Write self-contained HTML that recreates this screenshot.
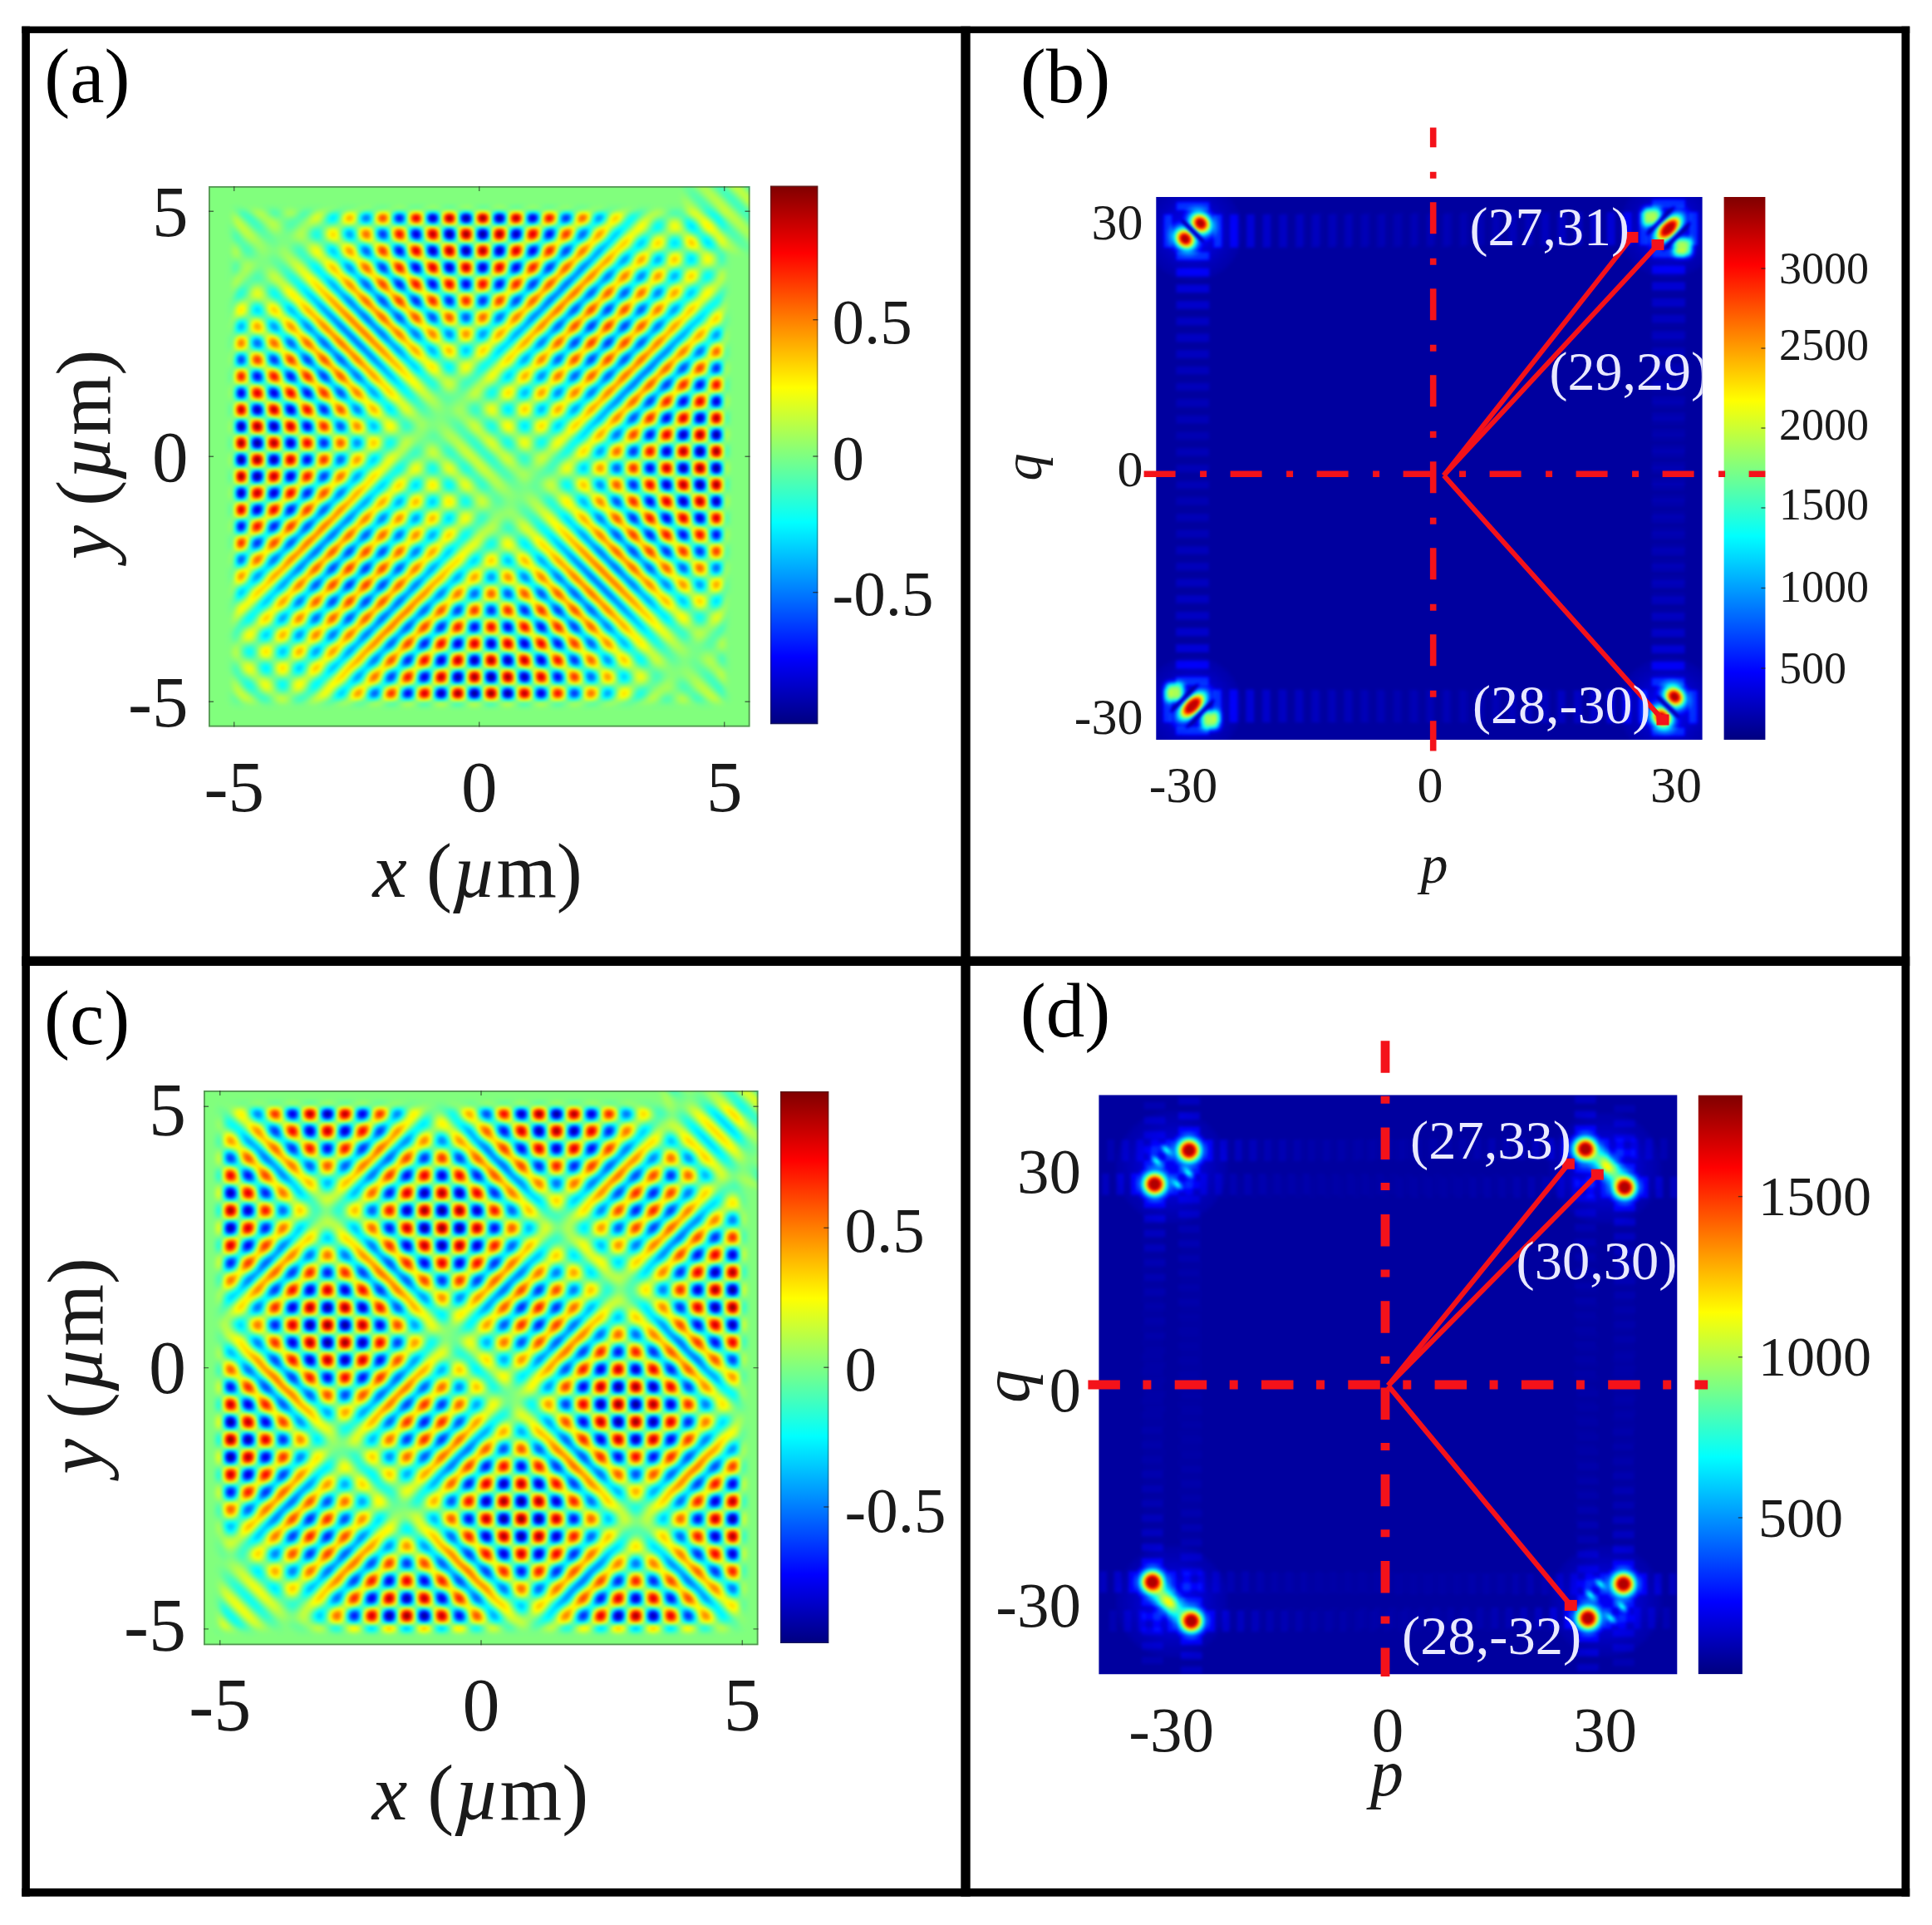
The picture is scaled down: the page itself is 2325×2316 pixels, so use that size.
<!DOCTYPE html>
<html><head><meta charset="utf-8"><title>figure</title>
<style>html,body{margin:0;padding:0;background:#fff}svg{display:block}</style></head>
<body>
<svg width="2325" height="2316" viewBox="0 0 2325 2316">
<defs>
<filter id="jetw" filterUnits="userSpaceOnUse" x="0" y="0" width="2325" height="2316" color-interpolation-filters="sRGB"><feComponentTransfer><feFuncR type="table" tableValues="0 0 0 0 .5 1 1 1 .5"/><feFuncG type="table" tableValues="0 0 .5 1 1 1 .5 0 0"/><feFuncB type="table" tableValues=".5 1 1 1 .5 0 0 0 0"/></feComponentTransfer><feGaussianBlur stdDeviation="1.50"/></filter>
<filter id="jetf" filterUnits="userSpaceOnUse" x="0" y="0" width="2325" height="2316" color-interpolation-filters="sRGB"><feGaussianBlur stdDeviation="1.00"/><feComponentTransfer><feFuncR type="table" tableValues="0 0 0 0 .5 1 1 1 .5"/><feFuncG type="table" tableValues="0 0 .5 1 1 1 .5 0 0"/><feFuncB type="table" tableValues=".5 1 1 1 .5 0 0 0 0"/></feComponentTransfer><feGaussianBlur stdDeviation="1.60"/></filter>
<linearGradient id="jetbar" x1="0" y1="1" x2="0" y2="0"><stop offset="0.0000" stop-color="rgb(0,0,128)"/><stop offset="0.1250" stop-color="rgb(0,0,255)"/><stop offset="0.2500" stop-color="rgb(0,128,255)"/><stop offset="0.3750" stop-color="rgb(0,255,255)"/><stop offset="0.5000" stop-color="rgb(128,255,128)"/><stop offset="0.6250" stop-color="rgb(255,255,0)"/><stop offset="0.7500" stop-color="rgb(255,128,0)"/><stop offset="0.8750" stop-color="rgb(255,0,0)"/><stop offset="1.0000" stop-color="rgb(128,0,0)"/></linearGradient>
<linearGradient id="aw1p" gradientUnits="userSpaceOnUse" x1="460.400" y1="261.700" x2="470.450" y2="271.750" spreadMethod="reflect"><stop offset="0.0000" stop-color="rgb(255,255,255)"/><stop offset="0.1250" stop-color="rgb(245,245,245)"/><stop offset="0.2500" stop-color="rgb(218,218,218)"/><stop offset="0.3750" stop-color="rgb(176,176,176)"/><stop offset="0.5000" stop-color="rgb(128,128,128)"/><stop offset="0.6250" stop-color="rgb(79,79,79)"/><stop offset="0.7500" stop-color="rgb(37,37,37)"/><stop offset="0.8750" stop-color="rgb(10,10,10)"/><stop offset="1.0000" stop-color="rgb(0,0,0)"/></linearGradient>
<linearGradient id="aw1n" gradientUnits="userSpaceOnUse" x1="470.450" y1="271.750" x2="480.500" y2="281.800" spreadMethod="reflect"><stop offset="0.0000" stop-color="rgb(255,255,255)"/><stop offset="0.1250" stop-color="rgb(245,245,245)"/><stop offset="0.2500" stop-color="rgb(218,218,218)"/><stop offset="0.3750" stop-color="rgb(176,176,176)"/><stop offset="0.5000" stop-color="rgb(128,128,128)"/><stop offset="0.6250" stop-color="rgb(79,79,79)"/><stop offset="0.7500" stop-color="rgb(37,37,37)"/><stop offset="0.8750" stop-color="rgb(10,10,10)"/><stop offset="1.0000" stop-color="rgb(0,0,0)"/></linearGradient>
<linearGradient id="aw2p" gradientUnits="userSpaceOnUse" x1="460.400" y1="261.700" x2="470.450" y2="251.650" spreadMethod="reflect"><stop offset="0.0000" stop-color="rgb(255,255,255)"/><stop offset="0.1250" stop-color="rgb(245,245,245)"/><stop offset="0.2500" stop-color="rgb(218,218,218)"/><stop offset="0.3750" stop-color="rgb(176,176,176)"/><stop offset="0.5000" stop-color="rgb(128,128,128)"/><stop offset="0.6250" stop-color="rgb(79,79,79)"/><stop offset="0.7500" stop-color="rgb(37,37,37)"/><stop offset="0.8750" stop-color="rgb(10,10,10)"/><stop offset="1.0000" stop-color="rgb(0,0,0)"/></linearGradient>
<linearGradient id="aw2n" gradientUnits="userSpaceOnUse" x1="470.450" y1="251.650" x2="480.500" y2="241.600" spreadMethod="reflect"><stop offset="0.0000" stop-color="rgb(255,255,255)"/><stop offset="0.1250" stop-color="rgb(245,245,245)"/><stop offset="0.2500" stop-color="rgb(218,218,218)"/><stop offset="0.3750" stop-color="rgb(176,176,176)"/><stop offset="0.5000" stop-color="rgb(128,128,128)"/><stop offset="0.6250" stop-color="rgb(79,79,79)"/><stop offset="0.7500" stop-color="rgb(37,37,37)"/><stop offset="0.8750" stop-color="rgb(10,10,10)"/><stop offset="1.0000" stop-color="rgb(0,0,0)"/></linearGradient>
<linearGradient id="ae1p" gradientUnits="userSpaceOnUse" x1="207.95" y1="918.00" x2="945.45" y2="180.50"><stop offset="0.0000" stop-color="#fff" stop-opacity="0.000"/><stop offset="0.0063" stop-color="#fff" stop-opacity="0.000"/><stop offset="0.0125" stop-color="#fff" stop-opacity="0.000"/><stop offset="0.0187" stop-color="#fff" stop-opacity="0.000"/><stop offset="0.0250" stop-color="#fff" stop-opacity="0.000"/><stop offset="0.0312" stop-color="#fff" stop-opacity="0.000"/><stop offset="0.0375" stop-color="#fff" stop-opacity="0.000"/><stop offset="0.0437" stop-color="#fff" stop-opacity="0.000"/><stop offset="0.0500" stop-color="#fff" stop-opacity="0.000"/><stop offset="0.0563" stop-color="#fff" stop-opacity="0.000"/><stop offset="0.0625" stop-color="#fff" stop-opacity="0.000"/><stop offset="0.0688" stop-color="#fff" stop-opacity="0.000"/><stop offset="0.0750" stop-color="#fff" stop-opacity="0.000"/><stop offset="0.0813" stop-color="#fff" stop-opacity="0.000"/><stop offset="0.0875" stop-color="#fff" stop-opacity="0.000"/><stop offset="0.0938" stop-color="#fff" stop-opacity="0.000"/><stop offset="0.1000" stop-color="#fff" stop-opacity="0.000"/><stop offset="0.1062" stop-color="#fff" stop-opacity="0.000"/><stop offset="0.1125" stop-color="#fff" stop-opacity="0.000"/><stop offset="0.1187" stop-color="#fff" stop-opacity="0.000"/><stop offset="0.1250" stop-color="#fff" stop-opacity="0.000"/><stop offset="0.1313" stop-color="#fff" stop-opacity="0.000"/><stop offset="0.1375" stop-color="#fff" stop-opacity="0.000"/><stop offset="0.1437" stop-color="#fff" stop-opacity="0.000"/><stop offset="0.1500" stop-color="#fff" stop-opacity="0.000"/><stop offset="0.1562" stop-color="#fff" stop-opacity="0.000"/><stop offset="0.1625" stop-color="#fff" stop-opacity="0.000"/><stop offset="0.1688" stop-color="#fff" stop-opacity="0.000"/><stop offset="0.1750" stop-color="#fff" stop-opacity="0.000"/><stop offset="0.1812" stop-color="#fff" stop-opacity="0.000"/><stop offset="0.1875" stop-color="#fff" stop-opacity="0.000"/><stop offset="0.1938" stop-color="#fff" stop-opacity="0.000"/><stop offset="0.2000" stop-color="#fff" stop-opacity="0.000"/><stop offset="0.2062" stop-color="#fff" stop-opacity="0.000"/><stop offset="0.2125" stop-color="#fff" stop-opacity="0.000"/><stop offset="0.2188" stop-color="#fff" stop-opacity="0.000"/><stop offset="0.2250" stop-color="#fff" stop-opacity="0.000"/><stop offset="0.2313" stop-color="#fff" stop-opacity="0.000"/><stop offset="0.2375" stop-color="#fff" stop-opacity="0.000"/><stop offset="0.2437" stop-color="#fff" stop-opacity="0.000"/><stop offset="0.2500" stop-color="#fff" stop-opacity="0.000"/><stop offset="0.2562" stop-color="#fff" stop-opacity="0.000"/><stop offset="0.2625" stop-color="#fff" stop-opacity="0.000"/><stop offset="0.2687" stop-color="#fff" stop-opacity="0.000"/><stop offset="0.2750" stop-color="#fff" stop-opacity="0.000"/><stop offset="0.2812" stop-color="#fff" stop-opacity="0.000"/><stop offset="0.2875" stop-color="#fff" stop-opacity="0.000"/><stop offset="0.2938" stop-color="#fff" stop-opacity="0.000"/><stop offset="0.3000" stop-color="#fff" stop-opacity="0.000"/><stop offset="0.3063" stop-color="#fff" stop-opacity="0.000"/><stop offset="0.3125" stop-color="#fff" stop-opacity="0.000"/><stop offset="0.3187" stop-color="#fff" stop-opacity="0.000"/><stop offset="0.3250" stop-color="#fff" stop-opacity="0.000"/><stop offset="0.3312" stop-color="#fff" stop-opacity="0.000"/><stop offset="0.3375" stop-color="#fff" stop-opacity="0.000"/><stop offset="0.3438" stop-color="#fff" stop-opacity="0.000"/><stop offset="0.3500" stop-color="#fff" stop-opacity="0.000"/><stop offset="0.3563" stop-color="#fff" stop-opacity="0.000"/><stop offset="0.3625" stop-color="#fff" stop-opacity="0.000"/><stop offset="0.3688" stop-color="#fff" stop-opacity="0.000"/><stop offset="0.3750" stop-color="#fff" stop-opacity="0.000"/><stop offset="0.3812" stop-color="#fff" stop-opacity="0.000"/><stop offset="0.3875" stop-color="#fff" stop-opacity="0.000"/><stop offset="0.3937" stop-color="#fff" stop-opacity="0.000"/><stop offset="0.4000" stop-color="#fff" stop-opacity="0.000"/><stop offset="0.4062" stop-color="#fff" stop-opacity="0.000"/><stop offset="0.4125" stop-color="#fff" stop-opacity="0.000"/><stop offset="0.4188" stop-color="#fff" stop-opacity="0.000"/><stop offset="0.4250" stop-color="#fff" stop-opacity="0.000"/><stop offset="0.4313" stop-color="#fff" stop-opacity="0.000"/><stop offset="0.4375" stop-color="#fff" stop-opacity="0.000"/><stop offset="0.4437" stop-color="#fff" stop-opacity="0.000"/><stop offset="0.4500" stop-color="#fff" stop-opacity="0.000"/><stop offset="0.4562" stop-color="#fff" stop-opacity="0.000"/><stop offset="0.4625" stop-color="#fff" stop-opacity="0.000"/><stop offset="0.4688" stop-color="#fff" stop-opacity="0.000"/><stop offset="0.4750" stop-color="#fff" stop-opacity="0.000"/><stop offset="0.4813" stop-color="#fff" stop-opacity="0.000"/><stop offset="0.4875" stop-color="#fff" stop-opacity="0.000"/><stop offset="0.4938" stop-color="#fff" stop-opacity="0.000"/><stop offset="0.5000" stop-color="#fff" stop-opacity="0.000"/><stop offset="0.5062" stop-color="#fff" stop-opacity="0.008"/><stop offset="0.5125" stop-color="#fff" stop-opacity="0.024"/><stop offset="0.5188" stop-color="#fff" stop-opacity="0.046"/><stop offset="0.5250" stop-color="#fff" stop-opacity="0.073"/><stop offset="0.5312" stop-color="#fff" stop-opacity="0.104"/><stop offset="0.5375" stop-color="#fff" stop-opacity="0.138"/><stop offset="0.5437" stop-color="#fff" stop-opacity="0.175"/><stop offset="0.5500" stop-color="#fff" stop-opacity="0.215"/><stop offset="0.5563" stop-color="#fff" stop-opacity="0.257"/><stop offset="0.5625" stop-color="#fff" stop-opacity="0.300"/><stop offset="0.5687" stop-color="#fff" stop-opacity="0.345"/><stop offset="0.5750" stop-color="#fff" stop-opacity="0.390"/><stop offset="0.5813" stop-color="#fff" stop-opacity="0.437"/><stop offset="0.5875" stop-color="#fff" stop-opacity="0.483"/><stop offset="0.5938" stop-color="#fff" stop-opacity="0.529"/><stop offset="0.6000" stop-color="#fff" stop-opacity="0.574"/><stop offset="0.6062" stop-color="#fff" stop-opacity="0.619"/><stop offset="0.6125" stop-color="#fff" stop-opacity="0.662"/><stop offset="0.6188" stop-color="#fff" stop-opacity="0.704"/><stop offset="0.6250" stop-color="#fff" stop-opacity="0.744"/><stop offset="0.6312" stop-color="#fff" stop-opacity="0.782"/><stop offset="0.6375" stop-color="#fff" stop-opacity="0.818"/><stop offset="0.6438" stop-color="#fff" stop-opacity="0.851"/><stop offset="0.6500" stop-color="#fff" stop-opacity="0.881"/><stop offset="0.6562" stop-color="#fff" stop-opacity="0.908"/><stop offset="0.6625" stop-color="#fff" stop-opacity="0.932"/><stop offset="0.6687" stop-color="#fff" stop-opacity="0.952"/><stop offset="0.6750" stop-color="#fff" stop-opacity="0.969"/><stop offset="0.6813" stop-color="#fff" stop-opacity="0.983"/><stop offset="0.6875" stop-color="#fff" stop-opacity="0.992"/><stop offset="0.6937" stop-color="#fff" stop-opacity="0.998"/><stop offset="0.7000" stop-color="#fff" stop-opacity="1.000"/><stop offset="0.7063" stop-color="#fff" stop-opacity="0.998"/><stop offset="0.7125" stop-color="#fff" stop-opacity="0.992"/><stop offset="0.7188" stop-color="#fff" stop-opacity="0.983"/><stop offset="0.7250" stop-color="#fff" stop-opacity="0.969"/><stop offset="0.7312" stop-color="#fff" stop-opacity="0.952"/><stop offset="0.7375" stop-color="#fff" stop-opacity="0.932"/><stop offset="0.7438" stop-color="#fff" stop-opacity="0.908"/><stop offset="0.7500" stop-color="#fff" stop-opacity="0.881"/><stop offset="0.7562" stop-color="#fff" stop-opacity="0.851"/><stop offset="0.7625" stop-color="#fff" stop-opacity="0.818"/><stop offset="0.7688" stop-color="#fff" stop-opacity="0.782"/><stop offset="0.7750" stop-color="#fff" stop-opacity="0.744"/><stop offset="0.7812" stop-color="#fff" stop-opacity="0.704"/><stop offset="0.7875" stop-color="#fff" stop-opacity="0.662"/><stop offset="0.7937" stop-color="#fff" stop-opacity="0.619"/><stop offset="0.8000" stop-color="#fff" stop-opacity="0.574"/><stop offset="0.8063" stop-color="#fff" stop-opacity="0.529"/><stop offset="0.8125" stop-color="#fff" stop-opacity="0.483"/><stop offset="0.8187" stop-color="#fff" stop-opacity="0.437"/><stop offset="0.8250" stop-color="#fff" stop-opacity="0.390"/><stop offset="0.8313" stop-color="#fff" stop-opacity="0.345"/><stop offset="0.8375" stop-color="#fff" stop-opacity="0.300"/><stop offset="0.8438" stop-color="#fff" stop-opacity="0.257"/><stop offset="0.8500" stop-color="#fff" stop-opacity="0.215"/><stop offset="0.8562" stop-color="#fff" stop-opacity="0.175"/><stop offset="0.8625" stop-color="#fff" stop-opacity="0.138"/><stop offset="0.8688" stop-color="#fff" stop-opacity="0.104"/><stop offset="0.8750" stop-color="#fff" stop-opacity="0.073"/><stop offset="0.8812" stop-color="#fff" stop-opacity="0.046"/><stop offset="0.8875" stop-color="#fff" stop-opacity="0.024"/><stop offset="0.8938" stop-color="#fff" stop-opacity="0.008"/><stop offset="0.9000" stop-color="#fff" stop-opacity="0.000"/><stop offset="0.9062" stop-color="#fff" stop-opacity="0.000"/><stop offset="0.9125" stop-color="#fff" stop-opacity="0.000"/><stop offset="0.9187" stop-color="#fff" stop-opacity="0.000"/><stop offset="0.9250" stop-color="#fff" stop-opacity="0.000"/><stop offset="0.9313" stop-color="#fff" stop-opacity="0.000"/><stop offset="0.9375" stop-color="#fff" stop-opacity="0.000"/><stop offset="0.9437" stop-color="#fff" stop-opacity="0.000"/><stop offset="0.9500" stop-color="#fff" stop-opacity="0.000"/><stop offset="0.9563" stop-color="#fff" stop-opacity="0.000"/><stop offset="0.9625" stop-color="#fff" stop-opacity="0.000"/><stop offset="0.9688" stop-color="#fff" stop-opacity="0.000"/><stop offset="0.9750" stop-color="#fff" stop-opacity="0.000"/><stop offset="0.9812" stop-color="#fff" stop-opacity="0.000"/><stop offset="0.9875" stop-color="#fff" stop-opacity="0.000"/><stop offset="0.9938" stop-color="#fff" stop-opacity="0.000"/><stop offset="1.0000" stop-color="#fff" stop-opacity="0.000"/></linearGradient>
<linearGradient id="ae1n" gradientUnits="userSpaceOnUse" x1="207.95" y1="918.00" x2="945.45" y2="180.50"><stop offset="0.0000" stop-color="#fff" stop-opacity="0.000"/><stop offset="0.0063" stop-color="#fff" stop-opacity="0.000"/><stop offset="0.0125" stop-color="#fff" stop-opacity="0.000"/><stop offset="0.0187" stop-color="#fff" stop-opacity="0.000"/><stop offset="0.0250" stop-color="#fff" stop-opacity="0.000"/><stop offset="0.0312" stop-color="#fff" stop-opacity="0.000"/><stop offset="0.0375" stop-color="#fff" stop-opacity="0.000"/><stop offset="0.0437" stop-color="#fff" stop-opacity="0.000"/><stop offset="0.0500" stop-color="#fff" stop-opacity="0.000"/><stop offset="0.0563" stop-color="#fff" stop-opacity="0.000"/><stop offset="0.0625" stop-color="#fff" stop-opacity="0.000"/><stop offset="0.0688" stop-color="#fff" stop-opacity="0.000"/><stop offset="0.0750" stop-color="#fff" stop-opacity="0.000"/><stop offset="0.0813" stop-color="#fff" stop-opacity="0.000"/><stop offset="0.0875" stop-color="#fff" stop-opacity="0.000"/><stop offset="0.0938" stop-color="#fff" stop-opacity="0.000"/><stop offset="0.1000" stop-color="#fff" stop-opacity="0.000"/><stop offset="0.1062" stop-color="#fff" stop-opacity="0.008"/><stop offset="0.1125" stop-color="#fff" stop-opacity="0.024"/><stop offset="0.1187" stop-color="#fff" stop-opacity="0.046"/><stop offset="0.1250" stop-color="#fff" stop-opacity="0.073"/><stop offset="0.1313" stop-color="#fff" stop-opacity="0.104"/><stop offset="0.1375" stop-color="#fff" stop-opacity="0.138"/><stop offset="0.1437" stop-color="#fff" stop-opacity="0.175"/><stop offset="0.1500" stop-color="#fff" stop-opacity="0.215"/><stop offset="0.1562" stop-color="#fff" stop-opacity="0.257"/><stop offset="0.1625" stop-color="#fff" stop-opacity="0.300"/><stop offset="0.1688" stop-color="#fff" stop-opacity="0.345"/><stop offset="0.1750" stop-color="#fff" stop-opacity="0.390"/><stop offset="0.1812" stop-color="#fff" stop-opacity="0.437"/><stop offset="0.1875" stop-color="#fff" stop-opacity="0.483"/><stop offset="0.1938" stop-color="#fff" stop-opacity="0.529"/><stop offset="0.2000" stop-color="#fff" stop-opacity="0.574"/><stop offset="0.2062" stop-color="#fff" stop-opacity="0.619"/><stop offset="0.2125" stop-color="#fff" stop-opacity="0.662"/><stop offset="0.2188" stop-color="#fff" stop-opacity="0.704"/><stop offset="0.2250" stop-color="#fff" stop-opacity="0.744"/><stop offset="0.2313" stop-color="#fff" stop-opacity="0.782"/><stop offset="0.2375" stop-color="#fff" stop-opacity="0.818"/><stop offset="0.2437" stop-color="#fff" stop-opacity="0.851"/><stop offset="0.2500" stop-color="#fff" stop-opacity="0.881"/><stop offset="0.2562" stop-color="#fff" stop-opacity="0.908"/><stop offset="0.2625" stop-color="#fff" stop-opacity="0.932"/><stop offset="0.2687" stop-color="#fff" stop-opacity="0.952"/><stop offset="0.2750" stop-color="#fff" stop-opacity="0.969"/><stop offset="0.2812" stop-color="#fff" stop-opacity="0.983"/><stop offset="0.2875" stop-color="#fff" stop-opacity="0.992"/><stop offset="0.2938" stop-color="#fff" stop-opacity="0.998"/><stop offset="0.3000" stop-color="#fff" stop-opacity="1.000"/><stop offset="0.3063" stop-color="#fff" stop-opacity="0.998"/><stop offset="0.3125" stop-color="#fff" stop-opacity="0.992"/><stop offset="0.3187" stop-color="#fff" stop-opacity="0.983"/><stop offset="0.3250" stop-color="#fff" stop-opacity="0.969"/><stop offset="0.3312" stop-color="#fff" stop-opacity="0.952"/><stop offset="0.3375" stop-color="#fff" stop-opacity="0.932"/><stop offset="0.3438" stop-color="#fff" stop-opacity="0.908"/><stop offset="0.3500" stop-color="#fff" stop-opacity="0.881"/><stop offset="0.3563" stop-color="#fff" stop-opacity="0.851"/><stop offset="0.3625" stop-color="#fff" stop-opacity="0.818"/><stop offset="0.3688" stop-color="#fff" stop-opacity="0.782"/><stop offset="0.3750" stop-color="#fff" stop-opacity="0.744"/><stop offset="0.3812" stop-color="#fff" stop-opacity="0.704"/><stop offset="0.3875" stop-color="#fff" stop-opacity="0.662"/><stop offset="0.3937" stop-color="#fff" stop-opacity="0.619"/><stop offset="0.4000" stop-color="#fff" stop-opacity="0.574"/><stop offset="0.4062" stop-color="#fff" stop-opacity="0.529"/><stop offset="0.4125" stop-color="#fff" stop-opacity="0.483"/><stop offset="0.4188" stop-color="#fff" stop-opacity="0.437"/><stop offset="0.4250" stop-color="#fff" stop-opacity="0.390"/><stop offset="0.4313" stop-color="#fff" stop-opacity="0.345"/><stop offset="0.4375" stop-color="#fff" stop-opacity="0.300"/><stop offset="0.4437" stop-color="#fff" stop-opacity="0.257"/><stop offset="0.4500" stop-color="#fff" stop-opacity="0.215"/><stop offset="0.4562" stop-color="#fff" stop-opacity="0.175"/><stop offset="0.4625" stop-color="#fff" stop-opacity="0.138"/><stop offset="0.4688" stop-color="#fff" stop-opacity="0.104"/><stop offset="0.4750" stop-color="#fff" stop-opacity="0.073"/><stop offset="0.4813" stop-color="#fff" stop-opacity="0.046"/><stop offset="0.4875" stop-color="#fff" stop-opacity="0.024"/><stop offset="0.4938" stop-color="#fff" stop-opacity="0.008"/><stop offset="0.5000" stop-color="#fff" stop-opacity="0.000"/><stop offset="0.5062" stop-color="#fff" stop-opacity="0.000"/><stop offset="0.5125" stop-color="#fff" stop-opacity="0.000"/><stop offset="0.5188" stop-color="#fff" stop-opacity="0.000"/><stop offset="0.5250" stop-color="#fff" stop-opacity="0.000"/><stop offset="0.5312" stop-color="#fff" stop-opacity="0.000"/><stop offset="0.5375" stop-color="#fff" stop-opacity="0.000"/><stop offset="0.5437" stop-color="#fff" stop-opacity="0.000"/><stop offset="0.5500" stop-color="#fff" stop-opacity="0.000"/><stop offset="0.5563" stop-color="#fff" stop-opacity="0.000"/><stop offset="0.5625" stop-color="#fff" stop-opacity="0.000"/><stop offset="0.5687" stop-color="#fff" stop-opacity="0.000"/><stop offset="0.5750" stop-color="#fff" stop-opacity="0.000"/><stop offset="0.5813" stop-color="#fff" stop-opacity="0.000"/><stop offset="0.5875" stop-color="#fff" stop-opacity="0.000"/><stop offset="0.5938" stop-color="#fff" stop-opacity="0.000"/><stop offset="0.6000" stop-color="#fff" stop-opacity="0.000"/><stop offset="0.6062" stop-color="#fff" stop-opacity="0.000"/><stop offset="0.6125" stop-color="#fff" stop-opacity="0.000"/><stop offset="0.6188" stop-color="#fff" stop-opacity="0.000"/><stop offset="0.6250" stop-color="#fff" stop-opacity="0.000"/><stop offset="0.6312" stop-color="#fff" stop-opacity="0.000"/><stop offset="0.6375" stop-color="#fff" stop-opacity="0.000"/><stop offset="0.6438" stop-color="#fff" stop-opacity="0.000"/><stop offset="0.6500" stop-color="#fff" stop-opacity="0.000"/><stop offset="0.6562" stop-color="#fff" stop-opacity="0.000"/><stop offset="0.6625" stop-color="#fff" stop-opacity="0.000"/><stop offset="0.6687" stop-color="#fff" stop-opacity="0.000"/><stop offset="0.6750" stop-color="#fff" stop-opacity="0.000"/><stop offset="0.6813" stop-color="#fff" stop-opacity="0.000"/><stop offset="0.6875" stop-color="#fff" stop-opacity="0.000"/><stop offset="0.6937" stop-color="#fff" stop-opacity="0.000"/><stop offset="0.7000" stop-color="#fff" stop-opacity="0.000"/><stop offset="0.7063" stop-color="#fff" stop-opacity="0.000"/><stop offset="0.7125" stop-color="#fff" stop-opacity="0.000"/><stop offset="0.7188" stop-color="#fff" stop-opacity="0.000"/><stop offset="0.7250" stop-color="#fff" stop-opacity="0.000"/><stop offset="0.7312" stop-color="#fff" stop-opacity="0.000"/><stop offset="0.7375" stop-color="#fff" stop-opacity="0.000"/><stop offset="0.7438" stop-color="#fff" stop-opacity="0.000"/><stop offset="0.7500" stop-color="#fff" stop-opacity="0.000"/><stop offset="0.7562" stop-color="#fff" stop-opacity="0.000"/><stop offset="0.7625" stop-color="#fff" stop-opacity="0.000"/><stop offset="0.7688" stop-color="#fff" stop-opacity="0.000"/><stop offset="0.7750" stop-color="#fff" stop-opacity="0.000"/><stop offset="0.7812" stop-color="#fff" stop-opacity="0.000"/><stop offset="0.7875" stop-color="#fff" stop-opacity="0.000"/><stop offset="0.7937" stop-color="#fff" stop-opacity="0.000"/><stop offset="0.8000" stop-color="#fff" stop-opacity="0.000"/><stop offset="0.8063" stop-color="#fff" stop-opacity="0.000"/><stop offset="0.8125" stop-color="#fff" stop-opacity="0.000"/><stop offset="0.8187" stop-color="#fff" stop-opacity="0.000"/><stop offset="0.8250" stop-color="#fff" stop-opacity="0.000"/><stop offset="0.8313" stop-color="#fff" stop-opacity="0.000"/><stop offset="0.8375" stop-color="#fff" stop-opacity="0.000"/><stop offset="0.8438" stop-color="#fff" stop-opacity="0.000"/><stop offset="0.8500" stop-color="#fff" stop-opacity="0.000"/><stop offset="0.8562" stop-color="#fff" stop-opacity="0.000"/><stop offset="0.8625" stop-color="#fff" stop-opacity="0.000"/><stop offset="0.8688" stop-color="#fff" stop-opacity="0.000"/><stop offset="0.8750" stop-color="#fff" stop-opacity="0.000"/><stop offset="0.8812" stop-color="#fff" stop-opacity="0.000"/><stop offset="0.8875" stop-color="#fff" stop-opacity="0.000"/><stop offset="0.8938" stop-color="#fff" stop-opacity="0.000"/><stop offset="0.9000" stop-color="#fff" stop-opacity="0.000"/><stop offset="0.9062" stop-color="#fff" stop-opacity="0.000"/><stop offset="0.9125" stop-color="#fff" stop-opacity="0.000"/><stop offset="0.9187" stop-color="#fff" stop-opacity="0.000"/><stop offset="0.9250" stop-color="#fff" stop-opacity="0.000"/><stop offset="0.9313" stop-color="#fff" stop-opacity="0.000"/><stop offset="0.9375" stop-color="#fff" stop-opacity="0.000"/><stop offset="0.9437" stop-color="#fff" stop-opacity="0.000"/><stop offset="0.9500" stop-color="#fff" stop-opacity="0.000"/><stop offset="0.9563" stop-color="#fff" stop-opacity="0.000"/><stop offset="0.9625" stop-color="#fff" stop-opacity="0.000"/><stop offset="0.9688" stop-color="#fff" stop-opacity="0.000"/><stop offset="0.9750" stop-color="#fff" stop-opacity="0.000"/><stop offset="0.9812" stop-color="#fff" stop-opacity="0.000"/><stop offset="0.9875" stop-color="#fff" stop-opacity="0.000"/><stop offset="0.9938" stop-color="#fff" stop-opacity="0.000"/><stop offset="1.0000" stop-color="#fff" stop-opacity="0.000"/></linearGradient>
<linearGradient id="ae2p" gradientUnits="userSpaceOnUse" x1="207.95" y1="180.50" x2="945.45" y2="918.00"><stop offset="0.0000" stop-color="#fff" stop-opacity="0.000"/><stop offset="0.0063" stop-color="#fff" stop-opacity="0.000"/><stop offset="0.0125" stop-color="#fff" stop-opacity="0.000"/><stop offset="0.0187" stop-color="#fff" stop-opacity="0.000"/><stop offset="0.0250" stop-color="#fff" stop-opacity="0.000"/><stop offset="0.0312" stop-color="#fff" stop-opacity="0.000"/><stop offset="0.0375" stop-color="#fff" stop-opacity="0.000"/><stop offset="0.0437" stop-color="#fff" stop-opacity="0.000"/><stop offset="0.0500" stop-color="#fff" stop-opacity="0.000"/><stop offset="0.0563" stop-color="#fff" stop-opacity="0.000"/><stop offset="0.0625" stop-color="#fff" stop-opacity="0.000"/><stop offset="0.0688" stop-color="#fff" stop-opacity="0.000"/><stop offset="0.0750" stop-color="#fff" stop-opacity="0.000"/><stop offset="0.0813" stop-color="#fff" stop-opacity="0.000"/><stop offset="0.0875" stop-color="#fff" stop-opacity="0.000"/><stop offset="0.0938" stop-color="#fff" stop-opacity="0.000"/><stop offset="0.1000" stop-color="#fff" stop-opacity="0.000"/><stop offset="0.1062" stop-color="#fff" stop-opacity="0.000"/><stop offset="0.1125" stop-color="#fff" stop-opacity="0.000"/><stop offset="0.1187" stop-color="#fff" stop-opacity="0.000"/><stop offset="0.1250" stop-color="#fff" stop-opacity="0.000"/><stop offset="0.1313" stop-color="#fff" stop-opacity="0.000"/><stop offset="0.1375" stop-color="#fff" stop-opacity="0.000"/><stop offset="0.1437" stop-color="#fff" stop-opacity="0.000"/><stop offset="0.1500" stop-color="#fff" stop-opacity="0.000"/><stop offset="0.1562" stop-color="#fff" stop-opacity="0.000"/><stop offset="0.1625" stop-color="#fff" stop-opacity="0.000"/><stop offset="0.1688" stop-color="#fff" stop-opacity="0.042"/><stop offset="0.1750" stop-color="#fff" stop-opacity="0.100"/><stop offset="0.1812" stop-color="#fff" stop-opacity="0.160"/><stop offset="0.1875" stop-color="#fff" stop-opacity="0.222"/><stop offset="0.1938" stop-color="#fff" stop-opacity="0.285"/><stop offset="0.2000" stop-color="#fff" stop-opacity="0.349"/><stop offset="0.2062" stop-color="#fff" stop-opacity="0.413"/><stop offset="0.2125" stop-color="#fff" stop-opacity="0.476"/><stop offset="0.2188" stop-color="#fff" stop-opacity="0.538"/><stop offset="0.2250" stop-color="#fff" stop-opacity="0.598"/><stop offset="0.2313" stop-color="#fff" stop-opacity="0.656"/><stop offset="0.2375" stop-color="#fff" stop-opacity="0.711"/><stop offset="0.2437" stop-color="#fff" stop-opacity="0.762"/><stop offset="0.2500" stop-color="#fff" stop-opacity="0.809"/><stop offset="0.2562" stop-color="#fff" stop-opacity="0.852"/><stop offset="0.2625" stop-color="#fff" stop-opacity="0.890"/><stop offset="0.2687" stop-color="#fff" stop-opacity="0.923"/><stop offset="0.2750" stop-color="#fff" stop-opacity="0.950"/><stop offset="0.2812" stop-color="#fff" stop-opacity="0.972"/><stop offset="0.2875" stop-color="#fff" stop-opacity="0.987"/><stop offset="0.2938" stop-color="#fff" stop-opacity="0.997"/><stop offset="0.3000" stop-color="#fff" stop-opacity="1.000"/><stop offset="0.3063" stop-color="#fff" stop-opacity="0.997"/><stop offset="0.3125" stop-color="#fff" stop-opacity="0.987"/><stop offset="0.3187" stop-color="#fff" stop-opacity="0.972"/><stop offset="0.3250" stop-color="#fff" stop-opacity="0.950"/><stop offset="0.3312" stop-color="#fff" stop-opacity="0.923"/><stop offset="0.3375" stop-color="#fff" stop-opacity="0.890"/><stop offset="0.3438" stop-color="#fff" stop-opacity="0.852"/><stop offset="0.3500" stop-color="#fff" stop-opacity="0.809"/><stop offset="0.3563" stop-color="#fff" stop-opacity="0.762"/><stop offset="0.3625" stop-color="#fff" stop-opacity="0.711"/><stop offset="0.3688" stop-color="#fff" stop-opacity="0.656"/><stop offset="0.3750" stop-color="#fff" stop-opacity="0.598"/><stop offset="0.3812" stop-color="#fff" stop-opacity="0.538"/><stop offset="0.3875" stop-color="#fff" stop-opacity="0.476"/><stop offset="0.3937" stop-color="#fff" stop-opacity="0.413"/><stop offset="0.4000" stop-color="#fff" stop-opacity="0.349"/><stop offset="0.4062" stop-color="#fff" stop-opacity="0.285"/><stop offset="0.4125" stop-color="#fff" stop-opacity="0.222"/><stop offset="0.4188" stop-color="#fff" stop-opacity="0.160"/><stop offset="0.4250" stop-color="#fff" stop-opacity="0.100"/><stop offset="0.4313" stop-color="#fff" stop-opacity="0.042"/><stop offset="0.4375" stop-color="#fff" stop-opacity="0.000"/><stop offset="0.4437" stop-color="#fff" stop-opacity="0.000"/><stop offset="0.4500" stop-color="#fff" stop-opacity="0.000"/><stop offset="0.4562" stop-color="#fff" stop-opacity="0.000"/><stop offset="0.4625" stop-color="#fff" stop-opacity="0.000"/><stop offset="0.4688" stop-color="#fff" stop-opacity="0.000"/><stop offset="0.4750" stop-color="#fff" stop-opacity="0.000"/><stop offset="0.4813" stop-color="#fff" stop-opacity="0.000"/><stop offset="0.4875" stop-color="#fff" stop-opacity="0.000"/><stop offset="0.4938" stop-color="#fff" stop-opacity="0.000"/><stop offset="0.5000" stop-color="#fff" stop-opacity="0.000"/><stop offset="0.5062" stop-color="#fff" stop-opacity="0.000"/><stop offset="0.5125" stop-color="#fff" stop-opacity="0.000"/><stop offset="0.5188" stop-color="#fff" stop-opacity="0.000"/><stop offset="0.5250" stop-color="#fff" stop-opacity="0.000"/><stop offset="0.5312" stop-color="#fff" stop-opacity="0.000"/><stop offset="0.5375" stop-color="#fff" stop-opacity="0.000"/><stop offset="0.5437" stop-color="#fff" stop-opacity="0.000"/><stop offset="0.5500" stop-color="#fff" stop-opacity="0.000"/><stop offset="0.5563" stop-color="#fff" stop-opacity="0.000"/><stop offset="0.5625" stop-color="#fff" stop-opacity="0.000"/><stop offset="0.5687" stop-color="#fff" stop-opacity="0.042"/><stop offset="0.5750" stop-color="#fff" stop-opacity="0.100"/><stop offset="0.5813" stop-color="#fff" stop-opacity="0.160"/><stop offset="0.5875" stop-color="#fff" stop-opacity="0.222"/><stop offset="0.5938" stop-color="#fff" stop-opacity="0.285"/><stop offset="0.6000" stop-color="#fff" stop-opacity="0.349"/><stop offset="0.6062" stop-color="#fff" stop-opacity="0.413"/><stop offset="0.6125" stop-color="#fff" stop-opacity="0.476"/><stop offset="0.6188" stop-color="#fff" stop-opacity="0.538"/><stop offset="0.6250" stop-color="#fff" stop-opacity="0.598"/><stop offset="0.6312" stop-color="#fff" stop-opacity="0.656"/><stop offset="0.6375" stop-color="#fff" stop-opacity="0.711"/><stop offset="0.6438" stop-color="#fff" stop-opacity="0.762"/><stop offset="0.6500" stop-color="#fff" stop-opacity="0.809"/><stop offset="0.6562" stop-color="#fff" stop-opacity="0.852"/><stop offset="0.6625" stop-color="#fff" stop-opacity="0.890"/><stop offset="0.6687" stop-color="#fff" stop-opacity="0.923"/><stop offset="0.6750" stop-color="#fff" stop-opacity="0.950"/><stop offset="0.6813" stop-color="#fff" stop-opacity="0.972"/><stop offset="0.6875" stop-color="#fff" stop-opacity="0.987"/><stop offset="0.6937" stop-color="#fff" stop-opacity="0.997"/><stop offset="0.7000" stop-color="#fff" stop-opacity="1.000"/><stop offset="0.7063" stop-color="#fff" stop-opacity="0.997"/><stop offset="0.7125" stop-color="#fff" stop-opacity="0.987"/><stop offset="0.7188" stop-color="#fff" stop-opacity="0.972"/><stop offset="0.7250" stop-color="#fff" stop-opacity="0.950"/><stop offset="0.7312" stop-color="#fff" stop-opacity="0.923"/><stop offset="0.7375" stop-color="#fff" stop-opacity="0.890"/><stop offset="0.7438" stop-color="#fff" stop-opacity="0.852"/><stop offset="0.7500" stop-color="#fff" stop-opacity="0.809"/><stop offset="0.7562" stop-color="#fff" stop-opacity="0.762"/><stop offset="0.7625" stop-color="#fff" stop-opacity="0.711"/><stop offset="0.7688" stop-color="#fff" stop-opacity="0.656"/><stop offset="0.7750" stop-color="#fff" stop-opacity="0.598"/><stop offset="0.7812" stop-color="#fff" stop-opacity="0.538"/><stop offset="0.7875" stop-color="#fff" stop-opacity="0.476"/><stop offset="0.7937" stop-color="#fff" stop-opacity="0.413"/><stop offset="0.8000" stop-color="#fff" stop-opacity="0.349"/><stop offset="0.8063" stop-color="#fff" stop-opacity="0.285"/><stop offset="0.8125" stop-color="#fff" stop-opacity="0.222"/><stop offset="0.8187" stop-color="#fff" stop-opacity="0.160"/><stop offset="0.8250" stop-color="#fff" stop-opacity="0.100"/><stop offset="0.8313" stop-color="#fff" stop-opacity="0.042"/><stop offset="0.8375" stop-color="#fff" stop-opacity="0.000"/><stop offset="0.8438" stop-color="#fff" stop-opacity="0.000"/><stop offset="0.8500" stop-color="#fff" stop-opacity="0.000"/><stop offset="0.8562" stop-color="#fff" stop-opacity="0.000"/><stop offset="0.8625" stop-color="#fff" stop-opacity="0.000"/><stop offset="0.8688" stop-color="#fff" stop-opacity="0.000"/><stop offset="0.8750" stop-color="#fff" stop-opacity="0.000"/><stop offset="0.8812" stop-color="#fff" stop-opacity="0.000"/><stop offset="0.8875" stop-color="#fff" stop-opacity="0.000"/><stop offset="0.8938" stop-color="#fff" stop-opacity="0.000"/><stop offset="0.9000" stop-color="#fff" stop-opacity="0.000"/><stop offset="0.9062" stop-color="#fff" stop-opacity="0.000"/><stop offset="0.9125" stop-color="#fff" stop-opacity="0.000"/><stop offset="0.9187" stop-color="#fff" stop-opacity="0.000"/><stop offset="0.9250" stop-color="#fff" stop-opacity="0.000"/><stop offset="0.9313" stop-color="#fff" stop-opacity="0.000"/><stop offset="0.9375" stop-color="#fff" stop-opacity="0.000"/><stop offset="0.9437" stop-color="#fff" stop-opacity="0.000"/><stop offset="0.9500" stop-color="#fff" stop-opacity="0.000"/><stop offset="0.9563" stop-color="#fff" stop-opacity="0.000"/><stop offset="0.9625" stop-color="#fff" stop-opacity="0.000"/><stop offset="0.9688" stop-color="#fff" stop-opacity="0.000"/><stop offset="0.9750" stop-color="#fff" stop-opacity="0.000"/><stop offset="0.9812" stop-color="#fff" stop-opacity="0.000"/><stop offset="0.9875" stop-color="#fff" stop-opacity="0.000"/><stop offset="0.9938" stop-color="#fff" stop-opacity="0.000"/><stop offset="1.0000" stop-color="#fff" stop-opacity="0.000"/></linearGradient>
<linearGradient id="ae2n" gradientUnits="userSpaceOnUse" x1="207.95" y1="180.50" x2="945.45" y2="918.00"><stop offset="0.0000" stop-color="#fff" stop-opacity="0.000"/><stop offset="0.0063" stop-color="#fff" stop-opacity="0.000"/><stop offset="0.0125" stop-color="#fff" stop-opacity="0.000"/><stop offset="0.0187" stop-color="#fff" stop-opacity="0.000"/><stop offset="0.0250" stop-color="#fff" stop-opacity="0.000"/><stop offset="0.0312" stop-color="#fff" stop-opacity="0.000"/><stop offset="0.0375" stop-color="#fff" stop-opacity="0.000"/><stop offset="0.0437" stop-color="#fff" stop-opacity="0.000"/><stop offset="0.0500" stop-color="#fff" stop-opacity="0.000"/><stop offset="0.0563" stop-color="#fff" stop-opacity="0.000"/><stop offset="0.0625" stop-color="#fff" stop-opacity="0.000"/><stop offset="0.0688" stop-color="#fff" stop-opacity="0.000"/><stop offset="0.0750" stop-color="#fff" stop-opacity="0.000"/><stop offset="0.0813" stop-color="#fff" stop-opacity="0.000"/><stop offset="0.0875" stop-color="#fff" stop-opacity="0.000"/><stop offset="0.0938" stop-color="#fff" stop-opacity="0.000"/><stop offset="0.1000" stop-color="#fff" stop-opacity="0.302"/><stop offset="0.1062" stop-color="#fff" stop-opacity="0.299"/><stop offset="0.1125" stop-color="#fff" stop-opacity="0.290"/><stop offset="0.1187" stop-color="#fff" stop-opacity="0.274"/><stop offset="0.1250" stop-color="#fff" stop-opacity="0.253"/><stop offset="0.1313" stop-color="#fff" stop-opacity="0.225"/><stop offset="0.1375" stop-color="#fff" stop-opacity="0.192"/><stop offset="0.1437" stop-color="#fff" stop-opacity="0.154"/><stop offset="0.1500" stop-color="#fff" stop-opacity="0.111"/><stop offset="0.1562" stop-color="#fff" stop-opacity="0.064"/><stop offset="0.1625" stop-color="#fff" stop-opacity="0.013"/><stop offset="0.1688" stop-color="#fff" stop-opacity="0.000"/><stop offset="0.1750" stop-color="#fff" stop-opacity="0.000"/><stop offset="0.1812" stop-color="#fff" stop-opacity="0.000"/><stop offset="0.1875" stop-color="#fff" stop-opacity="0.000"/><stop offset="0.1938" stop-color="#fff" stop-opacity="0.000"/><stop offset="0.2000" stop-color="#fff" stop-opacity="0.000"/><stop offset="0.2062" stop-color="#fff" stop-opacity="0.000"/><stop offset="0.2125" stop-color="#fff" stop-opacity="0.000"/><stop offset="0.2188" stop-color="#fff" stop-opacity="0.000"/><stop offset="0.2250" stop-color="#fff" stop-opacity="0.000"/><stop offset="0.2313" stop-color="#fff" stop-opacity="0.000"/><stop offset="0.2375" stop-color="#fff" stop-opacity="0.000"/><stop offset="0.2437" stop-color="#fff" stop-opacity="0.000"/><stop offset="0.2500" stop-color="#fff" stop-opacity="0.000"/><stop offset="0.2562" stop-color="#fff" stop-opacity="0.000"/><stop offset="0.2625" stop-color="#fff" stop-opacity="0.000"/><stop offset="0.2687" stop-color="#fff" stop-opacity="0.000"/><stop offset="0.2750" stop-color="#fff" stop-opacity="0.000"/><stop offset="0.2812" stop-color="#fff" stop-opacity="0.000"/><stop offset="0.2875" stop-color="#fff" stop-opacity="0.000"/><stop offset="0.2938" stop-color="#fff" stop-opacity="0.000"/><stop offset="0.3000" stop-color="#fff" stop-opacity="0.000"/><stop offset="0.3063" stop-color="#fff" stop-opacity="0.000"/><stop offset="0.3125" stop-color="#fff" stop-opacity="0.000"/><stop offset="0.3187" stop-color="#fff" stop-opacity="0.000"/><stop offset="0.3250" stop-color="#fff" stop-opacity="0.000"/><stop offset="0.3312" stop-color="#fff" stop-opacity="0.000"/><stop offset="0.3375" stop-color="#fff" stop-opacity="0.000"/><stop offset="0.3438" stop-color="#fff" stop-opacity="0.000"/><stop offset="0.3500" stop-color="#fff" stop-opacity="0.000"/><stop offset="0.3563" stop-color="#fff" stop-opacity="0.000"/><stop offset="0.3625" stop-color="#fff" stop-opacity="0.000"/><stop offset="0.3688" stop-color="#fff" stop-opacity="0.000"/><stop offset="0.3750" stop-color="#fff" stop-opacity="0.000"/><stop offset="0.3812" stop-color="#fff" stop-opacity="0.000"/><stop offset="0.3875" stop-color="#fff" stop-opacity="0.000"/><stop offset="0.3937" stop-color="#fff" stop-opacity="0.000"/><stop offset="0.4000" stop-color="#fff" stop-opacity="0.000"/><stop offset="0.4062" stop-color="#fff" stop-opacity="0.000"/><stop offset="0.4125" stop-color="#fff" stop-opacity="0.000"/><stop offset="0.4188" stop-color="#fff" stop-opacity="0.000"/><stop offset="0.4250" stop-color="#fff" stop-opacity="0.000"/><stop offset="0.4313" stop-color="#fff" stop-opacity="0.000"/><stop offset="0.4375" stop-color="#fff" stop-opacity="0.013"/><stop offset="0.4437" stop-color="#fff" stop-opacity="0.064"/><stop offset="0.4500" stop-color="#fff" stop-opacity="0.111"/><stop offset="0.4562" stop-color="#fff" stop-opacity="0.154"/><stop offset="0.4625" stop-color="#fff" stop-opacity="0.192"/><stop offset="0.4688" stop-color="#fff" stop-opacity="0.225"/><stop offset="0.4750" stop-color="#fff" stop-opacity="0.253"/><stop offset="0.4813" stop-color="#fff" stop-opacity="0.274"/><stop offset="0.4875" stop-color="#fff" stop-opacity="0.290"/><stop offset="0.4938" stop-color="#fff" stop-opacity="0.299"/><stop offset="0.5000" stop-color="#fff" stop-opacity="0.302"/><stop offset="0.5062" stop-color="#fff" stop-opacity="0.299"/><stop offset="0.5125" stop-color="#fff" stop-opacity="0.290"/><stop offset="0.5188" stop-color="#fff" stop-opacity="0.274"/><stop offset="0.5250" stop-color="#fff" stop-opacity="0.253"/><stop offset="0.5312" stop-color="#fff" stop-opacity="0.225"/><stop offset="0.5375" stop-color="#fff" stop-opacity="0.192"/><stop offset="0.5437" stop-color="#fff" stop-opacity="0.154"/><stop offset="0.5500" stop-color="#fff" stop-opacity="0.111"/><stop offset="0.5563" stop-color="#fff" stop-opacity="0.064"/><stop offset="0.5625" stop-color="#fff" stop-opacity="0.013"/><stop offset="0.5687" stop-color="#fff" stop-opacity="0.000"/><stop offset="0.5750" stop-color="#fff" stop-opacity="0.000"/><stop offset="0.5813" stop-color="#fff" stop-opacity="0.000"/><stop offset="0.5875" stop-color="#fff" stop-opacity="0.000"/><stop offset="0.5938" stop-color="#fff" stop-opacity="0.000"/><stop offset="0.6000" stop-color="#fff" stop-opacity="0.000"/><stop offset="0.6062" stop-color="#fff" stop-opacity="0.000"/><stop offset="0.6125" stop-color="#fff" stop-opacity="0.000"/><stop offset="0.6188" stop-color="#fff" stop-opacity="0.000"/><stop offset="0.6250" stop-color="#fff" stop-opacity="0.000"/><stop offset="0.6312" stop-color="#fff" stop-opacity="0.000"/><stop offset="0.6375" stop-color="#fff" stop-opacity="0.000"/><stop offset="0.6438" stop-color="#fff" stop-opacity="0.000"/><stop offset="0.6500" stop-color="#fff" stop-opacity="0.000"/><stop offset="0.6562" stop-color="#fff" stop-opacity="0.000"/><stop offset="0.6625" stop-color="#fff" stop-opacity="0.000"/><stop offset="0.6687" stop-color="#fff" stop-opacity="0.000"/><stop offset="0.6750" stop-color="#fff" stop-opacity="0.000"/><stop offset="0.6813" stop-color="#fff" stop-opacity="0.000"/><stop offset="0.6875" stop-color="#fff" stop-opacity="0.000"/><stop offset="0.6937" stop-color="#fff" stop-opacity="0.000"/><stop offset="0.7000" stop-color="#fff" stop-opacity="0.000"/><stop offset="0.7063" stop-color="#fff" stop-opacity="0.000"/><stop offset="0.7125" stop-color="#fff" stop-opacity="0.000"/><stop offset="0.7188" stop-color="#fff" stop-opacity="0.000"/><stop offset="0.7250" stop-color="#fff" stop-opacity="0.000"/><stop offset="0.7312" stop-color="#fff" stop-opacity="0.000"/><stop offset="0.7375" stop-color="#fff" stop-opacity="0.000"/><stop offset="0.7438" stop-color="#fff" stop-opacity="0.000"/><stop offset="0.7500" stop-color="#fff" stop-opacity="0.000"/><stop offset="0.7562" stop-color="#fff" stop-opacity="0.000"/><stop offset="0.7625" stop-color="#fff" stop-opacity="0.000"/><stop offset="0.7688" stop-color="#fff" stop-opacity="0.000"/><stop offset="0.7750" stop-color="#fff" stop-opacity="0.000"/><stop offset="0.7812" stop-color="#fff" stop-opacity="0.000"/><stop offset="0.7875" stop-color="#fff" stop-opacity="0.000"/><stop offset="0.7937" stop-color="#fff" stop-opacity="0.000"/><stop offset="0.8000" stop-color="#fff" stop-opacity="0.000"/><stop offset="0.8063" stop-color="#fff" stop-opacity="0.000"/><stop offset="0.8125" stop-color="#fff" stop-opacity="0.000"/><stop offset="0.8187" stop-color="#fff" stop-opacity="0.000"/><stop offset="0.8250" stop-color="#fff" stop-opacity="0.000"/><stop offset="0.8313" stop-color="#fff" stop-opacity="0.000"/><stop offset="0.8375" stop-color="#fff" stop-opacity="0.013"/><stop offset="0.8438" stop-color="#fff" stop-opacity="0.064"/><stop offset="0.8500" stop-color="#fff" stop-opacity="0.111"/><stop offset="0.8562" stop-color="#fff" stop-opacity="0.154"/><stop offset="0.8625" stop-color="#fff" stop-opacity="0.192"/><stop offset="0.8688" stop-color="#fff" stop-opacity="0.225"/><stop offset="0.8750" stop-color="#fff" stop-opacity="0.253"/><stop offset="0.8812" stop-color="#fff" stop-opacity="0.274"/><stop offset="0.8875" stop-color="#fff" stop-opacity="0.290"/><stop offset="0.8938" stop-color="#fff" stop-opacity="0.299"/><stop offset="0.9000" stop-color="#fff" stop-opacity="0.302"/><stop offset="0.9062" stop-color="#fff" stop-opacity="0.000"/><stop offset="0.9125" stop-color="#fff" stop-opacity="0.000"/><stop offset="0.9187" stop-color="#fff" stop-opacity="0.000"/><stop offset="0.9250" stop-color="#fff" stop-opacity="0.000"/><stop offset="0.9313" stop-color="#fff" stop-opacity="0.000"/><stop offset="0.9375" stop-color="#fff" stop-opacity="0.000"/><stop offset="0.9437" stop-color="#fff" stop-opacity="0.000"/><stop offset="0.9500" stop-color="#fff" stop-opacity="0.000"/><stop offset="0.9563" stop-color="#fff" stop-opacity="0.000"/><stop offset="0.9625" stop-color="#fff" stop-opacity="0.000"/><stop offset="0.9688" stop-color="#fff" stop-opacity="0.000"/><stop offset="0.9750" stop-color="#fff" stop-opacity="0.000"/><stop offset="0.9812" stop-color="#fff" stop-opacity="0.000"/><stop offset="0.9875" stop-color="#fff" stop-opacity="0.000"/><stop offset="0.9938" stop-color="#fff" stop-opacity="0.000"/><stop offset="1.0000" stop-color="#fff" stop-opacity="0.000"/></linearGradient>
<filter id="abl" x="-5%" y="-5%" width="110%" height="110%"><feGaussianBlur stdDeviation="4"/></filter>
<mask id="ame1p" maskUnits="userSpaceOnUse" x="243.00" y="216.00" width="667.50" height="666.50"><g filter="url(#abl)"><rect x="281.70" y="254.25" width="590.00" height="590.00" fill="url(#ae1p)"/></g></mask>
<mask id="ame1n" maskUnits="userSpaceOnUse" x="243.00" y="216.00" width="667.50" height="666.50"><g filter="url(#abl)"><rect x="281.70" y="254.25" width="590.00" height="590.00" fill="url(#ae1n)"/></g></mask>
<mask id="ame2p" maskUnits="userSpaceOnUse" x="243.00" y="216.00" width="667.50" height="666.50"><g filter="url(#abl)"><rect x="281.70" y="254.25" width="590.00" height="590.00" fill="url(#ae2p)"/><rect x="821.70" y="216.00" width="88.80" height="88.25" fill="url(#ae2p)" opacity=".8"/></g></mask>
<mask id="ame2n" maskUnits="userSpaceOnUse" x="243.00" y="216.00" width="667.50" height="666.50"><g filter="url(#abl)"><rect x="281.70" y="254.25" width="590.00" height="590.00" fill="url(#ae2n)"/><rect x="821.70" y="216.00" width="88.80" height="88.25" fill="url(#ae2n)" opacity=".8"/></g></mask>
<clipPath id="aclip"><rect x="251.00" y="224.00" width="651.50" height="650.50"/></clipPath>
<linearGradient id="cw1p" gradientUnits="userSpaceOnUse" x1="584.900" y1="1339.800" x2="595.500" y2="1350.400" spreadMethod="reflect"><stop offset="0.0000" stop-color="rgb(255,255,255)"/><stop offset="0.1250" stop-color="rgb(245,245,245)"/><stop offset="0.2500" stop-color="rgb(218,218,218)"/><stop offset="0.3750" stop-color="rgb(176,176,176)"/><stop offset="0.5000" stop-color="rgb(128,128,128)"/><stop offset="0.6250" stop-color="rgb(79,79,79)"/><stop offset="0.7500" stop-color="rgb(37,37,37)"/><stop offset="0.8750" stop-color="rgb(10,10,10)"/><stop offset="1.0000" stop-color="rgb(0,0,0)"/></linearGradient>
<linearGradient id="cw1n" gradientUnits="userSpaceOnUse" x1="595.500" y1="1350.400" x2="606.100" y2="1361.000" spreadMethod="reflect"><stop offset="0.0000" stop-color="rgb(255,255,255)"/><stop offset="0.1250" stop-color="rgb(245,245,245)"/><stop offset="0.2500" stop-color="rgb(218,218,218)"/><stop offset="0.3750" stop-color="rgb(176,176,176)"/><stop offset="0.5000" stop-color="rgb(128,128,128)"/><stop offset="0.6250" stop-color="rgb(79,79,79)"/><stop offset="0.7500" stop-color="rgb(37,37,37)"/><stop offset="0.8750" stop-color="rgb(10,10,10)"/><stop offset="1.0000" stop-color="rgb(0,0,0)"/></linearGradient>
<linearGradient id="cw2p" gradientUnits="userSpaceOnUse" x1="584.900" y1="1339.800" x2="595.500" y2="1329.200" spreadMethod="reflect"><stop offset="0.0000" stop-color="rgb(255,255,255)"/><stop offset="0.1250" stop-color="rgb(245,245,245)"/><stop offset="0.2500" stop-color="rgb(218,218,218)"/><stop offset="0.3750" stop-color="rgb(176,176,176)"/><stop offset="0.5000" stop-color="rgb(128,128,128)"/><stop offset="0.6250" stop-color="rgb(79,79,79)"/><stop offset="0.7500" stop-color="rgb(37,37,37)"/><stop offset="0.8750" stop-color="rgb(10,10,10)"/><stop offset="1.0000" stop-color="rgb(0,0,0)"/></linearGradient>
<linearGradient id="cw2n" gradientUnits="userSpaceOnUse" x1="595.500" y1="1329.200" x2="606.100" y2="1318.600" spreadMethod="reflect"><stop offset="0.0000" stop-color="rgb(255,255,255)"/><stop offset="0.1250" stop-color="rgb(245,245,245)"/><stop offset="0.2500" stop-color="rgb(218,218,218)"/><stop offset="0.3750" stop-color="rgb(176,176,176)"/><stop offset="0.5000" stop-color="rgb(128,128,128)"/><stop offset="0.6250" stop-color="rgb(79,79,79)"/><stop offset="0.7500" stop-color="rgb(37,37,37)"/><stop offset="0.8750" stop-color="rgb(10,10,10)"/><stop offset="1.0000" stop-color="rgb(0,0,0)"/></linearGradient>
<linearGradient id="ce1p" gradientUnits="userSpaceOnUse" x1="186.12" y1="2038.47" x2="971.88" y2="1252.72"><stop offset="0.0000" stop-color="#fff" stop-opacity="0.000"/><stop offset="0.0063" stop-color="#fff" stop-opacity="0.000"/><stop offset="0.0125" stop-color="#fff" stop-opacity="0.000"/><stop offset="0.0187" stop-color="#fff" stop-opacity="0.000"/><stop offset="0.0250" stop-color="#fff" stop-opacity="0.000"/><stop offset="0.0312" stop-color="#fff" stop-opacity="0.000"/><stop offset="0.0375" stop-color="#fff" stop-opacity="0.000"/><stop offset="0.0437" stop-color="#fff" stop-opacity="0.000"/><stop offset="0.0500" stop-color="#fff" stop-opacity="0.000"/><stop offset="0.0563" stop-color="#fff" stop-opacity="0.000"/><stop offset="0.0625" stop-color="#fff" stop-opacity="0.000"/><stop offset="0.0688" stop-color="#fff" stop-opacity="0.000"/><stop offset="0.0750" stop-color="#fff" stop-opacity="0.000"/><stop offset="0.0813" stop-color="#fff" stop-opacity="0.000"/><stop offset="0.0875" stop-color="#fff" stop-opacity="0.000"/><stop offset="0.0938" stop-color="#fff" stop-opacity="0.000"/><stop offset="0.1000" stop-color="#fff" stop-opacity="0.000"/><stop offset="0.1062" stop-color="#fff" stop-opacity="0.000"/><stop offset="0.1125" stop-color="#fff" stop-opacity="0.000"/><stop offset="0.1187" stop-color="#fff" stop-opacity="0.000"/><stop offset="0.1250" stop-color="#fff" stop-opacity="0.000"/><stop offset="0.1313" stop-color="#fff" stop-opacity="0.000"/><stop offset="0.1375" stop-color="#fff" stop-opacity="0.000"/><stop offset="0.1437" stop-color="#fff" stop-opacity="0.000"/><stop offset="0.1500" stop-color="#fff" stop-opacity="0.000"/><stop offset="0.1562" stop-color="#fff" stop-opacity="0.000"/><stop offset="0.1625" stop-color="#fff" stop-opacity="0.000"/><stop offset="0.1688" stop-color="#fff" stop-opacity="0.089"/><stop offset="0.1750" stop-color="#fff" stop-opacity="0.204"/><stop offset="0.1812" stop-color="#fff" stop-opacity="0.317"/><stop offset="0.1875" stop-color="#fff" stop-opacity="0.425"/><stop offset="0.1938" stop-color="#fff" stop-opacity="0.528"/><stop offset="0.2000" stop-color="#fff" stop-opacity="0.623"/><stop offset="0.2062" stop-color="#fff" stop-opacity="0.710"/><stop offset="0.2125" stop-color="#fff" stop-opacity="0.788"/><stop offset="0.2188" stop-color="#fff" stop-opacity="0.854"/><stop offset="0.2250" stop-color="#fff" stop-opacity="0.909"/><stop offset="0.2313" stop-color="#fff" stop-opacity="0.951"/><stop offset="0.2375" stop-color="#fff" stop-opacity="0.981"/><stop offset="0.2437" stop-color="#fff" stop-opacity="0.997"/><stop offset="0.2500" stop-color="#fff" stop-opacity="0.999"/><stop offset="0.2562" stop-color="#fff" stop-opacity="0.988"/><stop offset="0.2625" stop-color="#fff" stop-opacity="0.963"/><stop offset="0.2687" stop-color="#fff" stop-opacity="0.926"/><stop offset="0.2750" stop-color="#fff" stop-opacity="0.875"/><stop offset="0.2812" stop-color="#fff" stop-opacity="0.813"/><stop offset="0.2875" stop-color="#fff" stop-opacity="0.739"/><stop offset="0.2938" stop-color="#fff" stop-opacity="0.656"/><stop offset="0.3000" stop-color="#fff" stop-opacity="0.563"/><stop offset="0.3063" stop-color="#fff" stop-opacity="0.463"/><stop offset="0.3125" stop-color="#fff" stop-opacity="0.357"/><stop offset="0.3187" stop-color="#fff" stop-opacity="0.245"/><stop offset="0.3250" stop-color="#fff" stop-opacity="0.131"/><stop offset="0.3312" stop-color="#fff" stop-opacity="0.014"/><stop offset="0.3375" stop-color="#fff" stop-opacity="0.000"/><stop offset="0.3438" stop-color="#fff" stop-opacity="0.000"/><stop offset="0.3500" stop-color="#fff" stop-opacity="0.000"/><stop offset="0.3563" stop-color="#fff" stop-opacity="0.000"/><stop offset="0.3625" stop-color="#fff" stop-opacity="0.000"/><stop offset="0.3688" stop-color="#fff" stop-opacity="0.000"/><stop offset="0.3750" stop-color="#fff" stop-opacity="0.000"/><stop offset="0.3812" stop-color="#fff" stop-opacity="0.000"/><stop offset="0.3875" stop-color="#fff" stop-opacity="0.000"/><stop offset="0.3937" stop-color="#fff" stop-opacity="0.000"/><stop offset="0.4000" stop-color="#fff" stop-opacity="0.000"/><stop offset="0.4062" stop-color="#fff" stop-opacity="0.000"/><stop offset="0.4125" stop-color="#fff" stop-opacity="0.000"/><stop offset="0.4188" stop-color="#fff" stop-opacity="0.000"/><stop offset="0.4250" stop-color="#fff" stop-opacity="0.000"/><stop offset="0.4313" stop-color="#fff" stop-opacity="0.000"/><stop offset="0.4375" stop-color="#fff" stop-opacity="0.000"/><stop offset="0.4437" stop-color="#fff" stop-opacity="0.000"/><stop offset="0.4500" stop-color="#fff" stop-opacity="0.000"/><stop offset="0.4562" stop-color="#fff" stop-opacity="0.000"/><stop offset="0.4625" stop-color="#fff" stop-opacity="0.000"/><stop offset="0.4688" stop-color="#fff" stop-opacity="0.000"/><stop offset="0.4750" stop-color="#fff" stop-opacity="0.000"/><stop offset="0.4813" stop-color="#fff" stop-opacity="0.000"/><stop offset="0.4875" stop-color="#fff" stop-opacity="0.000"/><stop offset="0.4938" stop-color="#fff" stop-opacity="0.000"/><stop offset="0.5000" stop-color="#fff" stop-opacity="0.000"/><stop offset="0.5062" stop-color="#fff" stop-opacity="0.117"/><stop offset="0.5125" stop-color="#fff" stop-opacity="0.232"/><stop offset="0.5188" stop-color="#fff" stop-opacity="0.343"/><stop offset="0.5250" stop-color="#fff" stop-opacity="0.451"/><stop offset="0.5312" stop-color="#fff" stop-opacity="0.552"/><stop offset="0.5375" stop-color="#fff" stop-opacity="0.645"/><stop offset="0.5437" stop-color="#fff" stop-opacity="0.730"/><stop offset="0.5500" stop-color="#fff" stop-opacity="0.805"/><stop offset="0.5563" stop-color="#fff" stop-opacity="0.868"/><stop offset="0.5625" stop-color="#fff" stop-opacity="0.920"/><stop offset="0.5687" stop-color="#fff" stop-opacity="0.960"/><stop offset="0.5750" stop-color="#fff" stop-opacity="0.986"/><stop offset="0.5813" stop-color="#fff" stop-opacity="0.999"/><stop offset="0.5875" stop-color="#fff" stop-opacity="0.998"/><stop offset="0.5938" stop-color="#fff" stop-opacity="0.983"/><stop offset="0.6000" stop-color="#fff" stop-opacity="0.956"/><stop offset="0.6062" stop-color="#fff" stop-opacity="0.915"/><stop offset="0.6125" stop-color="#fff" stop-opacity="0.861"/><stop offset="0.6188" stop-color="#fff" stop-opacity="0.796"/><stop offset="0.6250" stop-color="#fff" stop-opacity="0.720"/><stop offset="0.6312" stop-color="#fff" stop-opacity="0.634"/><stop offset="0.6375" stop-color="#fff" stop-opacity="0.540"/><stop offset="0.6438" stop-color="#fff" stop-opacity="0.438"/><stop offset="0.6500" stop-color="#fff" stop-opacity="0.330"/><stop offset="0.6562" stop-color="#fff" stop-opacity="0.218"/><stop offset="0.6625" stop-color="#fff" stop-opacity="0.103"/><stop offset="0.6687" stop-color="#fff" stop-opacity="0.000"/><stop offset="0.6750" stop-color="#fff" stop-opacity="0.000"/><stop offset="0.6813" stop-color="#fff" stop-opacity="0.000"/><stop offset="0.6875" stop-color="#fff" stop-opacity="0.000"/><stop offset="0.6937" stop-color="#fff" stop-opacity="0.000"/><stop offset="0.7000" stop-color="#fff" stop-opacity="0.000"/><stop offset="0.7063" stop-color="#fff" stop-opacity="0.000"/><stop offset="0.7125" stop-color="#fff" stop-opacity="0.000"/><stop offset="0.7188" stop-color="#fff" stop-opacity="0.000"/><stop offset="0.7250" stop-color="#fff" stop-opacity="0.000"/><stop offset="0.7312" stop-color="#fff" stop-opacity="0.000"/><stop offset="0.7375" stop-color="#fff" stop-opacity="0.000"/><stop offset="0.7438" stop-color="#fff" stop-opacity="0.000"/><stop offset="0.7500" stop-color="#fff" stop-opacity="0.000"/><stop offset="0.7562" stop-color="#fff" stop-opacity="0.000"/><stop offset="0.7625" stop-color="#fff" stop-opacity="0.000"/><stop offset="0.7688" stop-color="#fff" stop-opacity="0.000"/><stop offset="0.7750" stop-color="#fff" stop-opacity="0.000"/><stop offset="0.7812" stop-color="#fff" stop-opacity="0.000"/><stop offset="0.7875" stop-color="#fff" stop-opacity="0.000"/><stop offset="0.7937" stop-color="#fff" stop-opacity="0.000"/><stop offset="0.8000" stop-color="#fff" stop-opacity="0.000"/><stop offset="0.8063" stop-color="#fff" stop-opacity="0.000"/><stop offset="0.8125" stop-color="#fff" stop-opacity="0.000"/><stop offset="0.8187" stop-color="#fff" stop-opacity="0.000"/><stop offset="0.8250" stop-color="#fff" stop-opacity="0.000"/><stop offset="0.8313" stop-color="#fff" stop-opacity="0.000"/><stop offset="0.8375" stop-color="#fff" stop-opacity="0.000"/><stop offset="0.8438" stop-color="#fff" stop-opacity="0.000"/><stop offset="0.8500" stop-color="#fff" stop-opacity="0.000"/><stop offset="0.8562" stop-color="#fff" stop-opacity="0.000"/><stop offset="0.8625" stop-color="#fff" stop-opacity="0.000"/><stop offset="0.8688" stop-color="#fff" stop-opacity="0.000"/><stop offset="0.8750" stop-color="#fff" stop-opacity="0.000"/><stop offset="0.8812" stop-color="#fff" stop-opacity="0.000"/><stop offset="0.8875" stop-color="#fff" stop-opacity="0.000"/><stop offset="0.8938" stop-color="#fff" stop-opacity="0.000"/><stop offset="0.9000" stop-color="#fff" stop-opacity="0.000"/><stop offset="0.9062" stop-color="#fff" stop-opacity="0.000"/><stop offset="0.9125" stop-color="#fff" stop-opacity="0.000"/><stop offset="0.9187" stop-color="#fff" stop-opacity="0.000"/><stop offset="0.9250" stop-color="#fff" stop-opacity="0.000"/><stop offset="0.9313" stop-color="#fff" stop-opacity="0.000"/><stop offset="0.9375" stop-color="#fff" stop-opacity="0.000"/><stop offset="0.9437" stop-color="#fff" stop-opacity="0.000"/><stop offset="0.9500" stop-color="#fff" stop-opacity="0.000"/><stop offset="0.9563" stop-color="#fff" stop-opacity="0.000"/><stop offset="0.9625" stop-color="#fff" stop-opacity="0.000"/><stop offset="0.9688" stop-color="#fff" stop-opacity="0.000"/><stop offset="0.9750" stop-color="#fff" stop-opacity="0.000"/><stop offset="0.9812" stop-color="#fff" stop-opacity="0.000"/><stop offset="0.9875" stop-color="#fff" stop-opacity="0.000"/><stop offset="0.9938" stop-color="#fff" stop-opacity="0.000"/><stop offset="1.0000" stop-color="#fff" stop-opacity="0.000"/></linearGradient>
<linearGradient id="ce1n" gradientUnits="userSpaceOnUse" x1="186.12" y1="2038.47" x2="971.88" y2="1252.72"><stop offset="0.0000" stop-color="#fff" stop-opacity="0.000"/><stop offset="0.0063" stop-color="#fff" stop-opacity="0.000"/><stop offset="0.0125" stop-color="#fff" stop-opacity="0.000"/><stop offset="0.0187" stop-color="#fff" stop-opacity="0.000"/><stop offset="0.0250" stop-color="#fff" stop-opacity="0.000"/><stop offset="0.0312" stop-color="#fff" stop-opacity="0.000"/><stop offset="0.0375" stop-color="#fff" stop-opacity="0.000"/><stop offset="0.0437" stop-color="#fff" stop-opacity="0.000"/><stop offset="0.0500" stop-color="#fff" stop-opacity="0.000"/><stop offset="0.0563" stop-color="#fff" stop-opacity="0.000"/><stop offset="0.0625" stop-color="#fff" stop-opacity="0.000"/><stop offset="0.0688" stop-color="#fff" stop-opacity="0.000"/><stop offset="0.0750" stop-color="#fff" stop-opacity="0.000"/><stop offset="0.0813" stop-color="#fff" stop-opacity="0.000"/><stop offset="0.0875" stop-color="#fff" stop-opacity="0.000"/><stop offset="0.0938" stop-color="#fff" stop-opacity="0.000"/><stop offset="0.1000" stop-color="#fff" stop-opacity="0.000"/><stop offset="0.1062" stop-color="#fff" stop-opacity="0.000"/><stop offset="0.1125" stop-color="#fff" stop-opacity="0.000"/><stop offset="0.1187" stop-color="#fff" stop-opacity="0.000"/><stop offset="0.1250" stop-color="#fff" stop-opacity="0.000"/><stop offset="0.1313" stop-color="#fff" stop-opacity="0.000"/><stop offset="0.1375" stop-color="#fff" stop-opacity="0.000"/><stop offset="0.1437" stop-color="#fff" stop-opacity="0.000"/><stop offset="0.1500" stop-color="#fff" stop-opacity="0.000"/><stop offset="0.1562" stop-color="#fff" stop-opacity="0.000"/><stop offset="0.1625" stop-color="#fff" stop-opacity="0.000"/><stop offset="0.1688" stop-color="#fff" stop-opacity="0.000"/><stop offset="0.1750" stop-color="#fff" stop-opacity="0.000"/><stop offset="0.1812" stop-color="#fff" stop-opacity="0.000"/><stop offset="0.1875" stop-color="#fff" stop-opacity="0.000"/><stop offset="0.1938" stop-color="#fff" stop-opacity="0.000"/><stop offset="0.2000" stop-color="#fff" stop-opacity="0.000"/><stop offset="0.2062" stop-color="#fff" stop-opacity="0.000"/><stop offset="0.2125" stop-color="#fff" stop-opacity="0.000"/><stop offset="0.2188" stop-color="#fff" stop-opacity="0.000"/><stop offset="0.2250" stop-color="#fff" stop-opacity="0.000"/><stop offset="0.2313" stop-color="#fff" stop-opacity="0.000"/><stop offset="0.2375" stop-color="#fff" stop-opacity="0.000"/><stop offset="0.2437" stop-color="#fff" stop-opacity="0.000"/><stop offset="0.2500" stop-color="#fff" stop-opacity="0.000"/><stop offset="0.2562" stop-color="#fff" stop-opacity="0.000"/><stop offset="0.2625" stop-color="#fff" stop-opacity="0.000"/><stop offset="0.2687" stop-color="#fff" stop-opacity="0.000"/><stop offset="0.2750" stop-color="#fff" stop-opacity="0.000"/><stop offset="0.2812" stop-color="#fff" stop-opacity="0.000"/><stop offset="0.2875" stop-color="#fff" stop-opacity="0.000"/><stop offset="0.2938" stop-color="#fff" stop-opacity="0.000"/><stop offset="0.3000" stop-color="#fff" stop-opacity="0.000"/><stop offset="0.3063" stop-color="#fff" stop-opacity="0.000"/><stop offset="0.3125" stop-color="#fff" stop-opacity="0.000"/><stop offset="0.3187" stop-color="#fff" stop-opacity="0.000"/><stop offset="0.3250" stop-color="#fff" stop-opacity="0.000"/><stop offset="0.3312" stop-color="#fff" stop-opacity="0.000"/><stop offset="0.3375" stop-color="#fff" stop-opacity="0.103"/><stop offset="0.3438" stop-color="#fff" stop-opacity="0.218"/><stop offset="0.3500" stop-color="#fff" stop-opacity="0.330"/><stop offset="0.3563" stop-color="#fff" stop-opacity="0.438"/><stop offset="0.3625" stop-color="#fff" stop-opacity="0.540"/><stop offset="0.3688" stop-color="#fff" stop-opacity="0.634"/><stop offset="0.3750" stop-color="#fff" stop-opacity="0.720"/><stop offset="0.3812" stop-color="#fff" stop-opacity="0.796"/><stop offset="0.3875" stop-color="#fff" stop-opacity="0.861"/><stop offset="0.3937" stop-color="#fff" stop-opacity="0.915"/><stop offset="0.4000" stop-color="#fff" stop-opacity="0.956"/><stop offset="0.4062" stop-color="#fff" stop-opacity="0.983"/><stop offset="0.4125" stop-color="#fff" stop-opacity="0.998"/><stop offset="0.4188" stop-color="#fff" stop-opacity="0.999"/><stop offset="0.4250" stop-color="#fff" stop-opacity="0.986"/><stop offset="0.4313" stop-color="#fff" stop-opacity="0.960"/><stop offset="0.4375" stop-color="#fff" stop-opacity="0.920"/><stop offset="0.4437" stop-color="#fff" stop-opacity="0.868"/><stop offset="0.4500" stop-color="#fff" stop-opacity="0.805"/><stop offset="0.4562" stop-color="#fff" stop-opacity="0.730"/><stop offset="0.4625" stop-color="#fff" stop-opacity="0.645"/><stop offset="0.4688" stop-color="#fff" stop-opacity="0.552"/><stop offset="0.4750" stop-color="#fff" stop-opacity="0.451"/><stop offset="0.4813" stop-color="#fff" stop-opacity="0.343"/><stop offset="0.4875" stop-color="#fff" stop-opacity="0.232"/><stop offset="0.4938" stop-color="#fff" stop-opacity="0.117"/><stop offset="0.5000" stop-color="#fff" stop-opacity="0.000"/><stop offset="0.5062" stop-color="#fff" stop-opacity="0.000"/><stop offset="0.5125" stop-color="#fff" stop-opacity="0.000"/><stop offset="0.5188" stop-color="#fff" stop-opacity="0.000"/><stop offset="0.5250" stop-color="#fff" stop-opacity="0.000"/><stop offset="0.5312" stop-color="#fff" stop-opacity="0.000"/><stop offset="0.5375" stop-color="#fff" stop-opacity="0.000"/><stop offset="0.5437" stop-color="#fff" stop-opacity="0.000"/><stop offset="0.5500" stop-color="#fff" stop-opacity="0.000"/><stop offset="0.5563" stop-color="#fff" stop-opacity="0.000"/><stop offset="0.5625" stop-color="#fff" stop-opacity="0.000"/><stop offset="0.5687" stop-color="#fff" stop-opacity="0.000"/><stop offset="0.5750" stop-color="#fff" stop-opacity="0.000"/><stop offset="0.5813" stop-color="#fff" stop-opacity="0.000"/><stop offset="0.5875" stop-color="#fff" stop-opacity="0.000"/><stop offset="0.5938" stop-color="#fff" stop-opacity="0.000"/><stop offset="0.6000" stop-color="#fff" stop-opacity="0.000"/><stop offset="0.6062" stop-color="#fff" stop-opacity="0.000"/><stop offset="0.6125" stop-color="#fff" stop-opacity="0.000"/><stop offset="0.6188" stop-color="#fff" stop-opacity="0.000"/><stop offset="0.6250" stop-color="#fff" stop-opacity="0.000"/><stop offset="0.6312" stop-color="#fff" stop-opacity="0.000"/><stop offset="0.6375" stop-color="#fff" stop-opacity="0.000"/><stop offset="0.6438" stop-color="#fff" stop-opacity="0.000"/><stop offset="0.6500" stop-color="#fff" stop-opacity="0.000"/><stop offset="0.6562" stop-color="#fff" stop-opacity="0.000"/><stop offset="0.6625" stop-color="#fff" stop-opacity="0.000"/><stop offset="0.6687" stop-color="#fff" stop-opacity="0.014"/><stop offset="0.6750" stop-color="#fff" stop-opacity="0.131"/><stop offset="0.6813" stop-color="#fff" stop-opacity="0.245"/><stop offset="0.6875" stop-color="#fff" stop-opacity="0.357"/><stop offset="0.6937" stop-color="#fff" stop-opacity="0.463"/><stop offset="0.7000" stop-color="#fff" stop-opacity="0.563"/><stop offset="0.7063" stop-color="#fff" stop-opacity="0.656"/><stop offset="0.7125" stop-color="#fff" stop-opacity="0.739"/><stop offset="0.7188" stop-color="#fff" stop-opacity="0.813"/><stop offset="0.7250" stop-color="#fff" stop-opacity="0.875"/><stop offset="0.7312" stop-color="#fff" stop-opacity="0.926"/><stop offset="0.7375" stop-color="#fff" stop-opacity="0.963"/><stop offset="0.7438" stop-color="#fff" stop-opacity="0.988"/><stop offset="0.7500" stop-color="#fff" stop-opacity="0.999"/><stop offset="0.7562" stop-color="#fff" stop-opacity="0.997"/><stop offset="0.7625" stop-color="#fff" stop-opacity="0.981"/><stop offset="0.7688" stop-color="#fff" stop-opacity="0.951"/><stop offset="0.7750" stop-color="#fff" stop-opacity="0.909"/><stop offset="0.7812" stop-color="#fff" stop-opacity="0.854"/><stop offset="0.7875" stop-color="#fff" stop-opacity="0.788"/><stop offset="0.7937" stop-color="#fff" stop-opacity="0.710"/><stop offset="0.8000" stop-color="#fff" stop-opacity="0.623"/><stop offset="0.8063" stop-color="#fff" stop-opacity="0.528"/><stop offset="0.8125" stop-color="#fff" stop-opacity="0.425"/><stop offset="0.8187" stop-color="#fff" stop-opacity="0.317"/><stop offset="0.8250" stop-color="#fff" stop-opacity="0.204"/><stop offset="0.8313" stop-color="#fff" stop-opacity="0.089"/><stop offset="0.8375" stop-color="#fff" stop-opacity="0.000"/><stop offset="0.8438" stop-color="#fff" stop-opacity="0.000"/><stop offset="0.8500" stop-color="#fff" stop-opacity="0.000"/><stop offset="0.8562" stop-color="#fff" stop-opacity="0.000"/><stop offset="0.8625" stop-color="#fff" stop-opacity="0.000"/><stop offset="0.8688" stop-color="#fff" stop-opacity="0.000"/><stop offset="0.8750" stop-color="#fff" stop-opacity="0.000"/><stop offset="0.8812" stop-color="#fff" stop-opacity="0.000"/><stop offset="0.8875" stop-color="#fff" stop-opacity="0.000"/><stop offset="0.8938" stop-color="#fff" stop-opacity="0.000"/><stop offset="0.9000" stop-color="#fff" stop-opacity="0.000"/><stop offset="0.9062" stop-color="#fff" stop-opacity="0.000"/><stop offset="0.9125" stop-color="#fff" stop-opacity="0.000"/><stop offset="0.9187" stop-color="#fff" stop-opacity="0.000"/><stop offset="0.9250" stop-color="#fff" stop-opacity="0.000"/><stop offset="0.9313" stop-color="#fff" stop-opacity="0.000"/><stop offset="0.9375" stop-color="#fff" stop-opacity="0.000"/><stop offset="0.9437" stop-color="#fff" stop-opacity="0.000"/><stop offset="0.9500" stop-color="#fff" stop-opacity="0.000"/><stop offset="0.9563" stop-color="#fff" stop-opacity="0.000"/><stop offset="0.9625" stop-color="#fff" stop-opacity="0.000"/><stop offset="0.9688" stop-color="#fff" stop-opacity="0.000"/><stop offset="0.9750" stop-color="#fff" stop-opacity="0.000"/><stop offset="0.9812" stop-color="#fff" stop-opacity="0.000"/><stop offset="0.9875" stop-color="#fff" stop-opacity="0.000"/><stop offset="0.9938" stop-color="#fff" stop-opacity="0.000"/><stop offset="1.0000" stop-color="#fff" stop-opacity="0.000"/></linearGradient>
<linearGradient id="ce2p" gradientUnits="userSpaceOnUse" x1="186.12" y1="1252.72" x2="971.88" y2="2038.47"><stop offset="0.0000" stop-color="#fff" stop-opacity="0.000"/><stop offset="0.0063" stop-color="#fff" stop-opacity="0.000"/><stop offset="0.0125" stop-color="#fff" stop-opacity="0.000"/><stop offset="0.0187" stop-color="#fff" stop-opacity="0.000"/><stop offset="0.0250" stop-color="#fff" stop-opacity="0.000"/><stop offset="0.0312" stop-color="#fff" stop-opacity="0.000"/><stop offset="0.0375" stop-color="#fff" stop-opacity="0.000"/><stop offset="0.0437" stop-color="#fff" stop-opacity="0.000"/><stop offset="0.0500" stop-color="#fff" stop-opacity="0.000"/><stop offset="0.0563" stop-color="#fff" stop-opacity="0.000"/><stop offset="0.0625" stop-color="#fff" stop-opacity="0.000"/><stop offset="0.0688" stop-color="#fff" stop-opacity="0.000"/><stop offset="0.0750" stop-color="#fff" stop-opacity="0.000"/><stop offset="0.0813" stop-color="#fff" stop-opacity="0.000"/><stop offset="0.0875" stop-color="#fff" stop-opacity="0.000"/><stop offset="0.0938" stop-color="#fff" stop-opacity="0.000"/><stop offset="0.1000" stop-color="#fff" stop-opacity="0.000"/><stop offset="0.1062" stop-color="#fff" stop-opacity="0.115"/><stop offset="0.1125" stop-color="#fff" stop-opacity="0.229"/><stop offset="0.1187" stop-color="#fff" stop-opacity="0.339"/><stop offset="0.1250" stop-color="#fff" stop-opacity="0.445"/><stop offset="0.1313" stop-color="#fff" stop-opacity="0.543"/><stop offset="0.1375" stop-color="#fff" stop-opacity="0.634"/><stop offset="0.1437" stop-color="#fff" stop-opacity="0.715"/><stop offset="0.1500" stop-color="#fff" stop-opacity="0.786"/><stop offset="0.1562" stop-color="#fff" stop-opacity="0.845"/><stop offset="0.1625" stop-color="#fff" stop-opacity="0.892"/><stop offset="0.1688" stop-color="#fff" stop-opacity="0.925"/><stop offset="0.1750" stop-color="#fff" stop-opacity="0.944"/><stop offset="0.1812" stop-color="#fff" stop-opacity="0.950"/><stop offset="0.1875" stop-color="#fff" stop-opacity="0.941"/><stop offset="0.1938" stop-color="#fff" stop-opacity="0.919"/><stop offset="0.2000" stop-color="#fff" stop-opacity="0.883"/><stop offset="0.2062" stop-color="#fff" stop-opacity="0.834"/><stop offset="0.2125" stop-color="#fff" stop-opacity="0.772"/><stop offset="0.2188" stop-color="#fff" stop-opacity="0.699"/><stop offset="0.2250" stop-color="#fff" stop-opacity="0.616"/><stop offset="0.2313" stop-color="#fff" stop-opacity="0.524"/><stop offset="0.2375" stop-color="#fff" stop-opacity="0.423"/><stop offset="0.2437" stop-color="#fff" stop-opacity="0.317"/><stop offset="0.2500" stop-color="#fff" stop-opacity="0.206"/><stop offset="0.2562" stop-color="#fff" stop-opacity="0.092"/><stop offset="0.2625" stop-color="#fff" stop-opacity="0.000"/><stop offset="0.2687" stop-color="#fff" stop-opacity="0.000"/><stop offset="0.2750" stop-color="#fff" stop-opacity="0.000"/><stop offset="0.2812" stop-color="#fff" stop-opacity="0.000"/><stop offset="0.2875" stop-color="#fff" stop-opacity="0.000"/><stop offset="0.2938" stop-color="#fff" stop-opacity="0.000"/><stop offset="0.3000" stop-color="#fff" stop-opacity="0.000"/><stop offset="0.3063" stop-color="#fff" stop-opacity="0.000"/><stop offset="0.3125" stop-color="#fff" stop-opacity="0.000"/><stop offset="0.3187" stop-color="#fff" stop-opacity="0.000"/><stop offset="0.3250" stop-color="#fff" stop-opacity="0.000"/><stop offset="0.3312" stop-color="#fff" stop-opacity="0.000"/><stop offset="0.3375" stop-color="#fff" stop-opacity="0.000"/><stop offset="0.3438" stop-color="#fff" stop-opacity="0.000"/><stop offset="0.3500" stop-color="#fff" stop-opacity="0.000"/><stop offset="0.3563" stop-color="#fff" stop-opacity="0.000"/><stop offset="0.3625" stop-color="#fff" stop-opacity="0.000"/><stop offset="0.3688" stop-color="#fff" stop-opacity="0.000"/><stop offset="0.3750" stop-color="#fff" stop-opacity="0.000"/><stop offset="0.3812" stop-color="#fff" stop-opacity="0.000"/><stop offset="0.3875" stop-color="#fff" stop-opacity="0.000"/><stop offset="0.3937" stop-color="#fff" stop-opacity="0.000"/><stop offset="0.4000" stop-color="#fff" stop-opacity="0.000"/><stop offset="0.4062" stop-color="#fff" stop-opacity="0.000"/><stop offset="0.4125" stop-color="#fff" stop-opacity="0.000"/><stop offset="0.4188" stop-color="#fff" stop-opacity="0.000"/><stop offset="0.4250" stop-color="#fff" stop-opacity="0.000"/><stop offset="0.4313" stop-color="#fff" stop-opacity="0.000"/><stop offset="0.4375" stop-color="#fff" stop-opacity="0.000"/><stop offset="0.4437" stop-color="#fff" stop-opacity="0.000"/><stop offset="0.4500" stop-color="#fff" stop-opacity="0.000"/><stop offset="0.4562" stop-color="#fff" stop-opacity="0.062"/><stop offset="0.4625" stop-color="#fff" stop-opacity="0.152"/><stop offset="0.4688" stop-color="#fff" stop-opacity="0.234"/><stop offset="0.4750" stop-color="#fff" stop-opacity="0.308"/><stop offset="0.4813" stop-color="#fff" stop-opacity="0.368"/><stop offset="0.4875" stop-color="#fff" stop-opacity="0.413"/><stop offset="0.4938" stop-color="#fff" stop-opacity="0.441"/><stop offset="0.5000" stop-color="#fff" stop-opacity="0.450"/><stop offset="0.5062" stop-color="#fff" stop-opacity="0.441"/><stop offset="0.5125" stop-color="#fff" stop-opacity="0.413"/><stop offset="0.5188" stop-color="#fff" stop-opacity="0.368"/><stop offset="0.5250" stop-color="#fff" stop-opacity="0.308"/><stop offset="0.5312" stop-color="#fff" stop-opacity="0.234"/><stop offset="0.5375" stop-color="#fff" stop-opacity="0.152"/><stop offset="0.5437" stop-color="#fff" stop-opacity="0.062"/><stop offset="0.5500" stop-color="#fff" stop-opacity="0.000"/><stop offset="0.5563" stop-color="#fff" stop-opacity="0.000"/><stop offset="0.5625" stop-color="#fff" stop-opacity="0.000"/><stop offset="0.5687" stop-color="#fff" stop-opacity="0.000"/><stop offset="0.5750" stop-color="#fff" stop-opacity="0.000"/><stop offset="0.5813" stop-color="#fff" stop-opacity="0.000"/><stop offset="0.5875" stop-color="#fff" stop-opacity="0.000"/><stop offset="0.5938" stop-color="#fff" stop-opacity="0.000"/><stop offset="0.6000" stop-color="#fff" stop-opacity="0.000"/><stop offset="0.6062" stop-color="#fff" stop-opacity="0.000"/><stop offset="0.6125" stop-color="#fff" stop-opacity="0.000"/><stop offset="0.6188" stop-color="#fff" stop-opacity="0.000"/><stop offset="0.6250" stop-color="#fff" stop-opacity="0.000"/><stop offset="0.6312" stop-color="#fff" stop-opacity="0.000"/><stop offset="0.6375" stop-color="#fff" stop-opacity="0.000"/><stop offset="0.6438" stop-color="#fff" stop-opacity="0.000"/><stop offset="0.6500" stop-color="#fff" stop-opacity="0.000"/><stop offset="0.6562" stop-color="#fff" stop-opacity="0.000"/><stop offset="0.6625" stop-color="#fff" stop-opacity="0.000"/><stop offset="0.6687" stop-color="#fff" stop-opacity="0.000"/><stop offset="0.6750" stop-color="#fff" stop-opacity="0.000"/><stop offset="0.6813" stop-color="#fff" stop-opacity="0.000"/><stop offset="0.6875" stop-color="#fff" stop-opacity="0.000"/><stop offset="0.6937" stop-color="#fff" stop-opacity="0.000"/><stop offset="0.7000" stop-color="#fff" stop-opacity="0.000"/><stop offset="0.7063" stop-color="#fff" stop-opacity="0.000"/><stop offset="0.7125" stop-color="#fff" stop-opacity="0.000"/><stop offset="0.7188" stop-color="#fff" stop-opacity="0.000"/><stop offset="0.7250" stop-color="#fff" stop-opacity="0.000"/><stop offset="0.7312" stop-color="#fff" stop-opacity="0.000"/><stop offset="0.7375" stop-color="#fff" stop-opacity="0.000"/><stop offset="0.7438" stop-color="#fff" stop-opacity="0.092"/><stop offset="0.7500" stop-color="#fff" stop-opacity="0.206"/><stop offset="0.7562" stop-color="#fff" stop-opacity="0.317"/><stop offset="0.7625" stop-color="#fff" stop-opacity="0.423"/><stop offset="0.7688" stop-color="#fff" stop-opacity="0.524"/><stop offset="0.7750" stop-color="#fff" stop-opacity="0.616"/><stop offset="0.7812" stop-color="#fff" stop-opacity="0.699"/><stop offset="0.7875" stop-color="#fff" stop-opacity="0.772"/><stop offset="0.7937" stop-color="#fff" stop-opacity="0.834"/><stop offset="0.8000" stop-color="#fff" stop-opacity="0.883"/><stop offset="0.8063" stop-color="#fff" stop-opacity="0.919"/><stop offset="0.8125" stop-color="#fff" stop-opacity="0.941"/><stop offset="0.8187" stop-color="#fff" stop-opacity="0.950"/><stop offset="0.8250" stop-color="#fff" stop-opacity="0.944"/><stop offset="0.8313" stop-color="#fff" stop-opacity="0.925"/><stop offset="0.8375" stop-color="#fff" stop-opacity="0.892"/><stop offset="0.8438" stop-color="#fff" stop-opacity="0.845"/><stop offset="0.8500" stop-color="#fff" stop-opacity="0.786"/><stop offset="0.8562" stop-color="#fff" stop-opacity="0.715"/><stop offset="0.8625" stop-color="#fff" stop-opacity="0.634"/><stop offset="0.8688" stop-color="#fff" stop-opacity="0.543"/><stop offset="0.8750" stop-color="#fff" stop-opacity="0.445"/><stop offset="0.8812" stop-color="#fff" stop-opacity="0.339"/><stop offset="0.8875" stop-color="#fff" stop-opacity="0.229"/><stop offset="0.8938" stop-color="#fff" stop-opacity="0.115"/><stop offset="0.9000" stop-color="#fff" stop-opacity="0.000"/><stop offset="0.9062" stop-color="#fff" stop-opacity="0.000"/><stop offset="0.9125" stop-color="#fff" stop-opacity="0.000"/><stop offset="0.9187" stop-color="#fff" stop-opacity="0.000"/><stop offset="0.9250" stop-color="#fff" stop-opacity="0.000"/><stop offset="0.9313" stop-color="#fff" stop-opacity="0.000"/><stop offset="0.9375" stop-color="#fff" stop-opacity="0.000"/><stop offset="0.9437" stop-color="#fff" stop-opacity="0.000"/><stop offset="0.9500" stop-color="#fff" stop-opacity="0.000"/><stop offset="0.9563" stop-color="#fff" stop-opacity="0.000"/><stop offset="0.9625" stop-color="#fff" stop-opacity="0.000"/><stop offset="0.9688" stop-color="#fff" stop-opacity="0.000"/><stop offset="0.9750" stop-color="#fff" stop-opacity="0.000"/><stop offset="0.9812" stop-color="#fff" stop-opacity="0.000"/><stop offset="0.9875" stop-color="#fff" stop-opacity="0.000"/><stop offset="0.9938" stop-color="#fff" stop-opacity="0.000"/><stop offset="1.0000" stop-color="#fff" stop-opacity="0.000"/></linearGradient>
<linearGradient id="ce2n" gradientUnits="userSpaceOnUse" x1="186.12" y1="1252.72" x2="971.88" y2="2038.47"><stop offset="0.0000" stop-color="#fff" stop-opacity="0.000"/><stop offset="0.0063" stop-color="#fff" stop-opacity="0.000"/><stop offset="0.0125" stop-color="#fff" stop-opacity="0.000"/><stop offset="0.0187" stop-color="#fff" stop-opacity="0.000"/><stop offset="0.0250" stop-color="#fff" stop-opacity="0.000"/><stop offset="0.0312" stop-color="#fff" stop-opacity="0.000"/><stop offset="0.0375" stop-color="#fff" stop-opacity="0.000"/><stop offset="0.0437" stop-color="#fff" stop-opacity="0.000"/><stop offset="0.0500" stop-color="#fff" stop-opacity="0.000"/><stop offset="0.0563" stop-color="#fff" stop-opacity="0.000"/><stop offset="0.0625" stop-color="#fff" stop-opacity="0.000"/><stop offset="0.0688" stop-color="#fff" stop-opacity="0.000"/><stop offset="0.0750" stop-color="#fff" stop-opacity="0.000"/><stop offset="0.0813" stop-color="#fff" stop-opacity="0.000"/><stop offset="0.0875" stop-color="#fff" stop-opacity="0.000"/><stop offset="0.0938" stop-color="#fff" stop-opacity="0.000"/><stop offset="0.1000" stop-color="#fff" stop-opacity="0.000"/><stop offset="0.1062" stop-color="#fff" stop-opacity="0.000"/><stop offset="0.1125" stop-color="#fff" stop-opacity="0.000"/><stop offset="0.1187" stop-color="#fff" stop-opacity="0.000"/><stop offset="0.1250" stop-color="#fff" stop-opacity="0.000"/><stop offset="0.1313" stop-color="#fff" stop-opacity="0.000"/><stop offset="0.1375" stop-color="#fff" stop-opacity="0.000"/><stop offset="0.1437" stop-color="#fff" stop-opacity="0.000"/><stop offset="0.1500" stop-color="#fff" stop-opacity="0.000"/><stop offset="0.1562" stop-color="#fff" stop-opacity="0.000"/><stop offset="0.1625" stop-color="#fff" stop-opacity="0.000"/><stop offset="0.1688" stop-color="#fff" stop-opacity="0.000"/><stop offset="0.1750" stop-color="#fff" stop-opacity="0.000"/><stop offset="0.1812" stop-color="#fff" stop-opacity="0.000"/><stop offset="0.1875" stop-color="#fff" stop-opacity="0.000"/><stop offset="0.1938" stop-color="#fff" stop-opacity="0.000"/><stop offset="0.2000" stop-color="#fff" stop-opacity="0.000"/><stop offset="0.2062" stop-color="#fff" stop-opacity="0.000"/><stop offset="0.2125" stop-color="#fff" stop-opacity="0.000"/><stop offset="0.2188" stop-color="#fff" stop-opacity="0.000"/><stop offset="0.2250" stop-color="#fff" stop-opacity="0.000"/><stop offset="0.2313" stop-color="#fff" stop-opacity="0.000"/><stop offset="0.2375" stop-color="#fff" stop-opacity="0.000"/><stop offset="0.2437" stop-color="#fff" stop-opacity="0.000"/><stop offset="0.2500" stop-color="#fff" stop-opacity="0.000"/><stop offset="0.2562" stop-color="#fff" stop-opacity="0.000"/><stop offset="0.2625" stop-color="#fff" stop-opacity="0.021"/><stop offset="0.2687" stop-color="#fff" stop-opacity="0.124"/><stop offset="0.2750" stop-color="#fff" stop-opacity="0.225"/><stop offset="0.2812" stop-color="#fff" stop-opacity="0.324"/><stop offset="0.2875" stop-color="#fff" stop-opacity="0.420"/><stop offset="0.2938" stop-color="#fff" stop-opacity="0.511"/><stop offset="0.3000" stop-color="#fff" stop-opacity="0.596"/><stop offset="0.3063" stop-color="#fff" stop-opacity="0.676"/><stop offset="0.3125" stop-color="#fff" stop-opacity="0.748"/><stop offset="0.3187" stop-color="#fff" stop-opacity="0.812"/><stop offset="0.3250" stop-color="#fff" stop-opacity="0.868"/><stop offset="0.3312" stop-color="#fff" stop-opacity="0.914"/><stop offset="0.3375" stop-color="#fff" stop-opacity="0.951"/><stop offset="0.3438" stop-color="#fff" stop-opacity="0.978"/><stop offset="0.3500" stop-color="#fff" stop-opacity="0.994"/><stop offset="0.3563" stop-color="#fff" stop-opacity="1.000"/><stop offset="0.3625" stop-color="#fff" stop-opacity="0.995"/><stop offset="0.3688" stop-color="#fff" stop-opacity="0.980"/><stop offset="0.3750" stop-color="#fff" stop-opacity="0.954"/><stop offset="0.3812" stop-color="#fff" stop-opacity="0.919"/><stop offset="0.3875" stop-color="#fff" stop-opacity="0.873"/><stop offset="0.3937" stop-color="#fff" stop-opacity="0.819"/><stop offset="0.4000" stop-color="#fff" stop-opacity="0.755"/><stop offset="0.4062" stop-color="#fff" stop-opacity="0.684"/><stop offset="0.4125" stop-color="#fff" stop-opacity="0.605"/><stop offset="0.4188" stop-color="#fff" stop-opacity="0.521"/><stop offset="0.4250" stop-color="#fff" stop-opacity="0.430"/><stop offset="0.4313" stop-color="#fff" stop-opacity="0.335"/><stop offset="0.4375" stop-color="#fff" stop-opacity="0.236"/><stop offset="0.4437" stop-color="#fff" stop-opacity="0.135"/><stop offset="0.4500" stop-color="#fff" stop-opacity="0.033"/><stop offset="0.4562" stop-color="#fff" stop-opacity="0.000"/><stop offset="0.4625" stop-color="#fff" stop-opacity="0.000"/><stop offset="0.4688" stop-color="#fff" stop-opacity="0.000"/><stop offset="0.4750" stop-color="#fff" stop-opacity="0.000"/><stop offset="0.4813" stop-color="#fff" stop-opacity="0.000"/><stop offset="0.4875" stop-color="#fff" stop-opacity="0.000"/><stop offset="0.4938" stop-color="#fff" stop-opacity="0.000"/><stop offset="0.5000" stop-color="#fff" stop-opacity="0.000"/><stop offset="0.5062" stop-color="#fff" stop-opacity="0.000"/><stop offset="0.5125" stop-color="#fff" stop-opacity="0.000"/><stop offset="0.5188" stop-color="#fff" stop-opacity="0.000"/><stop offset="0.5250" stop-color="#fff" stop-opacity="0.000"/><stop offset="0.5312" stop-color="#fff" stop-opacity="0.000"/><stop offset="0.5375" stop-color="#fff" stop-opacity="0.000"/><stop offset="0.5437" stop-color="#fff" stop-opacity="0.000"/><stop offset="0.5500" stop-color="#fff" stop-opacity="0.033"/><stop offset="0.5563" stop-color="#fff" stop-opacity="0.135"/><stop offset="0.5625" stop-color="#fff" stop-opacity="0.236"/><stop offset="0.5687" stop-color="#fff" stop-opacity="0.335"/><stop offset="0.5750" stop-color="#fff" stop-opacity="0.430"/><stop offset="0.5813" stop-color="#fff" stop-opacity="0.521"/><stop offset="0.5875" stop-color="#fff" stop-opacity="0.605"/><stop offset="0.5938" stop-color="#fff" stop-opacity="0.684"/><stop offset="0.6000" stop-color="#fff" stop-opacity="0.755"/><stop offset="0.6062" stop-color="#fff" stop-opacity="0.819"/><stop offset="0.6125" stop-color="#fff" stop-opacity="0.873"/><stop offset="0.6188" stop-color="#fff" stop-opacity="0.919"/><stop offset="0.6250" stop-color="#fff" stop-opacity="0.954"/><stop offset="0.6312" stop-color="#fff" stop-opacity="0.980"/><stop offset="0.6375" stop-color="#fff" stop-opacity="0.995"/><stop offset="0.6438" stop-color="#fff" stop-opacity="1.000"/><stop offset="0.6500" stop-color="#fff" stop-opacity="0.994"/><stop offset="0.6562" stop-color="#fff" stop-opacity="0.978"/><stop offset="0.6625" stop-color="#fff" stop-opacity="0.951"/><stop offset="0.6687" stop-color="#fff" stop-opacity="0.914"/><stop offset="0.6750" stop-color="#fff" stop-opacity="0.868"/><stop offset="0.6813" stop-color="#fff" stop-opacity="0.812"/><stop offset="0.6875" stop-color="#fff" stop-opacity="0.748"/><stop offset="0.6937" stop-color="#fff" stop-opacity="0.676"/><stop offset="0.7000" stop-color="#fff" stop-opacity="0.596"/><stop offset="0.7063" stop-color="#fff" stop-opacity="0.511"/><stop offset="0.7125" stop-color="#fff" stop-opacity="0.420"/><stop offset="0.7188" stop-color="#fff" stop-opacity="0.324"/><stop offset="0.7250" stop-color="#fff" stop-opacity="0.225"/><stop offset="0.7312" stop-color="#fff" stop-opacity="0.124"/><stop offset="0.7375" stop-color="#fff" stop-opacity="0.021"/><stop offset="0.7438" stop-color="#fff" stop-opacity="0.000"/><stop offset="0.7500" stop-color="#fff" stop-opacity="0.000"/><stop offset="0.7562" stop-color="#fff" stop-opacity="0.000"/><stop offset="0.7625" stop-color="#fff" stop-opacity="0.000"/><stop offset="0.7688" stop-color="#fff" stop-opacity="0.000"/><stop offset="0.7750" stop-color="#fff" stop-opacity="0.000"/><stop offset="0.7812" stop-color="#fff" stop-opacity="0.000"/><stop offset="0.7875" stop-color="#fff" stop-opacity="0.000"/><stop offset="0.7937" stop-color="#fff" stop-opacity="0.000"/><stop offset="0.8000" stop-color="#fff" stop-opacity="0.000"/><stop offset="0.8063" stop-color="#fff" stop-opacity="0.000"/><stop offset="0.8125" stop-color="#fff" stop-opacity="0.000"/><stop offset="0.8187" stop-color="#fff" stop-opacity="0.000"/><stop offset="0.8250" stop-color="#fff" stop-opacity="0.000"/><stop offset="0.8313" stop-color="#fff" stop-opacity="0.000"/><stop offset="0.8375" stop-color="#fff" stop-opacity="0.000"/><stop offset="0.8438" stop-color="#fff" stop-opacity="0.000"/><stop offset="0.8500" stop-color="#fff" stop-opacity="0.000"/><stop offset="0.8562" stop-color="#fff" stop-opacity="0.000"/><stop offset="0.8625" stop-color="#fff" stop-opacity="0.000"/><stop offset="0.8688" stop-color="#fff" stop-opacity="0.000"/><stop offset="0.8750" stop-color="#fff" stop-opacity="0.000"/><stop offset="0.8812" stop-color="#fff" stop-opacity="0.000"/><stop offset="0.8875" stop-color="#fff" stop-opacity="0.000"/><stop offset="0.8938" stop-color="#fff" stop-opacity="0.000"/><stop offset="0.9000" stop-color="#fff" stop-opacity="0.000"/><stop offset="0.9062" stop-color="#fff" stop-opacity="0.000"/><stop offset="0.9125" stop-color="#fff" stop-opacity="0.000"/><stop offset="0.9187" stop-color="#fff" stop-opacity="0.000"/><stop offset="0.9250" stop-color="#fff" stop-opacity="0.000"/><stop offset="0.9313" stop-color="#fff" stop-opacity="0.000"/><stop offset="0.9375" stop-color="#fff" stop-opacity="0.000"/><stop offset="0.9437" stop-color="#fff" stop-opacity="0.000"/><stop offset="0.9500" stop-color="#fff" stop-opacity="0.000"/><stop offset="0.9563" stop-color="#fff" stop-opacity="0.000"/><stop offset="0.9625" stop-color="#fff" stop-opacity="0.000"/><stop offset="0.9688" stop-color="#fff" stop-opacity="0.000"/><stop offset="0.9750" stop-color="#fff" stop-opacity="0.000"/><stop offset="0.9812" stop-color="#fff" stop-opacity="0.000"/><stop offset="0.9875" stop-color="#fff" stop-opacity="0.000"/><stop offset="0.9938" stop-color="#fff" stop-opacity="0.000"/><stop offset="1.0000" stop-color="#fff" stop-opacity="0.000"/></linearGradient>
<filter id="cbl" x="-5%" y="-5%" width="110%" height="110%"><feGaussianBlur stdDeviation="4"/></filter>
<mask id="cme1p" maskUnits="userSpaceOnUse" x="237.00" y="1304.00" width="683.50" height="683.30"><g filter="url(#cbl)"><rect x="264.70" y="1331.30" width="628.60" height="628.60" fill="url(#ce1p)"/></g></mask>
<mask id="cme1n" maskUnits="userSpaceOnUse" x="237.00" y="1304.00" width="683.50" height="683.30"><g filter="url(#cbl)"><rect x="264.70" y="1331.30" width="628.60" height="628.60" fill="url(#ce1n)"/></g></mask>
<mask id="cme2p" maskUnits="userSpaceOnUse" x="237.00" y="1304.00" width="683.50" height="683.30"><g filter="url(#cbl)"><rect x="264.70" y="1331.30" width="628.60" height="628.60" fill="url(#ce2p)"/><rect x="798.30" y="1304.00" width="122.20" height="122.30" fill="url(#ce2p)" opacity=".8"/></g></mask>
<mask id="cme2n" maskUnits="userSpaceOnUse" x="237.00" y="1304.00" width="683.50" height="683.30"><g filter="url(#cbl)"><rect x="264.70" y="1331.30" width="628.60" height="628.60" fill="url(#ce2n)"/><rect x="798.30" y="1304.00" width="122.20" height="122.30" fill="url(#ce2n)" opacity=".8"/></g></mask>
<clipPath id="cclip"><rect x="245.00" y="1312.00" width="667.50" height="667.30"/></clipPath>
<radialGradient id="pk"><stop offset="0.00" stop-color="#fff" stop-opacity="0.950"/><stop offset="0.08" stop-color="#fff" stop-opacity="0.950"/><stop offset="0.17" stop-color="#fff" stop-opacity="0.950"/><stop offset="0.25" stop-color="#fff" stop-opacity="0.829"/><stop offset="0.33" stop-color="#fff" stop-opacity="0.682"/><stop offset="0.42" stop-color="#fff" stop-opacity="0.531"/><stop offset="0.50" stop-color="#fff" stop-opacity="0.391"/><stop offset="0.58" stop-color="#fff" stop-opacity="0.273"/><stop offset="0.67" stop-color="#fff" stop-opacity="0.180"/><stop offset="0.75" stop-color="#fff" stop-opacity="0.112"/><stop offset="0.83" stop-color="#fff" stop-opacity="0.066"/><stop offset="0.92" stop-color="#fff" stop-opacity="0.037"/><stop offset="1.00" stop-color="#fff" stop-opacity="0.000"/></radialGradient>
<radialGradient id="pkc"><stop offset="0.00" stop-color="#fff" stop-opacity="0.930"/><stop offset="0.08" stop-color="#fff" stop-opacity="0.930"/><stop offset="0.17" stop-color="#fff" stop-opacity="0.930"/><stop offset="0.25" stop-color="#fff" stop-opacity="0.930"/><stop offset="0.33" stop-color="#fff" stop-opacity="0.775"/><stop offset="0.42" stop-color="#fff" stop-opacity="0.604"/><stop offset="0.50" stop-color="#fff" stop-opacity="0.445"/><stop offset="0.58" stop-color="#fff" stop-opacity="0.310"/><stop offset="0.67" stop-color="#fff" stop-opacity="0.204"/><stop offset="0.75" stop-color="#fff" stop-opacity="0.127"/><stop offset="0.83" stop-color="#fff" stop-opacity="0.075"/><stop offset="0.92" stop-color="#fff" stop-opacity="0.042"/><stop offset="1.00" stop-color="#fff" stop-opacity="0.000"/></radialGradient>
<radialGradient id="pk9"><stop offset="0.00" stop-color="#fff" stop-opacity="0.950"/><stop offset="0.08" stop-color="#fff" stop-opacity="0.950"/><stop offset="0.17" stop-color="#fff" stop-opacity="0.950"/><stop offset="0.25" stop-color="#fff" stop-opacity="0.948"/><stop offset="0.33" stop-color="#fff" stop-opacity="0.795"/><stop offset="0.42" stop-color="#fff" stop-opacity="0.635"/><stop offset="0.50" stop-color="#fff" stop-opacity="0.482"/><stop offset="0.58" stop-color="#fff" stop-opacity="0.348"/><stop offset="0.67" stop-color="#fff" stop-opacity="0.239"/><stop offset="0.75" stop-color="#fff" stop-opacity="0.156"/><stop offset="0.83" stop-color="#fff" stop-opacity="0.097"/><stop offset="0.92" stop-color="#fff" stop-opacity="0.057"/><stop offset="1.00" stop-color="#fff" stop-opacity="0.000"/></radialGradient>
<radialGradient id="pk6"><stop offset="0.00" stop-color="#fff" stop-opacity="0.600"/><stop offset="0.08" stop-color="#fff" stop-opacity="0.587"/><stop offset="0.17" stop-color="#fff" stop-opacity="0.548"/><stop offset="0.25" stop-color="#fff" stop-opacity="0.490"/><stop offset="0.33" stop-color="#fff" stop-opacity="0.419"/><stop offset="0.42" stop-color="#fff" stop-opacity="0.342"/><stop offset="0.50" stop-color="#fff" stop-opacity="0.267"/><stop offset="0.58" stop-color="#fff" stop-opacity="0.199"/><stop offset="0.67" stop-color="#fff" stop-opacity="0.142"/><stop offset="0.75" stop-color="#fff" stop-opacity="0.097"/><stop offset="0.83" stop-color="#fff" stop-opacity="0.063"/><stop offset="0.92" stop-color="#fff" stop-opacity="0.039"/><stop offset="1.00" stop-color="#fff" stop-opacity="0.000"/></radialGradient>
<radialGradient id="pk2"><stop offset="0.00" stop-color="#fff" stop-opacity="0.300"/><stop offset="0.08" stop-color="#fff" stop-opacity="0.292"/><stop offset="0.17" stop-color="#fff" stop-opacity="0.268"/><stop offset="0.25" stop-color="#fff" stop-opacity="0.234"/><stop offset="0.33" stop-color="#fff" stop-opacity="0.192"/><stop offset="0.42" stop-color="#fff" stop-opacity="0.150"/><stop offset="0.50" stop-color="#fff" stop-opacity="0.110"/><stop offset="0.58" stop-color="#fff" stop-opacity="0.077"/><stop offset="0.67" stop-color="#fff" stop-opacity="0.051"/><stop offset="0.75" stop-color="#fff" stop-opacity="0.032"/><stop offset="0.83" stop-color="#fff" stop-opacity="0.019"/><stop offset="0.92" stop-color="#fff" stop-opacity="0.010"/><stop offset="1.00" stop-color="#fff" stop-opacity="0.000"/></radialGradient>
<radialGradient id="halo"><stop offset="0.00" stop-color="#fff" stop-opacity="0.085"/><stop offset="0.08" stop-color="#fff" stop-opacity="0.084"/><stop offset="0.17" stop-color="#fff" stop-opacity="0.080"/><stop offset="0.25" stop-color="#fff" stop-opacity="0.074"/><stop offset="0.33" stop-color="#fff" stop-opacity="0.066"/><stop offset="0.42" stop-color="#fff" stop-opacity="0.058"/><stop offset="0.50" stop-color="#fff" stop-opacity="0.048"/><stop offset="0.58" stop-color="#fff" stop-opacity="0.040"/><stop offset="0.67" stop-color="#fff" stop-opacity="0.031"/><stop offset="0.75" stop-color="#fff" stop-opacity="0.024"/><stop offset="0.83" stop-color="#fff" stop-opacity="0.018"/><stop offset="0.92" stop-color="#fff" stop-opacity="0.013"/><stop offset="1.00" stop-color="#fff" stop-opacity="0.000"/></radialGradient>
<filter id="b3" x="-50%" y="-50%" width="200%" height="200%"><feGaussianBlur stdDeviation="3.2"/></filter>
<clipPath id="bclip"><rect x="1391.30" y="237.00" width="657.30" height="653.00"/></clipPath>
<clipPath id="dclip"><rect x="1322.40" y="1317.50" width="695.90" height="696.70"/></clipPath>
<clipPath id="btxt"><rect x="1391" y="237" width="657.6" height="653"/></clipPath>
</defs>
<rect width="2325" height="2316" fill="#fff"/>
<g clip-path="url(#aclip)"><g filter="url(#jetw)">
<rect x="243.00" y="216.00" width="667.50" height="666.50" fill="#808080"/>
<rect x="243.00" y="216.00" width="667.50" height="666.50" fill="url(#aw1p)" mask="url(#ame1p)"/>
<rect x="243.00" y="216.00" width="667.50" height="666.50" fill="url(#aw1n)" mask="url(#ame1n)"/>
<g opacity="0.5">
<rect x="243.00" y="216.00" width="667.50" height="666.50" fill="#808080"/>
<rect x="243.00" y="216.00" width="667.50" height="666.50" fill="url(#aw2p)" mask="url(#ame2p)"/>
<rect x="243.00" y="216.00" width="667.50" height="666.50" fill="url(#aw2n)" mask="url(#ame2n)"/>
</g></g></g>
<rect x="251.90" y="224.90" width="649.70" height="648.70" fill="none" stroke="#3c5c3c" stroke-opacity=".65" stroke-width="1.8"/>
<path d="M281.7 224.0v6 M281.7 874.5v-6" stroke="#2a3a2a" stroke-opacity=".7" stroke-width="1.4"/>
<path d="M576.7 224.0v6 M576.7 874.5v-6" stroke="#2a3a2a" stroke-opacity=".7" stroke-width="1.4"/>
<path d="M871.7 224.0v6 M871.7 874.5v-6" stroke="#2a3a2a" stroke-opacity=".7" stroke-width="1.4"/>
<path d="M251.0 254.2h6 M902.5 254.2h-6" stroke="#2a3a2a" stroke-opacity=".7" stroke-width="1.4"/>
<path d="M251.0 549.2h6 M902.5 549.2h-6" stroke="#2a3a2a" stroke-opacity=".7" stroke-width="1.4"/>
<path d="M251.0 844.2h6 M902.5 844.2h-6" stroke="#2a3a2a" stroke-opacity=".7" stroke-width="1.4"/>
<rect x="927" y="223.6" width="57.3" height="647.6" fill="url(#jetbar)"/>
<rect x="927.7" y="224.3" width="55.9" height="646.2" fill="none" stroke="#333" stroke-opacity=".45" stroke-width="1.4"/>
<g clip-path="url(#cclip)"><g filter="url(#jetw)">
<rect x="237.00" y="1304.00" width="683.50" height="683.30" fill="#808080"/>
<rect x="237.00" y="1304.00" width="683.50" height="683.30" fill="url(#cw1p)" mask="url(#cme1p)"/>
<rect x="237.00" y="1304.00" width="683.50" height="683.30" fill="url(#cw1n)" mask="url(#cme1n)"/>
<g opacity="0.5">
<rect x="237.00" y="1304.00" width="683.50" height="683.30" fill="#808080"/>
<rect x="237.00" y="1304.00" width="683.50" height="683.30" fill="url(#cw2p)" mask="url(#cme2p)"/>
<rect x="237.00" y="1304.00" width="683.50" height="683.30" fill="url(#cw2n)" mask="url(#cme2n)"/>
</g></g></g>
<rect x="245.90" y="1312.90" width="665.70" height="665.50" fill="none" stroke="#3c5c3c" stroke-opacity=".65" stroke-width="1.8"/>
<path d="M264.7 1312.0v6 M264.7 1979.3v-6" stroke="#2a3a2a" stroke-opacity=".7" stroke-width="1.4"/>
<path d="M579.0 1312.0v6 M579.0 1979.3v-6" stroke="#2a3a2a" stroke-opacity=".7" stroke-width="1.4"/>
<path d="M893.3 1312.0v6 M893.3 1979.3v-6" stroke="#2a3a2a" stroke-opacity=".7" stroke-width="1.4"/>
<path d="M245.0 1331.3h6 M912.5 1331.3h-6" stroke="#2a3a2a" stroke-opacity=".7" stroke-width="1.4"/>
<path d="M245.0 1645.6h6 M912.5 1645.6h-6" stroke="#2a3a2a" stroke-opacity=".7" stroke-width="1.4"/>
<path d="M245.0 1959.9h6 M912.5 1959.9h-6" stroke="#2a3a2a" stroke-opacity=".7" stroke-width="1.4"/>
<rect x="939" y="1313" width="58.3" height="664" fill="url(#jetbar)"/>
<rect x="939.7" y="1313.7" width="56.9" height="662.6" fill="none" stroke="#333" stroke-opacity=".45" stroke-width="1.4"/>
<g clip-path="url(#bclip)"><g filter="url(#jetf)">
<rect x="1381.3" y="227.0" width="677.3" height="673.0" fill="#080808"/>
<ellipse cx="0" cy="0" rx="62.0" ry="62.0" fill="url(#halo)" transform="translate(1435.5,278.0) rotate(0)"/>
<rect x="1400.5" y="258.0" width="10.0" height="40.0" fill="#fff" opacity="0.100"/>
<rect x="1415.5" y="243.0" width="40.0" height="10.0" fill="#fff" opacity="0.100"/>
<rect x="1460.5" y="258.0" width="10.0" height="40.0" fill="#fff" opacity="0.100"/>
<rect x="1480.1" y="258.0" width="10.0" height="40.0" fill="#fff" opacity="0.069"/>
<rect x="1499.7" y="258.0" width="10.0" height="40.0" fill="#fff" opacity="0.053"/>
<rect x="1519.3" y="258.0" width="10.0" height="40.0" fill="#fff" opacity="0.043"/>
<rect x="1538.9" y="258.0" width="10.0" height="40.0" fill="#fff" opacity="0.036"/>
<rect x="1558.5" y="258.0" width="10.0" height="40.0" fill="#fff" opacity="0.031"/>
<rect x="1578.1" y="258.0" width="10.0" height="40.0" fill="#fff" opacity="0.027"/>
<rect x="1597.7" y="258.0" width="10.0" height="40.0" fill="#fff" opacity="0.024"/>
<rect x="1617.3" y="258.0" width="10.0" height="40.0" fill="#fff" opacity="0.022"/>
<rect x="1636.9" y="258.0" width="10.0" height="40.0" fill="#fff" opacity="0.020"/>
<rect x="1656.5" y="258.0" width="10.0" height="40.0" fill="#fff" opacity="0.018"/>
<rect x="1676.1" y="258.0" width="10.0" height="40.0" fill="#fff" opacity="0.017"/>
<rect x="1695.7" y="258.0" width="10.0" height="40.0" fill="#fff" opacity="0.016"/>
<rect x="1715.3" y="258.0" width="10.0" height="40.0" fill="#fff" opacity="0.015"/>
<rect x="1734.9" y="258.0" width="10.0" height="40.0" fill="#fff" opacity="0.014"/>
<rect x="1754.5" y="258.0" width="10.0" height="40.0" fill="#fff" opacity="0.013"/>
<rect x="1774.1" y="258.0" width="10.0" height="40.0" fill="#fff" opacity="0.012"/>
<rect x="1793.7" y="258.0" width="10.0" height="40.0" fill="#fff" opacity="0.012"/>
<rect x="1813.3" y="258.0" width="10.0" height="40.0" fill="#fff" opacity="0.011"/>
<rect x="1832.9" y="258.0" width="10.0" height="40.0" fill="#fff" opacity="0.010"/>
<rect x="1852.5" y="258.0" width="10.0" height="40.0" fill="#fff" opacity="0.010"/>
<rect x="1872.1" y="258.0" width="10.0" height="40.0" fill="#fff" opacity="0.010"/>
<rect x="1891.7" y="258.0" width="10.0" height="40.0" fill="#fff" opacity="0.009"/>
<rect x="1911.3" y="258.0" width="10.0" height="40.0" fill="#fff" opacity="0.009"/>
<rect x="1930.9" y="258.0" width="10.0" height="40.0" fill="#fff" opacity="0.008"/>
<rect x="1950.5" y="258.0" width="10.0" height="40.0" fill="#fff" opacity="0.008"/>
<rect x="1970.1" y="258.0" width="10.0" height="40.0" fill="#fff" opacity="0.008"/>
<rect x="1989.7" y="258.0" width="10.0" height="40.0" fill="#fff" opacity="0.008"/>
<rect x="2009.3" y="258.0" width="10.0" height="40.0" fill="#fff" opacity="0.007"/>
<rect x="2028.9" y="258.0" width="10.0" height="40.0" fill="#fff" opacity="0.007"/>
<rect x="1415.5" y="303.0" width="40.0" height="10.0" fill="#fff" opacity="0.100"/>
<rect x="1415.5" y="322.6" width="40.0" height="10.0" fill="#fff" opacity="0.069"/>
<rect x="1415.5" y="342.2" width="40.0" height="10.0" fill="#fff" opacity="0.053"/>
<rect x="1415.5" y="361.8" width="40.0" height="10.0" fill="#fff" opacity="0.043"/>
<rect x="1415.5" y="381.4" width="40.0" height="10.0" fill="#fff" opacity="0.036"/>
<rect x="1415.5" y="401.0" width="40.0" height="10.0" fill="#fff" opacity="0.031"/>
<rect x="1415.5" y="420.6" width="40.0" height="10.0" fill="#fff" opacity="0.027"/>
<rect x="1415.5" y="440.2" width="40.0" height="10.0" fill="#fff" opacity="0.024"/>
<rect x="1415.5" y="459.8" width="40.0" height="10.0" fill="#fff" opacity="0.022"/>
<rect x="1415.5" y="479.4" width="40.0" height="10.0" fill="#fff" opacity="0.020"/>
<rect x="1415.5" y="499.0" width="40.0" height="10.0" fill="#fff" opacity="0.018"/>
<rect x="1415.5" y="518.6" width="40.0" height="10.0" fill="#fff" opacity="0.017"/>
<rect x="1415.5" y="538.2" width="40.0" height="10.0" fill="#fff" opacity="0.016"/>
<rect x="1415.5" y="557.8" width="40.0" height="10.0" fill="#fff" opacity="0.015"/>
<rect x="1415.5" y="577.4" width="40.0" height="10.0" fill="#fff" opacity="0.014"/>
<rect x="1415.5" y="597.0" width="40.0" height="10.0" fill="#fff" opacity="0.013"/>
<rect x="1415.5" y="616.6" width="40.0" height="10.0" fill="#fff" opacity="0.012"/>
<rect x="1415.5" y="636.2" width="40.0" height="10.0" fill="#fff" opacity="0.012"/>
<rect x="1415.5" y="655.8" width="40.0" height="10.0" fill="#fff" opacity="0.011"/>
<rect x="1415.5" y="675.4" width="40.0" height="10.0" fill="#fff" opacity="0.010"/>
<rect x="1415.5" y="695.0" width="40.0" height="10.0" fill="#fff" opacity="0.010"/>
<rect x="1415.5" y="714.6" width="40.0" height="10.0" fill="#fff" opacity="0.010"/>
<rect x="1415.5" y="734.2" width="40.0" height="10.0" fill="#fff" opacity="0.009"/>
<rect x="1415.5" y="753.8" width="40.0" height="10.0" fill="#fff" opacity="0.009"/>
<rect x="1415.5" y="773.4" width="40.0" height="10.0" fill="#fff" opacity="0.008"/>
<rect x="1415.5" y="793.0" width="40.0" height="10.0" fill="#fff" opacity="0.008"/>
<rect x="1415.5" y="812.6" width="40.0" height="10.0" fill="#fff" opacity="0.008"/>
<rect x="1415.5" y="832.2" width="40.0" height="10.0" fill="#fff" opacity="0.008"/>
<rect x="1415.5" y="851.8" width="40.0" height="10.0" fill="#fff" opacity="0.007"/>
<rect x="1415.5" y="871.4" width="40.0" height="10.0" fill="#fff" opacity="0.007"/>
<ellipse cx="0" cy="0" rx="62.0" ry="62.0" fill="url(#halo)" transform="translate(2008.0,275.0) rotate(0)"/>
<rect x="1973.0" y="255.0" width="10.0" height="40.0" fill="#fff" opacity="0.100"/>
<rect x="1953.4" y="255.0" width="10.0" height="40.0" fill="#fff" opacity="0.069"/>
<rect x="1933.8" y="255.0" width="10.0" height="40.0" fill="#fff" opacity="0.053"/>
<rect x="1914.2" y="255.0" width="10.0" height="40.0" fill="#fff" opacity="0.043"/>
<rect x="1894.6" y="255.0" width="10.0" height="40.0" fill="#fff" opacity="0.036"/>
<rect x="1875.0" y="255.0" width="10.0" height="40.0" fill="#fff" opacity="0.031"/>
<rect x="1855.4" y="255.0" width="10.0" height="40.0" fill="#fff" opacity="0.027"/>
<rect x="1835.8" y="255.0" width="10.0" height="40.0" fill="#fff" opacity="0.024"/>
<rect x="1816.2" y="255.0" width="10.0" height="40.0" fill="#fff" opacity="0.022"/>
<rect x="1796.6" y="255.0" width="10.0" height="40.0" fill="#fff" opacity="0.020"/>
<rect x="1777.0" y="255.0" width="10.0" height="40.0" fill="#fff" opacity="0.018"/>
<rect x="1757.4" y="255.0" width="10.0" height="40.0" fill="#fff" opacity="0.017"/>
<rect x="1737.8" y="255.0" width="10.0" height="40.0" fill="#fff" opacity="0.016"/>
<rect x="1718.2" y="255.0" width="10.0" height="40.0" fill="#fff" opacity="0.015"/>
<rect x="1698.6" y="255.0" width="10.0" height="40.0" fill="#fff" opacity="0.014"/>
<rect x="1679.0" y="255.0" width="10.0" height="40.0" fill="#fff" opacity="0.013"/>
<rect x="1659.4" y="255.0" width="10.0" height="40.0" fill="#fff" opacity="0.012"/>
<rect x="1639.8" y="255.0" width="10.0" height="40.0" fill="#fff" opacity="0.012"/>
<rect x="1620.2" y="255.0" width="10.0" height="40.0" fill="#fff" opacity="0.011"/>
<rect x="1600.6" y="255.0" width="10.0" height="40.0" fill="#fff" opacity="0.010"/>
<rect x="1581.0" y="255.0" width="10.0" height="40.0" fill="#fff" opacity="0.010"/>
<rect x="1561.4" y="255.0" width="10.0" height="40.0" fill="#fff" opacity="0.010"/>
<rect x="1541.8" y="255.0" width="10.0" height="40.0" fill="#fff" opacity="0.009"/>
<rect x="1522.2" y="255.0" width="10.0" height="40.0" fill="#fff" opacity="0.009"/>
<rect x="1502.6" y="255.0" width="10.0" height="40.0" fill="#fff" opacity="0.008"/>
<rect x="1483.0" y="255.0" width="10.0" height="40.0" fill="#fff" opacity="0.008"/>
<rect x="1463.4" y="255.0" width="10.0" height="40.0" fill="#fff" opacity="0.008"/>
<rect x="1443.8" y="255.0" width="10.0" height="40.0" fill="#fff" opacity="0.008"/>
<rect x="1424.2" y="255.0" width="10.0" height="40.0" fill="#fff" opacity="0.007"/>
<rect x="1404.6" y="255.0" width="10.0" height="40.0" fill="#fff" opacity="0.007"/>
<rect x="1988.0" y="240.0" width="40.0" height="10.0" fill="#fff" opacity="0.100"/>
<rect x="2033.0" y="255.0" width="10.0" height="40.0" fill="#fff" opacity="0.100"/>
<rect x="1988.0" y="300.0" width="40.0" height="10.0" fill="#fff" opacity="0.100"/>
<rect x="1988.0" y="319.6" width="40.0" height="10.0" fill="#fff" opacity="0.069"/>
<rect x="1988.0" y="339.2" width="40.0" height="10.0" fill="#fff" opacity="0.053"/>
<rect x="1988.0" y="358.8" width="40.0" height="10.0" fill="#fff" opacity="0.043"/>
<rect x="1988.0" y="378.4" width="40.0" height="10.0" fill="#fff" opacity="0.036"/>
<rect x="1988.0" y="398.0" width="40.0" height="10.0" fill="#fff" opacity="0.031"/>
<rect x="1988.0" y="417.6" width="40.0" height="10.0" fill="#fff" opacity="0.027"/>
<rect x="1988.0" y="437.2" width="40.0" height="10.0" fill="#fff" opacity="0.024"/>
<rect x="1988.0" y="456.8" width="40.0" height="10.0" fill="#fff" opacity="0.022"/>
<rect x="1988.0" y="476.4" width="40.0" height="10.0" fill="#fff" opacity="0.020"/>
<rect x="1988.0" y="496.0" width="40.0" height="10.0" fill="#fff" opacity="0.018"/>
<rect x="1988.0" y="515.6" width="40.0" height="10.0" fill="#fff" opacity="0.017"/>
<rect x="1988.0" y="535.2" width="40.0" height="10.0" fill="#fff" opacity="0.016"/>
<rect x="1988.0" y="554.8" width="40.0" height="10.0" fill="#fff" opacity="0.015"/>
<rect x="1988.0" y="574.4" width="40.0" height="10.0" fill="#fff" opacity="0.014"/>
<rect x="1988.0" y="594.0" width="40.0" height="10.0" fill="#fff" opacity="0.013"/>
<rect x="1988.0" y="613.6" width="40.0" height="10.0" fill="#fff" opacity="0.012"/>
<rect x="1988.0" y="633.2" width="40.0" height="10.0" fill="#fff" opacity="0.012"/>
<rect x="1988.0" y="652.8" width="40.0" height="10.0" fill="#fff" opacity="0.011"/>
<rect x="1988.0" y="672.4" width="40.0" height="10.0" fill="#fff" opacity="0.010"/>
<rect x="1988.0" y="692.0" width="40.0" height="10.0" fill="#fff" opacity="0.010"/>
<rect x="1988.0" y="711.6" width="40.0" height="10.0" fill="#fff" opacity="0.010"/>
<rect x="1988.0" y="731.2" width="40.0" height="10.0" fill="#fff" opacity="0.009"/>
<rect x="1988.0" y="750.8" width="40.0" height="10.0" fill="#fff" opacity="0.009"/>
<rect x="1988.0" y="770.4" width="40.0" height="10.0" fill="#fff" opacity="0.008"/>
<rect x="1988.0" y="790.0" width="40.0" height="10.0" fill="#fff" opacity="0.008"/>
<rect x="1988.0" y="809.6" width="40.0" height="10.0" fill="#fff" opacity="0.008"/>
<rect x="1988.0" y="829.2" width="40.0" height="10.0" fill="#fff" opacity="0.008"/>
<rect x="1988.0" y="848.8" width="40.0" height="10.0" fill="#fff" opacity="0.007"/>
<rect x="1988.0" y="868.4" width="40.0" height="10.0" fill="#fff" opacity="0.007"/>
<ellipse cx="0" cy="0" rx="62.0" ry="62.0" fill="url(#halo)" transform="translate(1434.9,849.3) rotate(0)"/>
<rect x="1399.9" y="829.3" width="10.0" height="40.0" fill="#fff" opacity="0.100"/>
<rect x="1414.9" y="814.3" width="40.0" height="10.0" fill="#fff" opacity="0.100"/>
<rect x="1414.9" y="794.7" width="40.0" height="10.0" fill="#fff" opacity="0.069"/>
<rect x="1414.9" y="775.1" width="40.0" height="10.0" fill="#fff" opacity="0.053"/>
<rect x="1414.9" y="755.5" width="40.0" height="10.0" fill="#fff" opacity="0.043"/>
<rect x="1414.9" y="735.9" width="40.0" height="10.0" fill="#fff" opacity="0.036"/>
<rect x="1414.9" y="716.3" width="40.0" height="10.0" fill="#fff" opacity="0.031"/>
<rect x="1414.9" y="696.7" width="40.0" height="10.0" fill="#fff" opacity="0.027"/>
<rect x="1414.9" y="677.1" width="40.0" height="10.0" fill="#fff" opacity="0.024"/>
<rect x="1414.9" y="657.5" width="40.0" height="10.0" fill="#fff" opacity="0.022"/>
<rect x="1414.9" y="637.9" width="40.0" height="10.0" fill="#fff" opacity="0.020"/>
<rect x="1414.9" y="618.3" width="40.0" height="10.0" fill="#fff" opacity="0.018"/>
<rect x="1414.9" y="598.7" width="40.0" height="10.0" fill="#fff" opacity="0.017"/>
<rect x="1414.9" y="579.1" width="40.0" height="10.0" fill="#fff" opacity="0.016"/>
<rect x="1414.9" y="559.5" width="40.0" height="10.0" fill="#fff" opacity="0.015"/>
<rect x="1414.9" y="539.9" width="40.0" height="10.0" fill="#fff" opacity="0.014"/>
<rect x="1414.9" y="520.3" width="40.0" height="10.0" fill="#fff" opacity="0.013"/>
<rect x="1414.9" y="500.7" width="40.0" height="10.0" fill="#fff" opacity="0.012"/>
<rect x="1414.9" y="481.1" width="40.0" height="10.0" fill="#fff" opacity="0.012"/>
<rect x="1414.9" y="461.5" width="40.0" height="10.0" fill="#fff" opacity="0.011"/>
<rect x="1414.9" y="441.9" width="40.0" height="10.0" fill="#fff" opacity="0.010"/>
<rect x="1414.9" y="422.3" width="40.0" height="10.0" fill="#fff" opacity="0.010"/>
<rect x="1414.9" y="402.7" width="40.0" height="10.0" fill="#fff" opacity="0.010"/>
<rect x="1414.9" y="383.1" width="40.0" height="10.0" fill="#fff" opacity="0.009"/>
<rect x="1414.9" y="363.5" width="40.0" height="10.0" fill="#fff" opacity="0.009"/>
<rect x="1414.9" y="343.9" width="40.0" height="10.0" fill="#fff" opacity="0.008"/>
<rect x="1414.9" y="324.3" width="40.0" height="10.0" fill="#fff" opacity="0.008"/>
<rect x="1414.9" y="304.7" width="40.0" height="10.0" fill="#fff" opacity="0.008"/>
<rect x="1414.9" y="285.1" width="40.0" height="10.0" fill="#fff" opacity="0.008"/>
<rect x="1414.9" y="265.5" width="40.0" height="10.0" fill="#fff" opacity="0.007"/>
<rect x="1414.9" y="245.9" width="40.0" height="10.0" fill="#fff" opacity="0.007"/>
<rect x="1459.9" y="829.3" width="10.0" height="40.0" fill="#fff" opacity="0.100"/>
<rect x="1479.5" y="829.3" width="10.0" height="40.0" fill="#fff" opacity="0.069"/>
<rect x="1499.1" y="829.3" width="10.0" height="40.0" fill="#fff" opacity="0.053"/>
<rect x="1518.7" y="829.3" width="10.0" height="40.0" fill="#fff" opacity="0.043"/>
<rect x="1538.3" y="829.3" width="10.0" height="40.0" fill="#fff" opacity="0.036"/>
<rect x="1557.9" y="829.3" width="10.0" height="40.0" fill="#fff" opacity="0.031"/>
<rect x="1577.5" y="829.3" width="10.0" height="40.0" fill="#fff" opacity="0.027"/>
<rect x="1597.1" y="829.3" width="10.0" height="40.0" fill="#fff" opacity="0.024"/>
<rect x="1616.7" y="829.3" width="10.0" height="40.0" fill="#fff" opacity="0.022"/>
<rect x="1636.3" y="829.3" width="10.0" height="40.0" fill="#fff" opacity="0.020"/>
<rect x="1655.9" y="829.3" width="10.0" height="40.0" fill="#fff" opacity="0.018"/>
<rect x="1675.5" y="829.3" width="10.0" height="40.0" fill="#fff" opacity="0.017"/>
<rect x="1695.1" y="829.3" width="10.0" height="40.0" fill="#fff" opacity="0.016"/>
<rect x="1714.7" y="829.3" width="10.0" height="40.0" fill="#fff" opacity="0.015"/>
<rect x="1734.3" y="829.3" width="10.0" height="40.0" fill="#fff" opacity="0.014"/>
<rect x="1753.9" y="829.3" width="10.0" height="40.0" fill="#fff" opacity="0.013"/>
<rect x="1773.5" y="829.3" width="10.0" height="40.0" fill="#fff" opacity="0.012"/>
<rect x="1793.1" y="829.3" width="10.0" height="40.0" fill="#fff" opacity="0.012"/>
<rect x="1812.7" y="829.3" width="10.0" height="40.0" fill="#fff" opacity="0.011"/>
<rect x="1832.3" y="829.3" width="10.0" height="40.0" fill="#fff" opacity="0.010"/>
<rect x="1851.9" y="829.3" width="10.0" height="40.0" fill="#fff" opacity="0.010"/>
<rect x="1871.5" y="829.3" width="10.0" height="40.0" fill="#fff" opacity="0.010"/>
<rect x="1891.1" y="829.3" width="10.0" height="40.0" fill="#fff" opacity="0.009"/>
<rect x="1910.7" y="829.3" width="10.0" height="40.0" fill="#fff" opacity="0.009"/>
<rect x="1930.3" y="829.3" width="10.0" height="40.0" fill="#fff" opacity="0.008"/>
<rect x="1949.9" y="829.3" width="10.0" height="40.0" fill="#fff" opacity="0.008"/>
<rect x="1969.5" y="829.3" width="10.0" height="40.0" fill="#fff" opacity="0.008"/>
<rect x="1989.1" y="829.3" width="10.0" height="40.0" fill="#fff" opacity="0.008"/>
<rect x="2008.7" y="829.3" width="10.0" height="40.0" fill="#fff" opacity="0.007"/>
<rect x="2028.3" y="829.3" width="10.0" height="40.0" fill="#fff" opacity="0.007"/>
<rect x="1414.9" y="874.3" width="40.0" height="10.0" fill="#fff" opacity="0.100"/>
<ellipse cx="0" cy="0" rx="62.0" ry="62.0" fill="url(#halo)" transform="translate(2007.5,850.5) rotate(0)"/>
<rect x="1972.5" y="830.5" width="10.0" height="40.0" fill="#fff" opacity="0.100"/>
<rect x="1952.9" y="830.5" width="10.0" height="40.0" fill="#fff" opacity="0.069"/>
<rect x="1933.3" y="830.5" width="10.0" height="40.0" fill="#fff" opacity="0.053"/>
<rect x="1913.7" y="830.5" width="10.0" height="40.0" fill="#fff" opacity="0.043"/>
<rect x="1894.1" y="830.5" width="10.0" height="40.0" fill="#fff" opacity="0.036"/>
<rect x="1874.5" y="830.5" width="10.0" height="40.0" fill="#fff" opacity="0.031"/>
<rect x="1854.9" y="830.5" width="10.0" height="40.0" fill="#fff" opacity="0.027"/>
<rect x="1835.3" y="830.5" width="10.0" height="40.0" fill="#fff" opacity="0.024"/>
<rect x="1815.7" y="830.5" width="10.0" height="40.0" fill="#fff" opacity="0.022"/>
<rect x="1796.1" y="830.5" width="10.0" height="40.0" fill="#fff" opacity="0.020"/>
<rect x="1776.5" y="830.5" width="10.0" height="40.0" fill="#fff" opacity="0.018"/>
<rect x="1756.9" y="830.5" width="10.0" height="40.0" fill="#fff" opacity="0.017"/>
<rect x="1737.3" y="830.5" width="10.0" height="40.0" fill="#fff" opacity="0.016"/>
<rect x="1717.7" y="830.5" width="10.0" height="40.0" fill="#fff" opacity="0.015"/>
<rect x="1698.1" y="830.5" width="10.0" height="40.0" fill="#fff" opacity="0.014"/>
<rect x="1678.5" y="830.5" width="10.0" height="40.0" fill="#fff" opacity="0.013"/>
<rect x="1658.9" y="830.5" width="10.0" height="40.0" fill="#fff" opacity="0.012"/>
<rect x="1639.3" y="830.5" width="10.0" height="40.0" fill="#fff" opacity="0.012"/>
<rect x="1619.7" y="830.5" width="10.0" height="40.0" fill="#fff" opacity="0.011"/>
<rect x="1600.1" y="830.5" width="10.0" height="40.0" fill="#fff" opacity="0.010"/>
<rect x="1580.5" y="830.5" width="10.0" height="40.0" fill="#fff" opacity="0.010"/>
<rect x="1560.9" y="830.5" width="10.0" height="40.0" fill="#fff" opacity="0.010"/>
<rect x="1541.3" y="830.5" width="10.0" height="40.0" fill="#fff" opacity="0.009"/>
<rect x="1521.7" y="830.5" width="10.0" height="40.0" fill="#fff" opacity="0.009"/>
<rect x="1502.1" y="830.5" width="10.0" height="40.0" fill="#fff" opacity="0.008"/>
<rect x="1482.5" y="830.5" width="10.0" height="40.0" fill="#fff" opacity="0.008"/>
<rect x="1462.9" y="830.5" width="10.0" height="40.0" fill="#fff" opacity="0.008"/>
<rect x="1443.3" y="830.5" width="10.0" height="40.0" fill="#fff" opacity="0.008"/>
<rect x="1423.7" y="830.5" width="10.0" height="40.0" fill="#fff" opacity="0.007"/>
<rect x="1404.1" y="830.5" width="10.0" height="40.0" fill="#fff" opacity="0.007"/>
<rect x="1987.5" y="815.5" width="40.0" height="10.0" fill="#fff" opacity="0.100"/>
<rect x="1987.5" y="795.9" width="40.0" height="10.0" fill="#fff" opacity="0.069"/>
<rect x="1987.5" y="776.3" width="40.0" height="10.0" fill="#fff" opacity="0.053"/>
<rect x="1987.5" y="756.7" width="40.0" height="10.0" fill="#fff" opacity="0.043"/>
<rect x="1987.5" y="737.1" width="40.0" height="10.0" fill="#fff" opacity="0.036"/>
<rect x="1987.5" y="717.5" width="40.0" height="10.0" fill="#fff" opacity="0.031"/>
<rect x="1987.5" y="697.9" width="40.0" height="10.0" fill="#fff" opacity="0.027"/>
<rect x="1987.5" y="678.3" width="40.0" height="10.0" fill="#fff" opacity="0.024"/>
<rect x="1987.5" y="658.7" width="40.0" height="10.0" fill="#fff" opacity="0.022"/>
<rect x="1987.5" y="639.1" width="40.0" height="10.0" fill="#fff" opacity="0.020"/>
<rect x="1987.5" y="619.5" width="40.0" height="10.0" fill="#fff" opacity="0.018"/>
<rect x="1987.5" y="599.9" width="40.0" height="10.0" fill="#fff" opacity="0.017"/>
<rect x="1987.5" y="580.3" width="40.0" height="10.0" fill="#fff" opacity="0.016"/>
<rect x="1987.5" y="560.7" width="40.0" height="10.0" fill="#fff" opacity="0.015"/>
<rect x="1987.5" y="541.1" width="40.0" height="10.0" fill="#fff" opacity="0.014"/>
<rect x="1987.5" y="521.5" width="40.0" height="10.0" fill="#fff" opacity="0.013"/>
<rect x="1987.5" y="501.9" width="40.0" height="10.0" fill="#fff" opacity="0.012"/>
<rect x="1987.5" y="482.3" width="40.0" height="10.0" fill="#fff" opacity="0.012"/>
<rect x="1987.5" y="462.7" width="40.0" height="10.0" fill="#fff" opacity="0.011"/>
<rect x="1987.5" y="443.1" width="40.0" height="10.0" fill="#fff" opacity="0.010"/>
<rect x="1987.5" y="423.5" width="40.0" height="10.0" fill="#fff" opacity="0.010"/>
<rect x="1987.5" y="403.9" width="40.0" height="10.0" fill="#fff" opacity="0.010"/>
<rect x="1987.5" y="384.3" width="40.0" height="10.0" fill="#fff" opacity="0.009"/>
<rect x="1987.5" y="364.7" width="40.0" height="10.0" fill="#fff" opacity="0.009"/>
<rect x="1987.5" y="345.1" width="40.0" height="10.0" fill="#fff" opacity="0.008"/>
<rect x="1987.5" y="325.5" width="40.0" height="10.0" fill="#fff" opacity="0.008"/>
<rect x="1987.5" y="305.9" width="40.0" height="10.0" fill="#fff" opacity="0.008"/>
<rect x="1987.5" y="286.3" width="40.0" height="10.0" fill="#fff" opacity="0.008"/>
<rect x="1987.5" y="266.7" width="40.0" height="10.0" fill="#fff" opacity="0.007"/>
<rect x="1987.5" y="247.1" width="40.0" height="10.0" fill="#fff" opacity="0.007"/>
<rect x="2032.5" y="830.5" width="10.0" height="40.0" fill="#fff" opacity="0.100"/>
<rect x="1987.5" y="875.5" width="40.0" height="10.0" fill="#fff" opacity="0.100"/>
<ellipse cx="0" cy="0" rx="21.0" ry="25.0" fill="url(#pk)" transform="translate(1444.9,268.7) rotate(-45)"/>
<ellipse cx="0" cy="0" rx="21.0" ry="25.0" fill="url(#pk)" transform="translate(1426.1,287.4) rotate(-45)"/>
<ellipse cx="0" cy="0" rx="21.0" ry="25.0" fill="url(#pk)" transform="translate(2015.2,838.2) rotate(-45)"/>
<ellipse cx="0" cy="0" rx="21.0" ry="25.0" fill="url(#pk)" transform="translate(1999.8,863.0) rotate(-45)"/>
<ellipse cx="0" cy="0" rx="19" ry="3.4" fill="#000" opacity=".85" transform="translate(1435.5,278.1) rotate(45)"/>
<ellipse cx="0" cy="0" rx="19" ry="3.4" fill="#000" opacity=".85" transform="translate(2007.5,850.6) rotate(45)"/>
<ellipse cx="0" cy="0" rx="35.0" ry="18.0" fill="url(#pkc)" transform="translate(2008.0,275.0) rotate(-45)"/>
<rect x="1977.5" y="250.7" width="21.0" height="21.0" rx="3" fill="#fff" opacity="0.50" filter="url(#b3)"/>
<rect x="2014.3" y="286.8" width="21.0" height="21.0" rx="3" fill="#fff" opacity="0.50" filter="url(#b3)"/>
<ellipse cx="0" cy="0" rx="35.0" ry="18.0" fill="url(#pkc)" transform="translate(1434.9,849.3) rotate(-45)"/>
<rect x="1403.0" y="822.5" width="21.0" height="21.0" rx="3" fill="#fff" opacity="0.50" filter="url(#b3)"/>
<rect x="1446.0" y="855.5" width="21.0" height="21.0" rx="3" fill="#fff" opacity="0.50" filter="url(#b3)"/>
<ellipse cx="0" cy="0" rx="24" ry="3" fill="#000" opacity=".8" transform="translate(1998.4,265.4) rotate(-45)"/>
<ellipse cx="0" cy="0" rx="24" ry="3" fill="#000" opacity=".8" transform="translate(2017.6,284.6) rotate(-45)"/>
<ellipse cx="0" cy="0" rx="24" ry="3" fill="#000" opacity=".8" transform="translate(1425.3,839.7) rotate(-45)"/>
<ellipse cx="0" cy="0" rx="24" ry="3" fill="#000" opacity=".8" transform="translate(1444.5,858.9) rotate(-45)"/>
</g></g>
<rect x="2074.6" y="237" width="49.8" height="653" fill="url(#jetbar)"/>
<g clip-path="url(#dclip)"><g filter="url(#jetf)">
<rect x="1312.4" y="1307.5" width="715.9" height="716.7" fill="#080808"/>
<ellipse cx="0" cy="0" rx="70.0" ry="70.0" fill="url(#halo)" transform="translate(1931.5,1405.5) rotate(0)"/>
<ellipse cx="0" cy="0" rx="70.0" ry="70.0" fill="url(#halo)" transform="translate(1410.2,1404.3) rotate(0)"/>
<ellipse cx="0" cy="0" rx="70.0" ry="70.0" fill="url(#halo)" transform="translate(1410.2,1926.8) rotate(0)"/>
<ellipse cx="0" cy="0" rx="70.0" ry="70.0" fill="url(#halo)" transform="translate(1932.3,1926.3) rotate(0)"/>
<rect x="1879.3" y="1369.4" width="9.0" height="26.0" fill="#fff" opacity="0.070"/>
<rect x="1861.7" y="1369.4" width="9.0" height="26.0" fill="#fff" opacity="0.048"/>
<rect x="1844.1" y="1369.4" width="9.0" height="26.0" fill="#fff" opacity="0.037"/>
<rect x="1826.5" y="1369.4" width="9.0" height="26.0" fill="#fff" opacity="0.030"/>
<rect x="1808.9" y="1369.4" width="9.0" height="26.0" fill="#fff" opacity="0.025"/>
<rect x="1791.3" y="1369.4" width="9.0" height="26.0" fill="#fff" opacity="0.022"/>
<rect x="1773.7" y="1369.4" width="9.0" height="26.0" fill="#fff" opacity="0.019"/>
<rect x="1756.1" y="1369.4" width="9.0" height="26.0" fill="#fff" opacity="0.017"/>
<rect x="1738.5" y="1369.4" width="9.0" height="26.0" fill="#fff" opacity="0.015"/>
<rect x="1720.9" y="1369.4" width="9.0" height="26.0" fill="#fff" opacity="0.014"/>
<rect x="1703.3" y="1369.4" width="9.0" height="26.0" fill="#fff" opacity="0.013"/>
<rect x="1685.7" y="1369.4" width="9.0" height="26.0" fill="#fff" opacity="0.012"/>
<rect x="1668.1" y="1369.4" width="9.0" height="26.0" fill="#fff" opacity="0.011"/>
<rect x="1650.5" y="1369.4" width="9.0" height="26.0" fill="#fff" opacity="0.010"/>
<rect x="1632.9" y="1369.4" width="9.0" height="26.0" fill="#fff" opacity="0.010"/>
<rect x="1615.3" y="1369.4" width="9.0" height="26.0" fill="#fff" opacity="0.009"/>
<rect x="1597.7" y="1369.4" width="9.0" height="26.0" fill="#fff" opacity="0.009"/>
<rect x="1580.1" y="1369.4" width="9.0" height="26.0" fill="#fff" opacity="0.008"/>
<rect x="1562.5" y="1369.4" width="9.0" height="26.0" fill="#fff" opacity="0.008"/>
<rect x="1544.9" y="1369.4" width="9.0" height="26.0" fill="#fff" opacity="0.007"/>
<rect x="1527.3" y="1369.4" width="9.0" height="26.0" fill="#fff" opacity="0.007"/>
<rect x="1509.7" y="1369.4" width="9.0" height="26.0" fill="#fff" opacity="0.007"/>
<rect x="1492.1" y="1369.4" width="9.0" height="26.0" fill="#fff" opacity="0.006"/>
<rect x="1474.5" y="1369.4" width="9.0" height="26.0" fill="#fff" opacity="0.006"/>
<rect x="1456.9" y="1369.4" width="9.0" height="26.0" fill="#fff" opacity="0.006"/>
<rect x="1439.3" y="1369.4" width="9.0" height="26.0" fill="#fff" opacity="0.006"/>
<rect x="1421.7" y="1369.4" width="9.0" height="26.0" fill="#fff" opacity="0.006"/>
<rect x="1404.1" y="1369.4" width="9.0" height="26.0" fill="#fff" opacity="0.005"/>
<rect x="1386.5" y="1369.4" width="9.0" height="26.0" fill="#fff" opacity="0.005"/>
<rect x="1368.9" y="1369.4" width="9.0" height="26.0" fill="#fff" opacity="0.005"/>
<rect x="1351.3" y="1369.4" width="9.0" height="26.0" fill="#fff" opacity="0.005"/>
<rect x="1333.7" y="1369.4" width="9.0" height="26.0" fill="#fff" opacity="0.005"/>
<rect x="1894.8" y="1353.9" width="26.0" height="9.0" fill="#fff" opacity="0.070"/>
<rect x="1894.8" y="1336.3" width="26.0" height="9.0" fill="#fff" opacity="0.048"/>
<rect x="1894.8" y="1318.7" width="26.0" height="9.0" fill="#fff" opacity="0.037"/>
<rect x="1927.3" y="1369.4" width="9.0" height="26.0" fill="#fff" opacity="0.070"/>
<rect x="1944.9" y="1369.4" width="9.0" height="26.0" fill="#fff" opacity="0.048"/>
<rect x="1962.5" y="1369.4" width="9.0" height="26.0" fill="#fff" opacity="0.037"/>
<rect x="1980.1" y="1369.4" width="9.0" height="26.0" fill="#fff" opacity="0.030"/>
<rect x="1997.7" y="1369.4" width="9.0" height="26.0" fill="#fff" opacity="0.025"/>
<rect x="1894.8" y="1401.9" width="26.0" height="9.0" fill="#fff" opacity="0.070"/>
<rect x="1894.8" y="1419.5" width="26.0" height="9.0" fill="#fff" opacity="0.048"/>
<rect x="1894.8" y="1437.1" width="26.0" height="9.0" fill="#fff" opacity="0.037"/>
<rect x="1894.8" y="1454.7" width="26.0" height="9.0" fill="#fff" opacity="0.030"/>
<rect x="1894.8" y="1472.3" width="26.0" height="9.0" fill="#fff" opacity="0.025"/>
<rect x="1894.8" y="1489.9" width="26.0" height="9.0" fill="#fff" opacity="0.022"/>
<rect x="1894.8" y="1507.5" width="26.0" height="9.0" fill="#fff" opacity="0.019"/>
<rect x="1894.8" y="1525.1" width="26.0" height="9.0" fill="#fff" opacity="0.017"/>
<rect x="1894.8" y="1542.7" width="26.0" height="9.0" fill="#fff" opacity="0.015"/>
<rect x="1894.8" y="1560.3" width="26.0" height="9.0" fill="#fff" opacity="0.014"/>
<rect x="1894.8" y="1577.9" width="26.0" height="9.0" fill="#fff" opacity="0.013"/>
<rect x="1894.8" y="1595.5" width="26.0" height="9.0" fill="#fff" opacity="0.012"/>
<rect x="1894.8" y="1613.1" width="26.0" height="9.0" fill="#fff" opacity="0.011"/>
<rect x="1894.8" y="1630.7" width="26.0" height="9.0" fill="#fff" opacity="0.010"/>
<rect x="1894.8" y="1648.3" width="26.0" height="9.0" fill="#fff" opacity="0.010"/>
<rect x="1894.8" y="1665.9" width="26.0" height="9.0" fill="#fff" opacity="0.009"/>
<rect x="1894.8" y="1683.5" width="26.0" height="9.0" fill="#fff" opacity="0.009"/>
<rect x="1894.8" y="1701.1" width="26.0" height="9.0" fill="#fff" opacity="0.008"/>
<rect x="1894.8" y="1718.7" width="26.0" height="9.0" fill="#fff" opacity="0.008"/>
<rect x="1894.8" y="1736.3" width="26.0" height="9.0" fill="#fff" opacity="0.007"/>
<rect x="1894.8" y="1753.9" width="26.0" height="9.0" fill="#fff" opacity="0.007"/>
<rect x="1894.8" y="1771.5" width="26.0" height="9.0" fill="#fff" opacity="0.007"/>
<rect x="1894.8" y="1789.1" width="26.0" height="9.0" fill="#fff" opacity="0.006"/>
<rect x="1894.8" y="1806.7" width="26.0" height="9.0" fill="#fff" opacity="0.006"/>
<rect x="1894.8" y="1824.3" width="26.0" height="9.0" fill="#fff" opacity="0.006"/>
<rect x="1894.8" y="1841.9" width="26.0" height="9.0" fill="#fff" opacity="0.006"/>
<rect x="1894.8" y="1859.5" width="26.0" height="9.0" fill="#fff" opacity="0.006"/>
<rect x="1894.8" y="1877.1" width="26.0" height="9.0" fill="#fff" opacity="0.005"/>
<rect x="1894.8" y="1894.7" width="26.0" height="9.0" fill="#fff" opacity="0.005"/>
<rect x="1894.8" y="1912.3" width="26.0" height="9.0" fill="#fff" opacity="0.005"/>
<rect x="1894.8" y="1929.9" width="26.0" height="9.0" fill="#fff" opacity="0.005"/>
<rect x="1894.8" y="1947.5" width="26.0" height="9.0" fill="#fff" opacity="0.005"/>
<rect x="1894.8" y="1965.1" width="26.0" height="9.0" fill="#fff" opacity="0.005"/>
<rect x="1894.8" y="1982.7" width="26.0" height="9.0" fill="#fff" opacity="0.004"/>
<rect x="1894.8" y="2000.3" width="26.0" height="9.0" fill="#fff" opacity="0.004"/>
<rect x="1926.7" y="1415.5" width="9.0" height="26.0" fill="#fff" opacity="0.070"/>
<rect x="1909.1" y="1415.5" width="9.0" height="26.0" fill="#fff" opacity="0.048"/>
<rect x="1891.5" y="1415.5" width="9.0" height="26.0" fill="#fff" opacity="0.037"/>
<rect x="1873.9" y="1415.5" width="9.0" height="26.0" fill="#fff" opacity="0.030"/>
<rect x="1856.3" y="1415.5" width="9.0" height="26.0" fill="#fff" opacity="0.025"/>
<rect x="1838.7" y="1415.5" width="9.0" height="26.0" fill="#fff" opacity="0.022"/>
<rect x="1821.1" y="1415.5" width="9.0" height="26.0" fill="#fff" opacity="0.019"/>
<rect x="1803.5" y="1415.5" width="9.0" height="26.0" fill="#fff" opacity="0.017"/>
<rect x="1785.9" y="1415.5" width="9.0" height="26.0" fill="#fff" opacity="0.015"/>
<rect x="1768.3" y="1415.5" width="9.0" height="26.0" fill="#fff" opacity="0.014"/>
<rect x="1750.7" y="1415.5" width="9.0" height="26.0" fill="#fff" opacity="0.013"/>
<rect x="1733.1" y="1415.5" width="9.0" height="26.0" fill="#fff" opacity="0.012"/>
<rect x="1715.5" y="1415.5" width="9.0" height="26.0" fill="#fff" opacity="0.011"/>
<rect x="1697.9" y="1415.5" width="9.0" height="26.0" fill="#fff" opacity="0.010"/>
<rect x="1680.3" y="1415.5" width="9.0" height="26.0" fill="#fff" opacity="0.010"/>
<rect x="1662.7" y="1415.5" width="9.0" height="26.0" fill="#fff" opacity="0.009"/>
<rect x="1645.1" y="1415.5" width="9.0" height="26.0" fill="#fff" opacity="0.009"/>
<rect x="1627.5" y="1415.5" width="9.0" height="26.0" fill="#fff" opacity="0.008"/>
<rect x="1609.9" y="1415.5" width="9.0" height="26.0" fill="#fff" opacity="0.008"/>
<rect x="1592.3" y="1415.5" width="9.0" height="26.0" fill="#fff" opacity="0.007"/>
<rect x="1574.7" y="1415.5" width="9.0" height="26.0" fill="#fff" opacity="0.007"/>
<rect x="1557.1" y="1415.5" width="9.0" height="26.0" fill="#fff" opacity="0.007"/>
<rect x="1539.5" y="1415.5" width="9.0" height="26.0" fill="#fff" opacity="0.006"/>
<rect x="1521.9" y="1415.5" width="9.0" height="26.0" fill="#fff" opacity="0.006"/>
<rect x="1504.3" y="1415.5" width="9.0" height="26.0" fill="#fff" opacity="0.006"/>
<rect x="1486.7" y="1415.5" width="9.0" height="26.0" fill="#fff" opacity="0.006"/>
<rect x="1469.1" y="1415.5" width="9.0" height="26.0" fill="#fff" opacity="0.006"/>
<rect x="1451.5" y="1415.5" width="9.0" height="26.0" fill="#fff" opacity="0.005"/>
<rect x="1433.9" y="1415.5" width="9.0" height="26.0" fill="#fff" opacity="0.005"/>
<rect x="1416.3" y="1415.5" width="9.0" height="26.0" fill="#fff" opacity="0.005"/>
<rect x="1398.7" y="1415.5" width="9.0" height="26.0" fill="#fff" opacity="0.005"/>
<rect x="1381.1" y="1415.5" width="9.0" height="26.0" fill="#fff" opacity="0.005"/>
<rect x="1363.5" y="1415.5" width="9.0" height="26.0" fill="#fff" opacity="0.005"/>
<rect x="1345.9" y="1415.5" width="9.0" height="26.0" fill="#fff" opacity="0.004"/>
<rect x="1328.3" y="1415.5" width="9.0" height="26.0" fill="#fff" opacity="0.004"/>
<rect x="1942.2" y="1400.0" width="26.0" height="9.0" fill="#fff" opacity="0.070"/>
<rect x="1942.2" y="1382.4" width="26.0" height="9.0" fill="#fff" opacity="0.048"/>
<rect x="1942.2" y="1364.8" width="26.0" height="9.0" fill="#fff" opacity="0.037"/>
<rect x="1942.2" y="1347.2" width="26.0" height="9.0" fill="#fff" opacity="0.030"/>
<rect x="1942.2" y="1329.6" width="26.0" height="9.0" fill="#fff" opacity="0.025"/>
<rect x="1974.7" y="1415.5" width="9.0" height="26.0" fill="#fff" opacity="0.070"/>
<rect x="1992.3" y="1415.5" width="9.0" height="26.0" fill="#fff" opacity="0.048"/>
<rect x="2009.9" y="1415.5" width="9.0" height="26.0" fill="#fff" opacity="0.037"/>
<rect x="1942.2" y="1448.0" width="26.0" height="9.0" fill="#fff" opacity="0.070"/>
<rect x="1942.2" y="1465.6" width="26.0" height="9.0" fill="#fff" opacity="0.048"/>
<rect x="1942.2" y="1483.2" width="26.0" height="9.0" fill="#fff" opacity="0.037"/>
<rect x="1942.2" y="1500.8" width="26.0" height="9.0" fill="#fff" opacity="0.030"/>
<rect x="1942.2" y="1518.4" width="26.0" height="9.0" fill="#fff" opacity="0.025"/>
<rect x="1942.2" y="1536.0" width="26.0" height="9.0" fill="#fff" opacity="0.022"/>
<rect x="1942.2" y="1553.6" width="26.0" height="9.0" fill="#fff" opacity="0.019"/>
<rect x="1942.2" y="1571.2" width="26.0" height="9.0" fill="#fff" opacity="0.017"/>
<rect x="1942.2" y="1588.8" width="26.0" height="9.0" fill="#fff" opacity="0.015"/>
<rect x="1942.2" y="1606.4" width="26.0" height="9.0" fill="#fff" opacity="0.014"/>
<rect x="1942.2" y="1624.0" width="26.0" height="9.0" fill="#fff" opacity="0.013"/>
<rect x="1942.2" y="1641.6" width="26.0" height="9.0" fill="#fff" opacity="0.012"/>
<rect x="1942.2" y="1659.2" width="26.0" height="9.0" fill="#fff" opacity="0.011"/>
<rect x="1942.2" y="1676.8" width="26.0" height="9.0" fill="#fff" opacity="0.010"/>
<rect x="1942.2" y="1694.4" width="26.0" height="9.0" fill="#fff" opacity="0.010"/>
<rect x="1942.2" y="1712.0" width="26.0" height="9.0" fill="#fff" opacity="0.009"/>
<rect x="1942.2" y="1729.6" width="26.0" height="9.0" fill="#fff" opacity="0.009"/>
<rect x="1942.2" y="1747.2" width="26.0" height="9.0" fill="#fff" opacity="0.008"/>
<rect x="1942.2" y="1764.8" width="26.0" height="9.0" fill="#fff" opacity="0.008"/>
<rect x="1942.2" y="1782.4" width="26.0" height="9.0" fill="#fff" opacity="0.007"/>
<rect x="1942.2" y="1800.0" width="26.0" height="9.0" fill="#fff" opacity="0.007"/>
<rect x="1942.2" y="1817.6" width="26.0" height="9.0" fill="#fff" opacity="0.007"/>
<rect x="1942.2" y="1835.2" width="26.0" height="9.0" fill="#fff" opacity="0.006"/>
<rect x="1942.2" y="1852.8" width="26.0" height="9.0" fill="#fff" opacity="0.006"/>
<rect x="1942.2" y="1870.4" width="26.0" height="9.0" fill="#fff" opacity="0.006"/>
<rect x="1942.2" y="1888.0" width="26.0" height="9.0" fill="#fff" opacity="0.006"/>
<rect x="1942.2" y="1905.6" width="26.0" height="9.0" fill="#fff" opacity="0.006"/>
<rect x="1942.2" y="1923.2" width="26.0" height="9.0" fill="#fff" opacity="0.005"/>
<rect x="1942.2" y="1940.8" width="26.0" height="9.0" fill="#fff" opacity="0.005"/>
<rect x="1942.2" y="1958.4" width="26.0" height="9.0" fill="#fff" opacity="0.005"/>
<rect x="1942.2" y="1976.0" width="26.0" height="9.0" fill="#fff" opacity="0.005"/>
<rect x="1942.2" y="1993.6" width="26.0" height="9.0" fill="#fff" opacity="0.005"/>
<rect x="1402.5" y="1371.0" width="9.0" height="26.0" fill="#fff" opacity="0.070"/>
<rect x="1384.9" y="1371.0" width="9.0" height="26.0" fill="#fff" opacity="0.048"/>
<rect x="1367.3" y="1371.0" width="9.0" height="26.0" fill="#fff" opacity="0.037"/>
<rect x="1349.7" y="1371.0" width="9.0" height="26.0" fill="#fff" opacity="0.030"/>
<rect x="1332.1" y="1371.0" width="9.0" height="26.0" fill="#fff" opacity="0.025"/>
<rect x="1418.0" y="1355.5" width="26.0" height="9.0" fill="#fff" opacity="0.070"/>
<rect x="1418.0" y="1337.9" width="26.0" height="9.0" fill="#fff" opacity="0.048"/>
<rect x="1418.0" y="1320.3" width="26.0" height="9.0" fill="#fff" opacity="0.037"/>
<rect x="1450.5" y="1371.0" width="9.0" height="26.0" fill="#fff" opacity="0.070"/>
<rect x="1468.1" y="1371.0" width="9.0" height="26.0" fill="#fff" opacity="0.048"/>
<rect x="1485.7" y="1371.0" width="9.0" height="26.0" fill="#fff" opacity="0.037"/>
<rect x="1503.3" y="1371.0" width="9.0" height="26.0" fill="#fff" opacity="0.030"/>
<rect x="1520.9" y="1371.0" width="9.0" height="26.0" fill="#fff" opacity="0.025"/>
<rect x="1538.5" y="1371.0" width="9.0" height="26.0" fill="#fff" opacity="0.022"/>
<rect x="1556.1" y="1371.0" width="9.0" height="26.0" fill="#fff" opacity="0.019"/>
<rect x="1573.7" y="1371.0" width="9.0" height="26.0" fill="#fff" opacity="0.017"/>
<rect x="1591.3" y="1371.0" width="9.0" height="26.0" fill="#fff" opacity="0.015"/>
<rect x="1608.9" y="1371.0" width="9.0" height="26.0" fill="#fff" opacity="0.014"/>
<rect x="1626.5" y="1371.0" width="9.0" height="26.0" fill="#fff" opacity="0.013"/>
<rect x="1644.1" y="1371.0" width="9.0" height="26.0" fill="#fff" opacity="0.012"/>
<rect x="1661.7" y="1371.0" width="9.0" height="26.0" fill="#fff" opacity="0.011"/>
<rect x="1679.3" y="1371.0" width="9.0" height="26.0" fill="#fff" opacity="0.010"/>
<rect x="1696.9" y="1371.0" width="9.0" height="26.0" fill="#fff" opacity="0.010"/>
<rect x="1714.5" y="1371.0" width="9.0" height="26.0" fill="#fff" opacity="0.009"/>
<rect x="1732.1" y="1371.0" width="9.0" height="26.0" fill="#fff" opacity="0.009"/>
<rect x="1749.7" y="1371.0" width="9.0" height="26.0" fill="#fff" opacity="0.008"/>
<rect x="1767.3" y="1371.0" width="9.0" height="26.0" fill="#fff" opacity="0.008"/>
<rect x="1784.9" y="1371.0" width="9.0" height="26.0" fill="#fff" opacity="0.007"/>
<rect x="1802.5" y="1371.0" width="9.0" height="26.0" fill="#fff" opacity="0.007"/>
<rect x="1820.1" y="1371.0" width="9.0" height="26.0" fill="#fff" opacity="0.007"/>
<rect x="1837.7" y="1371.0" width="9.0" height="26.0" fill="#fff" opacity="0.006"/>
<rect x="1855.3" y="1371.0" width="9.0" height="26.0" fill="#fff" opacity="0.006"/>
<rect x="1872.9" y="1371.0" width="9.0" height="26.0" fill="#fff" opacity="0.006"/>
<rect x="1890.5" y="1371.0" width="9.0" height="26.0" fill="#fff" opacity="0.006"/>
<rect x="1908.1" y="1371.0" width="9.0" height="26.0" fill="#fff" opacity="0.006"/>
<rect x="1925.7" y="1371.0" width="9.0" height="26.0" fill="#fff" opacity="0.005"/>
<rect x="1943.3" y="1371.0" width="9.0" height="26.0" fill="#fff" opacity="0.005"/>
<rect x="1960.9" y="1371.0" width="9.0" height="26.0" fill="#fff" opacity="0.005"/>
<rect x="1978.5" y="1371.0" width="9.0" height="26.0" fill="#fff" opacity="0.005"/>
<rect x="1996.1" y="1371.0" width="9.0" height="26.0" fill="#fff" opacity="0.005"/>
<rect x="1418.0" y="1403.5" width="26.0" height="9.0" fill="#fff" opacity="0.070"/>
<rect x="1418.0" y="1421.1" width="26.0" height="9.0" fill="#fff" opacity="0.048"/>
<rect x="1418.0" y="1438.7" width="26.0" height="9.0" fill="#fff" opacity="0.037"/>
<rect x="1418.0" y="1456.3" width="26.0" height="9.0" fill="#fff" opacity="0.030"/>
<rect x="1418.0" y="1473.9" width="26.0" height="9.0" fill="#fff" opacity="0.025"/>
<rect x="1418.0" y="1491.5" width="26.0" height="9.0" fill="#fff" opacity="0.022"/>
<rect x="1418.0" y="1509.1" width="26.0" height="9.0" fill="#fff" opacity="0.019"/>
<rect x="1418.0" y="1526.7" width="26.0" height="9.0" fill="#fff" opacity="0.017"/>
<rect x="1418.0" y="1544.3" width="26.0" height="9.0" fill="#fff" opacity="0.015"/>
<rect x="1418.0" y="1561.9" width="26.0" height="9.0" fill="#fff" opacity="0.014"/>
<rect x="1418.0" y="1579.5" width="26.0" height="9.0" fill="#fff" opacity="0.013"/>
<rect x="1418.0" y="1597.1" width="26.0" height="9.0" fill="#fff" opacity="0.012"/>
<rect x="1418.0" y="1614.7" width="26.0" height="9.0" fill="#fff" opacity="0.011"/>
<rect x="1418.0" y="1632.3" width="26.0" height="9.0" fill="#fff" opacity="0.010"/>
<rect x="1418.0" y="1649.9" width="26.0" height="9.0" fill="#fff" opacity="0.010"/>
<rect x="1418.0" y="1667.5" width="26.0" height="9.0" fill="#fff" opacity="0.009"/>
<rect x="1418.0" y="1685.1" width="26.0" height="9.0" fill="#fff" opacity="0.009"/>
<rect x="1418.0" y="1702.7" width="26.0" height="9.0" fill="#fff" opacity="0.008"/>
<rect x="1418.0" y="1720.3" width="26.0" height="9.0" fill="#fff" opacity="0.008"/>
<rect x="1418.0" y="1737.9" width="26.0" height="9.0" fill="#fff" opacity="0.007"/>
<rect x="1418.0" y="1755.5" width="26.0" height="9.0" fill="#fff" opacity="0.007"/>
<rect x="1418.0" y="1773.1" width="26.0" height="9.0" fill="#fff" opacity="0.007"/>
<rect x="1418.0" y="1790.7" width="26.0" height="9.0" fill="#fff" opacity="0.006"/>
<rect x="1418.0" y="1808.3" width="26.0" height="9.0" fill="#fff" opacity="0.006"/>
<rect x="1418.0" y="1825.9" width="26.0" height="9.0" fill="#fff" opacity="0.006"/>
<rect x="1418.0" y="1843.5" width="26.0" height="9.0" fill="#fff" opacity="0.006"/>
<rect x="1418.0" y="1861.1" width="26.0" height="9.0" fill="#fff" opacity="0.006"/>
<rect x="1418.0" y="1878.7" width="26.0" height="9.0" fill="#fff" opacity="0.005"/>
<rect x="1418.0" y="1896.3" width="26.0" height="9.0" fill="#fff" opacity="0.005"/>
<rect x="1418.0" y="1913.9" width="26.0" height="9.0" fill="#fff" opacity="0.005"/>
<rect x="1418.0" y="1931.5" width="26.0" height="9.0" fill="#fff" opacity="0.005"/>
<rect x="1418.0" y="1949.1" width="26.0" height="9.0" fill="#fff" opacity="0.005"/>
<rect x="1418.0" y="1966.7" width="26.0" height="9.0" fill="#fff" opacity="0.005"/>
<rect x="1418.0" y="1984.3" width="26.0" height="9.0" fill="#fff" opacity="0.004"/>
<rect x="1418.0" y="2001.9" width="26.0" height="9.0" fill="#fff" opacity="0.004"/>
<rect x="1361.0" y="1411.7" width="9.0" height="26.0" fill="#fff" opacity="0.070"/>
<rect x="1343.4" y="1411.7" width="9.0" height="26.0" fill="#fff" opacity="0.048"/>
<rect x="1325.8" y="1411.7" width="9.0" height="26.0" fill="#fff" opacity="0.037"/>
<rect x="1376.5" y="1396.2" width="26.0" height="9.0" fill="#fff" opacity="0.070"/>
<rect x="1376.5" y="1378.6" width="26.0" height="9.0" fill="#fff" opacity="0.048"/>
<rect x="1376.5" y="1361.0" width="26.0" height="9.0" fill="#fff" opacity="0.037"/>
<rect x="1376.5" y="1343.4" width="26.0" height="9.0" fill="#fff" opacity="0.030"/>
<rect x="1376.5" y="1325.8" width="26.0" height="9.0" fill="#fff" opacity="0.025"/>
<rect x="1409.0" y="1411.7" width="9.0" height="26.0" fill="#fff" opacity="0.070"/>
<rect x="1426.6" y="1411.7" width="9.0" height="26.0" fill="#fff" opacity="0.048"/>
<rect x="1444.2" y="1411.7" width="9.0" height="26.0" fill="#fff" opacity="0.037"/>
<rect x="1461.8" y="1411.7" width="9.0" height="26.0" fill="#fff" opacity="0.030"/>
<rect x="1479.4" y="1411.7" width="9.0" height="26.0" fill="#fff" opacity="0.025"/>
<rect x="1497.0" y="1411.7" width="9.0" height="26.0" fill="#fff" opacity="0.022"/>
<rect x="1514.6" y="1411.7" width="9.0" height="26.0" fill="#fff" opacity="0.019"/>
<rect x="1532.2" y="1411.7" width="9.0" height="26.0" fill="#fff" opacity="0.017"/>
<rect x="1549.8" y="1411.7" width="9.0" height="26.0" fill="#fff" opacity="0.015"/>
<rect x="1567.4" y="1411.7" width="9.0" height="26.0" fill="#fff" opacity="0.014"/>
<rect x="1585.0" y="1411.7" width="9.0" height="26.0" fill="#fff" opacity="0.013"/>
<rect x="1602.6" y="1411.7" width="9.0" height="26.0" fill="#fff" opacity="0.012"/>
<rect x="1620.2" y="1411.7" width="9.0" height="26.0" fill="#fff" opacity="0.011"/>
<rect x="1637.8" y="1411.7" width="9.0" height="26.0" fill="#fff" opacity="0.010"/>
<rect x="1655.4" y="1411.7" width="9.0" height="26.0" fill="#fff" opacity="0.010"/>
<rect x="1673.0" y="1411.7" width="9.0" height="26.0" fill="#fff" opacity="0.009"/>
<rect x="1690.6" y="1411.7" width="9.0" height="26.0" fill="#fff" opacity="0.009"/>
<rect x="1708.2" y="1411.7" width="9.0" height="26.0" fill="#fff" opacity="0.008"/>
<rect x="1725.8" y="1411.7" width="9.0" height="26.0" fill="#fff" opacity="0.008"/>
<rect x="1743.4" y="1411.7" width="9.0" height="26.0" fill="#fff" opacity="0.007"/>
<rect x="1761.0" y="1411.7" width="9.0" height="26.0" fill="#fff" opacity="0.007"/>
<rect x="1778.6" y="1411.7" width="9.0" height="26.0" fill="#fff" opacity="0.007"/>
<rect x="1796.2" y="1411.7" width="9.0" height="26.0" fill="#fff" opacity="0.006"/>
<rect x="1813.8" y="1411.7" width="9.0" height="26.0" fill="#fff" opacity="0.006"/>
<rect x="1831.4" y="1411.7" width="9.0" height="26.0" fill="#fff" opacity="0.006"/>
<rect x="1849.0" y="1411.7" width="9.0" height="26.0" fill="#fff" opacity="0.006"/>
<rect x="1866.6" y="1411.7" width="9.0" height="26.0" fill="#fff" opacity="0.006"/>
<rect x="1884.2" y="1411.7" width="9.0" height="26.0" fill="#fff" opacity="0.005"/>
<rect x="1901.8" y="1411.7" width="9.0" height="26.0" fill="#fff" opacity="0.005"/>
<rect x="1919.4" y="1411.7" width="9.0" height="26.0" fill="#fff" opacity="0.005"/>
<rect x="1937.0" y="1411.7" width="9.0" height="26.0" fill="#fff" opacity="0.005"/>
<rect x="1954.6" y="1411.7" width="9.0" height="26.0" fill="#fff" opacity="0.005"/>
<rect x="1972.2" y="1411.7" width="9.0" height="26.0" fill="#fff" opacity="0.005"/>
<rect x="1989.8" y="1411.7" width="9.0" height="26.0" fill="#fff" opacity="0.004"/>
<rect x="2007.4" y="1411.7" width="9.0" height="26.0" fill="#fff" opacity="0.004"/>
<rect x="1376.5" y="1444.2" width="26.0" height="9.0" fill="#fff" opacity="0.070"/>
<rect x="1376.5" y="1461.8" width="26.0" height="9.0" fill="#fff" opacity="0.048"/>
<rect x="1376.5" y="1479.4" width="26.0" height="9.0" fill="#fff" opacity="0.037"/>
<rect x="1376.5" y="1497.0" width="26.0" height="9.0" fill="#fff" opacity="0.030"/>
<rect x="1376.5" y="1514.6" width="26.0" height="9.0" fill="#fff" opacity="0.025"/>
<rect x="1376.5" y="1532.2" width="26.0" height="9.0" fill="#fff" opacity="0.022"/>
<rect x="1376.5" y="1549.8" width="26.0" height="9.0" fill="#fff" opacity="0.019"/>
<rect x="1376.5" y="1567.4" width="26.0" height="9.0" fill="#fff" opacity="0.017"/>
<rect x="1376.5" y="1585.0" width="26.0" height="9.0" fill="#fff" opacity="0.015"/>
<rect x="1376.5" y="1602.6" width="26.0" height="9.0" fill="#fff" opacity="0.014"/>
<rect x="1376.5" y="1620.2" width="26.0" height="9.0" fill="#fff" opacity="0.013"/>
<rect x="1376.5" y="1637.8" width="26.0" height="9.0" fill="#fff" opacity="0.012"/>
<rect x="1376.5" y="1655.4" width="26.0" height="9.0" fill="#fff" opacity="0.011"/>
<rect x="1376.5" y="1673.0" width="26.0" height="9.0" fill="#fff" opacity="0.010"/>
<rect x="1376.5" y="1690.6" width="26.0" height="9.0" fill="#fff" opacity="0.010"/>
<rect x="1376.5" y="1708.2" width="26.0" height="9.0" fill="#fff" opacity="0.009"/>
<rect x="1376.5" y="1725.8" width="26.0" height="9.0" fill="#fff" opacity="0.009"/>
<rect x="1376.5" y="1743.4" width="26.0" height="9.0" fill="#fff" opacity="0.008"/>
<rect x="1376.5" y="1761.0" width="26.0" height="9.0" fill="#fff" opacity="0.008"/>
<rect x="1376.5" y="1778.6" width="26.0" height="9.0" fill="#fff" opacity="0.007"/>
<rect x="1376.5" y="1796.2" width="26.0" height="9.0" fill="#fff" opacity="0.007"/>
<rect x="1376.5" y="1813.8" width="26.0" height="9.0" fill="#fff" opacity="0.007"/>
<rect x="1376.5" y="1831.4" width="26.0" height="9.0" fill="#fff" opacity="0.006"/>
<rect x="1376.5" y="1849.0" width="26.0" height="9.0" fill="#fff" opacity="0.006"/>
<rect x="1376.5" y="1866.6" width="26.0" height="9.0" fill="#fff" opacity="0.006"/>
<rect x="1376.5" y="1884.2" width="26.0" height="9.0" fill="#fff" opacity="0.006"/>
<rect x="1376.5" y="1901.8" width="26.0" height="9.0" fill="#fff" opacity="0.006"/>
<rect x="1376.5" y="1919.4" width="26.0" height="9.0" fill="#fff" opacity="0.005"/>
<rect x="1376.5" y="1937.0" width="26.0" height="9.0" fill="#fff" opacity="0.005"/>
<rect x="1376.5" y="1954.6" width="26.0" height="9.0" fill="#fff" opacity="0.005"/>
<rect x="1376.5" y="1972.2" width="26.0" height="9.0" fill="#fff" opacity="0.005"/>
<rect x="1376.5" y="1989.8" width="26.0" height="9.0" fill="#fff" opacity="0.005"/>
<rect x="1376.5" y="2007.4" width="26.0" height="9.0" fill="#fff" opacity="0.005"/>
<rect x="1358.2" y="1890.3" width="9.0" height="26.0" fill="#fff" opacity="0.070"/>
<rect x="1340.6" y="1890.3" width="9.0" height="26.0" fill="#fff" opacity="0.048"/>
<rect x="1323.0" y="1890.3" width="9.0" height="26.0" fill="#fff" opacity="0.037"/>
<rect x="1373.7" y="1874.8" width="26.0" height="9.0" fill="#fff" opacity="0.070"/>
<rect x="1373.7" y="1857.2" width="26.0" height="9.0" fill="#fff" opacity="0.048"/>
<rect x="1373.7" y="1839.6" width="26.0" height="9.0" fill="#fff" opacity="0.037"/>
<rect x="1373.7" y="1822.0" width="26.0" height="9.0" fill="#fff" opacity="0.030"/>
<rect x="1373.7" y="1804.4" width="26.0" height="9.0" fill="#fff" opacity="0.025"/>
<rect x="1373.7" y="1786.8" width="26.0" height="9.0" fill="#fff" opacity="0.022"/>
<rect x="1373.7" y="1769.2" width="26.0" height="9.0" fill="#fff" opacity="0.019"/>
<rect x="1373.7" y="1751.6" width="26.0" height="9.0" fill="#fff" opacity="0.017"/>
<rect x="1373.7" y="1734.0" width="26.0" height="9.0" fill="#fff" opacity="0.015"/>
<rect x="1373.7" y="1716.4" width="26.0" height="9.0" fill="#fff" opacity="0.014"/>
<rect x="1373.7" y="1698.8" width="26.0" height="9.0" fill="#fff" opacity="0.013"/>
<rect x="1373.7" y="1681.2" width="26.0" height="9.0" fill="#fff" opacity="0.012"/>
<rect x="1373.7" y="1663.6" width="26.0" height="9.0" fill="#fff" opacity="0.011"/>
<rect x="1373.7" y="1646.0" width="26.0" height="9.0" fill="#fff" opacity="0.010"/>
<rect x="1373.7" y="1628.4" width="26.0" height="9.0" fill="#fff" opacity="0.010"/>
<rect x="1373.7" y="1610.8" width="26.0" height="9.0" fill="#fff" opacity="0.009"/>
<rect x="1373.7" y="1593.2" width="26.0" height="9.0" fill="#fff" opacity="0.009"/>
<rect x="1373.7" y="1575.6" width="26.0" height="9.0" fill="#fff" opacity="0.008"/>
<rect x="1373.7" y="1558.0" width="26.0" height="9.0" fill="#fff" opacity="0.008"/>
<rect x="1373.7" y="1540.4" width="26.0" height="9.0" fill="#fff" opacity="0.007"/>
<rect x="1373.7" y="1522.8" width="26.0" height="9.0" fill="#fff" opacity="0.007"/>
<rect x="1373.7" y="1505.2" width="26.0" height="9.0" fill="#fff" opacity="0.007"/>
<rect x="1373.7" y="1487.6" width="26.0" height="9.0" fill="#fff" opacity="0.006"/>
<rect x="1373.7" y="1470.0" width="26.0" height="9.0" fill="#fff" opacity="0.006"/>
<rect x="1373.7" y="1452.4" width="26.0" height="9.0" fill="#fff" opacity="0.006"/>
<rect x="1373.7" y="1434.8" width="26.0" height="9.0" fill="#fff" opacity="0.006"/>
<rect x="1373.7" y="1417.2" width="26.0" height="9.0" fill="#fff" opacity="0.006"/>
<rect x="1373.7" y="1399.6" width="26.0" height="9.0" fill="#fff" opacity="0.005"/>
<rect x="1373.7" y="1382.0" width="26.0" height="9.0" fill="#fff" opacity="0.005"/>
<rect x="1373.7" y="1364.4" width="26.0" height="9.0" fill="#fff" opacity="0.005"/>
<rect x="1373.7" y="1346.8" width="26.0" height="9.0" fill="#fff" opacity="0.005"/>
<rect x="1373.7" y="1329.2" width="26.0" height="9.0" fill="#fff" opacity="0.005"/>
<rect x="1406.2" y="1890.3" width="9.0" height="26.0" fill="#fff" opacity="0.070"/>
<rect x="1423.8" y="1890.3" width="9.0" height="26.0" fill="#fff" opacity="0.048"/>
<rect x="1441.4" y="1890.3" width="9.0" height="26.0" fill="#fff" opacity="0.037"/>
<rect x="1459.0" y="1890.3" width="9.0" height="26.0" fill="#fff" opacity="0.030"/>
<rect x="1476.6" y="1890.3" width="9.0" height="26.0" fill="#fff" opacity="0.025"/>
<rect x="1494.2" y="1890.3" width="9.0" height="26.0" fill="#fff" opacity="0.022"/>
<rect x="1511.8" y="1890.3" width="9.0" height="26.0" fill="#fff" opacity="0.019"/>
<rect x="1529.4" y="1890.3" width="9.0" height="26.0" fill="#fff" opacity="0.017"/>
<rect x="1547.0" y="1890.3" width="9.0" height="26.0" fill="#fff" opacity="0.015"/>
<rect x="1564.6" y="1890.3" width="9.0" height="26.0" fill="#fff" opacity="0.014"/>
<rect x="1582.2" y="1890.3" width="9.0" height="26.0" fill="#fff" opacity="0.013"/>
<rect x="1599.8" y="1890.3" width="9.0" height="26.0" fill="#fff" opacity="0.012"/>
<rect x="1617.4" y="1890.3" width="9.0" height="26.0" fill="#fff" opacity="0.011"/>
<rect x="1635.0" y="1890.3" width="9.0" height="26.0" fill="#fff" opacity="0.010"/>
<rect x="1652.6" y="1890.3" width="9.0" height="26.0" fill="#fff" opacity="0.010"/>
<rect x="1670.2" y="1890.3" width="9.0" height="26.0" fill="#fff" opacity="0.009"/>
<rect x="1687.8" y="1890.3" width="9.0" height="26.0" fill="#fff" opacity="0.009"/>
<rect x="1705.4" y="1890.3" width="9.0" height="26.0" fill="#fff" opacity="0.008"/>
<rect x="1723.0" y="1890.3" width="9.0" height="26.0" fill="#fff" opacity="0.008"/>
<rect x="1740.6" y="1890.3" width="9.0" height="26.0" fill="#fff" opacity="0.007"/>
<rect x="1758.2" y="1890.3" width="9.0" height="26.0" fill="#fff" opacity="0.007"/>
<rect x="1775.8" y="1890.3" width="9.0" height="26.0" fill="#fff" opacity="0.007"/>
<rect x="1793.4" y="1890.3" width="9.0" height="26.0" fill="#fff" opacity="0.006"/>
<rect x="1811.0" y="1890.3" width="9.0" height="26.0" fill="#fff" opacity="0.006"/>
<rect x="1828.6" y="1890.3" width="9.0" height="26.0" fill="#fff" opacity="0.006"/>
<rect x="1846.2" y="1890.3" width="9.0" height="26.0" fill="#fff" opacity="0.006"/>
<rect x="1863.8" y="1890.3" width="9.0" height="26.0" fill="#fff" opacity="0.006"/>
<rect x="1881.4" y="1890.3" width="9.0" height="26.0" fill="#fff" opacity="0.005"/>
<rect x="1899.0" y="1890.3" width="9.0" height="26.0" fill="#fff" opacity="0.005"/>
<rect x="1916.6" y="1890.3" width="9.0" height="26.0" fill="#fff" opacity="0.005"/>
<rect x="1934.2" y="1890.3" width="9.0" height="26.0" fill="#fff" opacity="0.005"/>
<rect x="1951.8" y="1890.3" width="9.0" height="26.0" fill="#fff" opacity="0.005"/>
<rect x="1969.4" y="1890.3" width="9.0" height="26.0" fill="#fff" opacity="0.005"/>
<rect x="1987.0" y="1890.3" width="9.0" height="26.0" fill="#fff" opacity="0.004"/>
<rect x="2004.6" y="1890.3" width="9.0" height="26.0" fill="#fff" opacity="0.004"/>
<rect x="1373.7" y="1922.8" width="26.0" height="9.0" fill="#fff" opacity="0.070"/>
<rect x="1373.7" y="1940.4" width="26.0" height="9.0" fill="#fff" opacity="0.048"/>
<rect x="1373.7" y="1958.0" width="26.0" height="9.0" fill="#fff" opacity="0.037"/>
<rect x="1373.7" y="1975.6" width="26.0" height="9.0" fill="#fff" opacity="0.030"/>
<rect x="1373.7" y="1993.2" width="26.0" height="9.0" fill="#fff" opacity="0.025"/>
<rect x="1405.2" y="1937.3" width="9.0" height="26.0" fill="#fff" opacity="0.070"/>
<rect x="1387.6" y="1937.3" width="9.0" height="26.0" fill="#fff" opacity="0.048"/>
<rect x="1370.0" y="1937.3" width="9.0" height="26.0" fill="#fff" opacity="0.037"/>
<rect x="1352.4" y="1937.3" width="9.0" height="26.0" fill="#fff" opacity="0.030"/>
<rect x="1334.8" y="1937.3" width="9.0" height="26.0" fill="#fff" opacity="0.025"/>
<rect x="1420.7" y="1921.8" width="26.0" height="9.0" fill="#fff" opacity="0.070"/>
<rect x="1420.7" y="1904.2" width="26.0" height="9.0" fill="#fff" opacity="0.048"/>
<rect x="1420.7" y="1886.6" width="26.0" height="9.0" fill="#fff" opacity="0.037"/>
<rect x="1420.7" y="1869.0" width="26.0" height="9.0" fill="#fff" opacity="0.030"/>
<rect x="1420.7" y="1851.4" width="26.0" height="9.0" fill="#fff" opacity="0.025"/>
<rect x="1420.7" y="1833.8" width="26.0" height="9.0" fill="#fff" opacity="0.022"/>
<rect x="1420.7" y="1816.2" width="26.0" height="9.0" fill="#fff" opacity="0.019"/>
<rect x="1420.7" y="1798.6" width="26.0" height="9.0" fill="#fff" opacity="0.017"/>
<rect x="1420.7" y="1781.0" width="26.0" height="9.0" fill="#fff" opacity="0.015"/>
<rect x="1420.7" y="1763.4" width="26.0" height="9.0" fill="#fff" opacity="0.014"/>
<rect x="1420.7" y="1745.8" width="26.0" height="9.0" fill="#fff" opacity="0.013"/>
<rect x="1420.7" y="1728.2" width="26.0" height="9.0" fill="#fff" opacity="0.012"/>
<rect x="1420.7" y="1710.6" width="26.0" height="9.0" fill="#fff" opacity="0.011"/>
<rect x="1420.7" y="1693.0" width="26.0" height="9.0" fill="#fff" opacity="0.010"/>
<rect x="1420.7" y="1675.4" width="26.0" height="9.0" fill="#fff" opacity="0.010"/>
<rect x="1420.7" y="1657.8" width="26.0" height="9.0" fill="#fff" opacity="0.009"/>
<rect x="1420.7" y="1640.2" width="26.0" height="9.0" fill="#fff" opacity="0.009"/>
<rect x="1420.7" y="1622.6" width="26.0" height="9.0" fill="#fff" opacity="0.008"/>
<rect x="1420.7" y="1605.0" width="26.0" height="9.0" fill="#fff" opacity="0.008"/>
<rect x="1420.7" y="1587.4" width="26.0" height="9.0" fill="#fff" opacity="0.007"/>
<rect x="1420.7" y="1569.8" width="26.0" height="9.0" fill="#fff" opacity="0.007"/>
<rect x="1420.7" y="1552.2" width="26.0" height="9.0" fill="#fff" opacity="0.007"/>
<rect x="1420.7" y="1534.6" width="26.0" height="9.0" fill="#fff" opacity="0.006"/>
<rect x="1420.7" y="1517.0" width="26.0" height="9.0" fill="#fff" opacity="0.006"/>
<rect x="1420.7" y="1499.4" width="26.0" height="9.0" fill="#fff" opacity="0.006"/>
<rect x="1420.7" y="1481.8" width="26.0" height="9.0" fill="#fff" opacity="0.006"/>
<rect x="1420.7" y="1464.2" width="26.0" height="9.0" fill="#fff" opacity="0.006"/>
<rect x="1420.7" y="1446.6" width="26.0" height="9.0" fill="#fff" opacity="0.005"/>
<rect x="1420.7" y="1429.0" width="26.0" height="9.0" fill="#fff" opacity="0.005"/>
<rect x="1420.7" y="1411.4" width="26.0" height="9.0" fill="#fff" opacity="0.005"/>
<rect x="1420.7" y="1393.8" width="26.0" height="9.0" fill="#fff" opacity="0.005"/>
<rect x="1420.7" y="1376.2" width="26.0" height="9.0" fill="#fff" opacity="0.005"/>
<rect x="1420.7" y="1358.6" width="26.0" height="9.0" fill="#fff" opacity="0.005"/>
<rect x="1420.7" y="1341.0" width="26.0" height="9.0" fill="#fff" opacity="0.004"/>
<rect x="1420.7" y="1323.4" width="26.0" height="9.0" fill="#fff" opacity="0.004"/>
<rect x="1453.2" y="1937.3" width="9.0" height="26.0" fill="#fff" opacity="0.070"/>
<rect x="1470.8" y="1937.3" width="9.0" height="26.0" fill="#fff" opacity="0.048"/>
<rect x="1488.4" y="1937.3" width="9.0" height="26.0" fill="#fff" opacity="0.037"/>
<rect x="1506.0" y="1937.3" width="9.0" height="26.0" fill="#fff" opacity="0.030"/>
<rect x="1523.6" y="1937.3" width="9.0" height="26.0" fill="#fff" opacity="0.025"/>
<rect x="1541.2" y="1937.3" width="9.0" height="26.0" fill="#fff" opacity="0.022"/>
<rect x="1558.8" y="1937.3" width="9.0" height="26.0" fill="#fff" opacity="0.019"/>
<rect x="1576.4" y="1937.3" width="9.0" height="26.0" fill="#fff" opacity="0.017"/>
<rect x="1594.0" y="1937.3" width="9.0" height="26.0" fill="#fff" opacity="0.015"/>
<rect x="1611.6" y="1937.3" width="9.0" height="26.0" fill="#fff" opacity="0.014"/>
<rect x="1629.2" y="1937.3" width="9.0" height="26.0" fill="#fff" opacity="0.013"/>
<rect x="1646.8" y="1937.3" width="9.0" height="26.0" fill="#fff" opacity="0.012"/>
<rect x="1664.4" y="1937.3" width="9.0" height="26.0" fill="#fff" opacity="0.011"/>
<rect x="1682.0" y="1937.3" width="9.0" height="26.0" fill="#fff" opacity="0.010"/>
<rect x="1699.6" y="1937.3" width="9.0" height="26.0" fill="#fff" opacity="0.010"/>
<rect x="1717.2" y="1937.3" width="9.0" height="26.0" fill="#fff" opacity="0.009"/>
<rect x="1734.8" y="1937.3" width="9.0" height="26.0" fill="#fff" opacity="0.009"/>
<rect x="1752.4" y="1937.3" width="9.0" height="26.0" fill="#fff" opacity="0.008"/>
<rect x="1770.0" y="1937.3" width="9.0" height="26.0" fill="#fff" opacity="0.008"/>
<rect x="1787.6" y="1937.3" width="9.0" height="26.0" fill="#fff" opacity="0.007"/>
<rect x="1805.2" y="1937.3" width="9.0" height="26.0" fill="#fff" opacity="0.007"/>
<rect x="1822.8" y="1937.3" width="9.0" height="26.0" fill="#fff" opacity="0.007"/>
<rect x="1840.4" y="1937.3" width="9.0" height="26.0" fill="#fff" opacity="0.006"/>
<rect x="1858.0" y="1937.3" width="9.0" height="26.0" fill="#fff" opacity="0.006"/>
<rect x="1875.6" y="1937.3" width="9.0" height="26.0" fill="#fff" opacity="0.006"/>
<rect x="1893.2" y="1937.3" width="9.0" height="26.0" fill="#fff" opacity="0.006"/>
<rect x="1910.8" y="1937.3" width="9.0" height="26.0" fill="#fff" opacity="0.006"/>
<rect x="1928.4" y="1937.3" width="9.0" height="26.0" fill="#fff" opacity="0.005"/>
<rect x="1946.0" y="1937.3" width="9.0" height="26.0" fill="#fff" opacity="0.005"/>
<rect x="1963.6" y="1937.3" width="9.0" height="26.0" fill="#fff" opacity="0.005"/>
<rect x="1981.2" y="1937.3" width="9.0" height="26.0" fill="#fff" opacity="0.005"/>
<rect x="1998.8" y="1937.3" width="9.0" height="26.0" fill="#fff" opacity="0.005"/>
<rect x="1420.7" y="1969.8" width="26.0" height="9.0" fill="#fff" opacity="0.070"/>
<rect x="1420.7" y="1987.4" width="26.0" height="9.0" fill="#fff" opacity="0.048"/>
<rect x="1420.7" y="2005.0" width="26.0" height="9.0" fill="#fff" opacity="0.037"/>
<rect x="1925.2" y="1892.7" width="9.0" height="26.0" fill="#fff" opacity="0.070"/>
<rect x="1907.6" y="1892.7" width="9.0" height="26.0" fill="#fff" opacity="0.048"/>
<rect x="1890.0" y="1892.7" width="9.0" height="26.0" fill="#fff" opacity="0.037"/>
<rect x="1872.4" y="1892.7" width="9.0" height="26.0" fill="#fff" opacity="0.030"/>
<rect x="1854.8" y="1892.7" width="9.0" height="26.0" fill="#fff" opacity="0.025"/>
<rect x="1837.2" y="1892.7" width="9.0" height="26.0" fill="#fff" opacity="0.022"/>
<rect x="1819.6" y="1892.7" width="9.0" height="26.0" fill="#fff" opacity="0.019"/>
<rect x="1802.0" y="1892.7" width="9.0" height="26.0" fill="#fff" opacity="0.017"/>
<rect x="1784.4" y="1892.7" width="9.0" height="26.0" fill="#fff" opacity="0.015"/>
<rect x="1766.8" y="1892.7" width="9.0" height="26.0" fill="#fff" opacity="0.014"/>
<rect x="1749.2" y="1892.7" width="9.0" height="26.0" fill="#fff" opacity="0.013"/>
<rect x="1731.6" y="1892.7" width="9.0" height="26.0" fill="#fff" opacity="0.012"/>
<rect x="1714.0" y="1892.7" width="9.0" height="26.0" fill="#fff" opacity="0.011"/>
<rect x="1696.4" y="1892.7" width="9.0" height="26.0" fill="#fff" opacity="0.010"/>
<rect x="1678.8" y="1892.7" width="9.0" height="26.0" fill="#fff" opacity="0.010"/>
<rect x="1661.2" y="1892.7" width="9.0" height="26.0" fill="#fff" opacity="0.009"/>
<rect x="1643.6" y="1892.7" width="9.0" height="26.0" fill="#fff" opacity="0.009"/>
<rect x="1626.0" y="1892.7" width="9.0" height="26.0" fill="#fff" opacity="0.008"/>
<rect x="1608.4" y="1892.7" width="9.0" height="26.0" fill="#fff" opacity="0.008"/>
<rect x="1590.8" y="1892.7" width="9.0" height="26.0" fill="#fff" opacity="0.007"/>
<rect x="1573.2" y="1892.7" width="9.0" height="26.0" fill="#fff" opacity="0.007"/>
<rect x="1555.6" y="1892.7" width="9.0" height="26.0" fill="#fff" opacity="0.007"/>
<rect x="1538.0" y="1892.7" width="9.0" height="26.0" fill="#fff" opacity="0.006"/>
<rect x="1520.4" y="1892.7" width="9.0" height="26.0" fill="#fff" opacity="0.006"/>
<rect x="1502.8" y="1892.7" width="9.0" height="26.0" fill="#fff" opacity="0.006"/>
<rect x="1485.2" y="1892.7" width="9.0" height="26.0" fill="#fff" opacity="0.006"/>
<rect x="1467.6" y="1892.7" width="9.0" height="26.0" fill="#fff" opacity="0.006"/>
<rect x="1450.0" y="1892.7" width="9.0" height="26.0" fill="#fff" opacity="0.005"/>
<rect x="1432.4" y="1892.7" width="9.0" height="26.0" fill="#fff" opacity="0.005"/>
<rect x="1414.8" y="1892.7" width="9.0" height="26.0" fill="#fff" opacity="0.005"/>
<rect x="1397.2" y="1892.7" width="9.0" height="26.0" fill="#fff" opacity="0.005"/>
<rect x="1379.6" y="1892.7" width="9.0" height="26.0" fill="#fff" opacity="0.005"/>
<rect x="1362.0" y="1892.7" width="9.0" height="26.0" fill="#fff" opacity="0.005"/>
<rect x="1344.4" y="1892.7" width="9.0" height="26.0" fill="#fff" opacity="0.004"/>
<rect x="1326.8" y="1892.7" width="9.0" height="26.0" fill="#fff" opacity="0.004"/>
<rect x="1940.7" y="1877.2" width="26.0" height="9.0" fill="#fff" opacity="0.070"/>
<rect x="1940.7" y="1859.6" width="26.0" height="9.0" fill="#fff" opacity="0.048"/>
<rect x="1940.7" y="1842.0" width="26.0" height="9.0" fill="#fff" opacity="0.037"/>
<rect x="1940.7" y="1824.4" width="26.0" height="9.0" fill="#fff" opacity="0.030"/>
<rect x="1940.7" y="1806.8" width="26.0" height="9.0" fill="#fff" opacity="0.025"/>
<rect x="1940.7" y="1789.2" width="26.0" height="9.0" fill="#fff" opacity="0.022"/>
<rect x="1940.7" y="1771.6" width="26.0" height="9.0" fill="#fff" opacity="0.019"/>
<rect x="1940.7" y="1754.0" width="26.0" height="9.0" fill="#fff" opacity="0.017"/>
<rect x="1940.7" y="1736.4" width="26.0" height="9.0" fill="#fff" opacity="0.015"/>
<rect x="1940.7" y="1718.8" width="26.0" height="9.0" fill="#fff" opacity="0.014"/>
<rect x="1940.7" y="1701.2" width="26.0" height="9.0" fill="#fff" opacity="0.013"/>
<rect x="1940.7" y="1683.6" width="26.0" height="9.0" fill="#fff" opacity="0.012"/>
<rect x="1940.7" y="1666.0" width="26.0" height="9.0" fill="#fff" opacity="0.011"/>
<rect x="1940.7" y="1648.4" width="26.0" height="9.0" fill="#fff" opacity="0.010"/>
<rect x="1940.7" y="1630.8" width="26.0" height="9.0" fill="#fff" opacity="0.010"/>
<rect x="1940.7" y="1613.2" width="26.0" height="9.0" fill="#fff" opacity="0.009"/>
<rect x="1940.7" y="1595.6" width="26.0" height="9.0" fill="#fff" opacity="0.009"/>
<rect x="1940.7" y="1578.0" width="26.0" height="9.0" fill="#fff" opacity="0.008"/>
<rect x="1940.7" y="1560.4" width="26.0" height="9.0" fill="#fff" opacity="0.008"/>
<rect x="1940.7" y="1542.8" width="26.0" height="9.0" fill="#fff" opacity="0.007"/>
<rect x="1940.7" y="1525.2" width="26.0" height="9.0" fill="#fff" opacity="0.007"/>
<rect x="1940.7" y="1507.6" width="26.0" height="9.0" fill="#fff" opacity="0.007"/>
<rect x="1940.7" y="1490.0" width="26.0" height="9.0" fill="#fff" opacity="0.006"/>
<rect x="1940.7" y="1472.4" width="26.0" height="9.0" fill="#fff" opacity="0.006"/>
<rect x="1940.7" y="1454.8" width="26.0" height="9.0" fill="#fff" opacity="0.006"/>
<rect x="1940.7" y="1437.2" width="26.0" height="9.0" fill="#fff" opacity="0.006"/>
<rect x="1940.7" y="1419.6" width="26.0" height="9.0" fill="#fff" opacity="0.006"/>
<rect x="1940.7" y="1402.0" width="26.0" height="9.0" fill="#fff" opacity="0.005"/>
<rect x="1940.7" y="1384.4" width="26.0" height="9.0" fill="#fff" opacity="0.005"/>
<rect x="1940.7" y="1366.8" width="26.0" height="9.0" fill="#fff" opacity="0.005"/>
<rect x="1940.7" y="1349.2" width="26.0" height="9.0" fill="#fff" opacity="0.005"/>
<rect x="1940.7" y="1331.6" width="26.0" height="9.0" fill="#fff" opacity="0.005"/>
<rect x="1973.2" y="1892.7" width="9.0" height="26.0" fill="#fff" opacity="0.070"/>
<rect x="1990.8" y="1892.7" width="9.0" height="26.0" fill="#fff" opacity="0.048"/>
<rect x="2008.4" y="1892.7" width="9.0" height="26.0" fill="#fff" opacity="0.037"/>
<rect x="1940.7" y="1925.2" width="26.0" height="9.0" fill="#fff" opacity="0.070"/>
<rect x="1940.7" y="1942.8" width="26.0" height="9.0" fill="#fff" opacity="0.048"/>
<rect x="1940.7" y="1960.4" width="26.0" height="9.0" fill="#fff" opacity="0.037"/>
<rect x="1940.7" y="1978.0" width="26.0" height="9.0" fill="#fff" opacity="0.030"/>
<rect x="1940.7" y="1995.6" width="26.0" height="9.0" fill="#fff" opacity="0.025"/>
<rect x="1882.4" y="1933.9" width="9.0" height="26.0" fill="#fff" opacity="0.070"/>
<rect x="1864.8" y="1933.9" width="9.0" height="26.0" fill="#fff" opacity="0.048"/>
<rect x="1847.2" y="1933.9" width="9.0" height="26.0" fill="#fff" opacity="0.037"/>
<rect x="1829.6" y="1933.9" width="9.0" height="26.0" fill="#fff" opacity="0.030"/>
<rect x="1812.0" y="1933.9" width="9.0" height="26.0" fill="#fff" opacity="0.025"/>
<rect x="1794.4" y="1933.9" width="9.0" height="26.0" fill="#fff" opacity="0.022"/>
<rect x="1776.8" y="1933.9" width="9.0" height="26.0" fill="#fff" opacity="0.019"/>
<rect x="1759.2" y="1933.9" width="9.0" height="26.0" fill="#fff" opacity="0.017"/>
<rect x="1741.6" y="1933.9" width="9.0" height="26.0" fill="#fff" opacity="0.015"/>
<rect x="1724.0" y="1933.9" width="9.0" height="26.0" fill="#fff" opacity="0.014"/>
<rect x="1706.4" y="1933.9" width="9.0" height="26.0" fill="#fff" opacity="0.013"/>
<rect x="1688.8" y="1933.9" width="9.0" height="26.0" fill="#fff" opacity="0.012"/>
<rect x="1671.2" y="1933.9" width="9.0" height="26.0" fill="#fff" opacity="0.011"/>
<rect x="1653.6" y="1933.9" width="9.0" height="26.0" fill="#fff" opacity="0.010"/>
<rect x="1636.0" y="1933.9" width="9.0" height="26.0" fill="#fff" opacity="0.010"/>
<rect x="1618.4" y="1933.9" width="9.0" height="26.0" fill="#fff" opacity="0.009"/>
<rect x="1600.8" y="1933.9" width="9.0" height="26.0" fill="#fff" opacity="0.009"/>
<rect x="1583.2" y="1933.9" width="9.0" height="26.0" fill="#fff" opacity="0.008"/>
<rect x="1565.6" y="1933.9" width="9.0" height="26.0" fill="#fff" opacity="0.008"/>
<rect x="1548.0" y="1933.9" width="9.0" height="26.0" fill="#fff" opacity="0.007"/>
<rect x="1530.4" y="1933.9" width="9.0" height="26.0" fill="#fff" opacity="0.007"/>
<rect x="1512.8" y="1933.9" width="9.0" height="26.0" fill="#fff" opacity="0.007"/>
<rect x="1495.2" y="1933.9" width="9.0" height="26.0" fill="#fff" opacity="0.006"/>
<rect x="1477.6" y="1933.9" width="9.0" height="26.0" fill="#fff" opacity="0.006"/>
<rect x="1460.0" y="1933.9" width="9.0" height="26.0" fill="#fff" opacity="0.006"/>
<rect x="1442.4" y="1933.9" width="9.0" height="26.0" fill="#fff" opacity="0.006"/>
<rect x="1424.8" y="1933.9" width="9.0" height="26.0" fill="#fff" opacity="0.006"/>
<rect x="1407.2" y="1933.9" width="9.0" height="26.0" fill="#fff" opacity="0.005"/>
<rect x="1389.6" y="1933.9" width="9.0" height="26.0" fill="#fff" opacity="0.005"/>
<rect x="1372.0" y="1933.9" width="9.0" height="26.0" fill="#fff" opacity="0.005"/>
<rect x="1354.4" y="1933.9" width="9.0" height="26.0" fill="#fff" opacity="0.005"/>
<rect x="1336.8" y="1933.9" width="9.0" height="26.0" fill="#fff" opacity="0.005"/>
<rect x="1897.9" y="1918.4" width="26.0" height="9.0" fill="#fff" opacity="0.070"/>
<rect x="1897.9" y="1900.8" width="26.0" height="9.0" fill="#fff" opacity="0.048"/>
<rect x="1897.9" y="1883.2" width="26.0" height="9.0" fill="#fff" opacity="0.037"/>
<rect x="1897.9" y="1865.6" width="26.0" height="9.0" fill="#fff" opacity="0.030"/>
<rect x="1897.9" y="1848.0" width="26.0" height="9.0" fill="#fff" opacity="0.025"/>
<rect x="1897.9" y="1830.4" width="26.0" height="9.0" fill="#fff" opacity="0.022"/>
<rect x="1897.9" y="1812.8" width="26.0" height="9.0" fill="#fff" opacity="0.019"/>
<rect x="1897.9" y="1795.2" width="26.0" height="9.0" fill="#fff" opacity="0.017"/>
<rect x="1897.9" y="1777.6" width="26.0" height="9.0" fill="#fff" opacity="0.015"/>
<rect x="1897.9" y="1760.0" width="26.0" height="9.0" fill="#fff" opacity="0.014"/>
<rect x="1897.9" y="1742.4" width="26.0" height="9.0" fill="#fff" opacity="0.013"/>
<rect x="1897.9" y="1724.8" width="26.0" height="9.0" fill="#fff" opacity="0.012"/>
<rect x="1897.9" y="1707.2" width="26.0" height="9.0" fill="#fff" opacity="0.011"/>
<rect x="1897.9" y="1689.6" width="26.0" height="9.0" fill="#fff" opacity="0.010"/>
<rect x="1897.9" y="1672.0" width="26.0" height="9.0" fill="#fff" opacity="0.010"/>
<rect x="1897.9" y="1654.4" width="26.0" height="9.0" fill="#fff" opacity="0.009"/>
<rect x="1897.9" y="1636.8" width="26.0" height="9.0" fill="#fff" opacity="0.009"/>
<rect x="1897.9" y="1619.2" width="26.0" height="9.0" fill="#fff" opacity="0.008"/>
<rect x="1897.9" y="1601.6" width="26.0" height="9.0" fill="#fff" opacity="0.008"/>
<rect x="1897.9" y="1584.0" width="26.0" height="9.0" fill="#fff" opacity="0.007"/>
<rect x="1897.9" y="1566.4" width="26.0" height="9.0" fill="#fff" opacity="0.007"/>
<rect x="1897.9" y="1548.8" width="26.0" height="9.0" fill="#fff" opacity="0.007"/>
<rect x="1897.9" y="1531.2" width="26.0" height="9.0" fill="#fff" opacity="0.006"/>
<rect x="1897.9" y="1513.6" width="26.0" height="9.0" fill="#fff" opacity="0.006"/>
<rect x="1897.9" y="1496.0" width="26.0" height="9.0" fill="#fff" opacity="0.006"/>
<rect x="1897.9" y="1478.4" width="26.0" height="9.0" fill="#fff" opacity="0.006"/>
<rect x="1897.9" y="1460.8" width="26.0" height="9.0" fill="#fff" opacity="0.006"/>
<rect x="1897.9" y="1443.2" width="26.0" height="9.0" fill="#fff" opacity="0.005"/>
<rect x="1897.9" y="1425.6" width="26.0" height="9.0" fill="#fff" opacity="0.005"/>
<rect x="1897.9" y="1408.0" width="26.0" height="9.0" fill="#fff" opacity="0.005"/>
<rect x="1897.9" y="1390.4" width="26.0" height="9.0" fill="#fff" opacity="0.005"/>
<rect x="1897.9" y="1372.8" width="26.0" height="9.0" fill="#fff" opacity="0.005"/>
<rect x="1897.9" y="1355.2" width="26.0" height="9.0" fill="#fff" opacity="0.005"/>
<rect x="1897.9" y="1337.6" width="26.0" height="9.0" fill="#fff" opacity="0.004"/>
<rect x="1897.9" y="1320.0" width="26.0" height="9.0" fill="#fff" opacity="0.004"/>
<rect x="1930.4" y="1933.9" width="9.0" height="26.0" fill="#fff" opacity="0.070"/>
<rect x="1948.0" y="1933.9" width="9.0" height="26.0" fill="#fff" opacity="0.048"/>
<rect x="1965.6" y="1933.9" width="9.0" height="26.0" fill="#fff" opacity="0.037"/>
<rect x="1983.2" y="1933.9" width="9.0" height="26.0" fill="#fff" opacity="0.030"/>
<rect x="2000.8" y="1933.9" width="9.0" height="26.0" fill="#fff" opacity="0.025"/>
<rect x="1897.9" y="1966.4" width="26.0" height="9.0" fill="#fff" opacity="0.070"/>
<rect x="1897.9" y="1984.0" width="26.0" height="9.0" fill="#fff" opacity="0.048"/>
<rect x="1897.9" y="2001.6" width="26.0" height="9.0" fill="#fff" opacity="0.037"/>
<ellipse cx="0" cy="0" rx="24.0" ry="24.0" fill="url(#pk9)" transform="translate(1907.8,1382.4) rotate(0)"/>
<ellipse cx="0" cy="0" rx="24.0" ry="24.0" fill="url(#pk9)" transform="translate(1955.2,1428.5) rotate(0)"/>
<ellipse cx="0" cy="0" rx="24.0" ry="24.0" fill="url(#pk9)" transform="translate(1431.0,1384.0) rotate(0)"/>
<ellipse cx="0" cy="0" rx="24.0" ry="24.0" fill="url(#pk9)" transform="translate(1389.5,1424.7) rotate(0)"/>
<ellipse cx="0" cy="0" rx="24.0" ry="24.0" fill="url(#pk9)" transform="translate(1386.7,1903.3) rotate(0)"/>
<ellipse cx="0" cy="0" rx="24.0" ry="24.0" fill="url(#pk9)" transform="translate(1433.7,1950.3) rotate(0)"/>
<ellipse cx="0" cy="0" rx="24.0" ry="24.0" fill="url(#pk9)" transform="translate(1953.7,1905.7) rotate(0)"/>
<ellipse cx="0" cy="0" rx="24.0" ry="24.0" fill="url(#pk9)" transform="translate(1910.9,1946.9) rotate(0)"/>
<ellipse cx="0" cy="0" rx="34.0" ry="19.0" fill="url(#pk6)" transform="translate(1934.0,1403.2) rotate(45)"/>
<ellipse cx="0" cy="0" rx="34.0" ry="19.0" fill="url(#pk6)" transform="translate(1406.3,1927.3) rotate(45)"/>
<ellipse cx="0" cy="0" rx="15.0" ry="7.0" fill="url(#pk2)" transform="translate(1403.5,1383.5) rotate(45)"/>
<ellipse cx="0" cy="0" rx="15.0" ry="7.0" fill="url(#pk2)" transform="translate(1391.8,1396.8) rotate(45)"/>
<ellipse cx="0" cy="0" rx="15.0" ry="7.0" fill="url(#pk2)" transform="translate(1430.0,1411.0) rotate(45)"/>
<ellipse cx="0" cy="0" rx="15.0" ry="7.0" fill="url(#pk2)" transform="translate(1416.8,1425.1) rotate(45)"/>
<ellipse cx="0" cy="0" rx="15.0" ry="7.0" fill="url(#pk2)" transform="translate(1925.5,1905.5) rotate(45)"/>
<ellipse cx="0" cy="0" rx="15.0" ry="7.0" fill="url(#pk2)" transform="translate(1913.8,1918.8) rotate(45)"/>
<ellipse cx="0" cy="0" rx="15.0" ry="7.0" fill="url(#pk2)" transform="translate(1952.1,1933.0) rotate(45)"/>
<ellipse cx="0" cy="0" rx="15.0" ry="7.0" fill="url(#pk2)" transform="translate(1938.8,1947.1) rotate(45)"/>
</g></g>
<rect x="2043.8" y="1317.7" width="53" height="696.4" fill="url(#jetbar)"/>
<path d="M984.3 384.7h-6" stroke="#222" stroke-opacity=".75" stroke-width="1.4"/>
<path d="M984.3 549.0h-6" stroke="#222" stroke-opacity=".75" stroke-width="1.4"/>
<path d="M984.3 712.7h-6" stroke="#222" stroke-opacity=".75" stroke-width="1.4"/>
<path d="M997.3 1477.3h-6" stroke="#222" stroke-opacity=".75" stroke-width="1.4"/>
<path d="M997.3 1645.2h-6" stroke="#222" stroke-opacity=".75" stroke-width="1.4"/>
<path d="M997.3 1813.0h-6" stroke="#222" stroke-opacity=".75" stroke-width="1.4"/>
<path d="M2124.4 323.0h-5" stroke="#222" stroke-opacity=".75" stroke-width="1.4"/>
<path d="M2124.4 419.0h-5" stroke="#222" stroke-opacity=".75" stroke-width="1.4"/>
<path d="M2124.4 515.0h-5" stroke="#222" stroke-opacity=".75" stroke-width="1.4"/>
<path d="M2124.4 611.0h-5" stroke="#222" stroke-opacity=".75" stroke-width="1.4"/>
<path d="M2124.4 707.5h-5" stroke="#222" stroke-opacity=".75" stroke-width="1.4"/>
<path d="M2124.4 804.0h-5" stroke="#222" stroke-opacity=".75" stroke-width="1.4"/>
<path d="M2096.8 1439.6h-5" stroke="#222" stroke-opacity=".75" stroke-width="1.4"/>
<path d="M2096.8 1632.7h-5" stroke="#222" stroke-opacity=".75" stroke-width="1.4"/>
<path d="M2096.8 1826.0h-5" stroke="#222" stroke-opacity=".75" stroke-width="1.4"/>
<line x1="1376.6" y1="570.3" x2="2124.4" y2="570.3" stroke="#f4121a" stroke-width="7.6" stroke-dasharray="38.0 29.5 8.0 28.5" stroke-dashoffset="0.0"/>
<line x1="1724.7" y1="153.5" x2="1724.7" y2="903.4" stroke="#f4121a" stroke-width="7.6" stroke-dasharray="38.0 29.5 8.0 28.5" stroke-dashoffset="14.3"/>
<line x1="1737.5" y1="572.0" x2="1964.0" y2="285.5" stroke="#f4121a" stroke-width="6.0"/>
<rect x="1956.5" y="279.0" width="15.0" height="13.0" fill="#f4121a"/>
<line x1="1737.5" y1="572.0" x2="1995.0" y2="294.5" stroke="#f4121a" stroke-width="6.0"/>
<rect x="1987.5" y="288.0" width="15.0" height="13.0" fill="#f4121a"/>
<line x1="1737.5" y1="572.0" x2="2001.0" y2="866.0" stroke="#f4121a" stroke-width="6.0"/>
<rect x="1993.5" y="859.5" width="15.0" height="13.0" fill="#f4121a"/>
<line x1="1309.4" y1="1666.0" x2="2055.2" y2="1666.0" stroke="#f4121a" stroke-width="11.0" stroke-dasharray="38.5 27.5 10.0 28.3" stroke-dashoffset="0.0"/>
<line x1="1667.0" y1="1252.3" x2="1667.0" y2="2017.0" stroke="#f4121a" stroke-width="10.8" stroke-dasharray="38.5 28.0 9.0 28.8" stroke-dashoffset="0.0"/>
<line x1="1670.5" y1="1667.0" x2="1887.4" y2="1400.2" stroke="#f4121a" stroke-width="6.2"/>
<rect x="1879.9" y="1393.7" width="15.0" height="13.0" fill="#f4121a"/>
<line x1="1670.5" y1="1667.0" x2="1922.3" y2="1413.1" stroke="#f4121a" stroke-width="6.2"/>
<rect x="1914.8" y="1406.6" width="15.0" height="13.0" fill="#f4121a"/>
<line x1="1670.5" y1="1667.0" x2="1890.3" y2="1931.4" stroke="#f4121a" stroke-width="6.2"/>
<rect x="1882.8" y="1924.9" width="15.0" height="13.0" fill="#f4121a"/>
<g font-family="'Liberation Serif', serif">
<text x="53.30" y="123.20" font-size="93.00" text-anchor="start" fill="#000">(a)</text>
<text x="1227.80" y="123.20" font-size="93.00" text-anchor="start" fill="#000">(b)</text>
<text x="53.00" y="1256.20" font-size="93.00" text-anchor="start" fill="#000">(c)</text>
<text x="1227.80" y="1247.00" font-size="93.00" text-anchor="start" fill="#000">(d)</text>
<text x="226.50" y="284.25" font-size="87.00" text-anchor="end" fill="#1a1a1a">5</text>
<text x="226.50" y="579.25" font-size="87.00" text-anchor="end" fill="#1a1a1a">0</text>
<text x="226.50" y="874.25" font-size="87.00" text-anchor="end" fill="#1a1a1a">-5</text>
<text x="281.70" y="975.50" font-size="87.00" text-anchor="middle" fill="#1a1a1a">-5</text>
<text x="576.70" y="975.50" font-size="87.00" text-anchor="middle" fill="#1a1a1a">0</text>
<text x="871.70" y="975.50" font-size="87.00" text-anchor="middle" fill="#1a1a1a">5</text>
<text x="574.60" y="1079.00" font-size="93.00" text-anchor="middle" fill="#1a1a1a"><tspan font-style="italic">x</tspan> (<tspan font-style="italic">µ</tspan>m)</text>
<text transform="translate(131.70,547.00) rotate(-90)" font-size="93.00" text-anchor="middle" fill="#1a1a1a"><tspan font-style="italic">y</tspan> (<tspan font-style="italic">µ</tspan>m)</text>
<text x="1001.50" y="412.50" font-size="77.00" text-anchor="start" fill="#1a1a1a">0.5</text>
<text x="1001.50" y="576.50" font-size="77.00" text-anchor="start" fill="#1a1a1a">0</text>
<text x="1001.50" y="740.00" font-size="77.00" text-anchor="start" fill="#1a1a1a">-0.5</text>
<text x="224.00" y="1365.50" font-size="90.00" text-anchor="end" fill="#1a1a1a">5</text>
<text x="224.00" y="1675.60" font-size="90.00" text-anchor="end" fill="#1a1a1a">0</text>
<text x="224.00" y="1986.00" font-size="90.00" text-anchor="end" fill="#1a1a1a">-5</text>
<text x="264.70" y="2082.00" font-size="90.00" text-anchor="middle" fill="#1a1a1a">-5</text>
<text x="579.00" y="2082.00" font-size="90.00" text-anchor="middle" fill="#1a1a1a">0</text>
<text x="893.30" y="2082.00" font-size="90.00" text-anchor="middle" fill="#1a1a1a">5</text>
<text x="577.90" y="2188.50" font-size="96.00" text-anchor="middle" fill="#1a1a1a"><tspan font-style="italic">x</tspan> (<tspan font-style="italic">µ</tspan>m)</text>
<text transform="translate(122.60,1643.40) rotate(-90)" font-size="96.00" text-anchor="middle" fill="#1a1a1a"><tspan font-style="italic">y</tspan> (<tspan font-style="italic">µ</tspan>m)</text>
<text x="1016.50" y="1505.50" font-size="77.00" text-anchor="start" fill="#1a1a1a">0.5</text>
<text x="1016.50" y="1673.20" font-size="77.00" text-anchor="start" fill="#1a1a1a">0</text>
<text x="1016.50" y="1842.90" font-size="77.00" text-anchor="start" fill="#1a1a1a">-0.5</text>
<text x="1375.50" y="288.00" font-size="62.00" text-anchor="end" fill="#1a1a1a">30</text>
<text x="1375.50" y="585.00" font-size="62.00" text-anchor="end" fill="#1a1a1a">0</text>
<text x="1375.50" y="883.00" font-size="62.00" text-anchor="end" fill="#1a1a1a">-30</text>
<text x="1424.00" y="965.00" font-size="62.00" text-anchor="middle" fill="#1a1a1a">-30</text>
<text x="1721.00" y="965.00" font-size="62.00" text-anchor="middle" fill="#1a1a1a">0</text>
<text x="2017.00" y="965.00" font-size="62.00" text-anchor="middle" fill="#1a1a1a">30</text>
<text x="1726.00" y="1062.00" font-size="66.00" text-anchor="middle" fill="#1a1a1a"><tspan font-style="italic">p</tspan></text>
<text transform="translate(1253.00,562.00) rotate(-90)" font-size="66.00" text-anchor="middle" fill="#1a1a1a"><tspan font-style="italic">q</tspan></text>
<text x="2141.00" y="340.60" font-size="54.00" text-anchor="start" fill="#1a1a1a">3000</text>
<text x="2141.00" y="433.00" font-size="54.00" text-anchor="start" fill="#1a1a1a">2500</text>
<text x="2141.00" y="529.00" font-size="54.00" text-anchor="start" fill="#1a1a1a">2000</text>
<text x="2141.00" y="625.00" font-size="54.00" text-anchor="start" fill="#1a1a1a">1500</text>
<text x="2141.00" y="723.70" font-size="54.00" text-anchor="start" fill="#1a1a1a">1000</text>
<text x="2141.00" y="822.00" font-size="54.00" text-anchor="start" fill="#1a1a1a">500</text>
<g clip-path="url(#btxt)">
<text x="1768.50" y="295.00" font-size="66.00" text-anchor="start" fill="#e9e9ff">(27,31)</text>
<text x="1864.50" y="469.00" font-size="66.00" text-anchor="start" fill="#e9e9ff">(29,29)</text>
<text x="1772.00" y="870.00" font-size="66.00" text-anchor="start" fill="#e9e9ff">(28,-30)</text>
</g>
<text x="1301.00" y="1435.00" font-size="77.00" text-anchor="end" fill="#1a1a1a">30</text>
<text x="1301.00" y="1698.00" font-size="77.00" text-anchor="end" fill="#1a1a1a">0</text>
<text x="1301.00" y="1957.00" font-size="77.00" text-anchor="end" fill="#1a1a1a">-30</text>
<text x="1409.70" y="2107.00" font-size="77.00" text-anchor="middle" fill="#1a1a1a">-30</text>
<text x="1670.00" y="2107.00" font-size="77.00" text-anchor="middle" fill="#1a1a1a">0</text>
<text x="1931.40" y="2107.00" font-size="77.00" text-anchor="middle" fill="#1a1a1a">30</text>
<text x="1669.00" y="2160.00" font-size="80.00" text-anchor="middle" fill="#1a1a1a"><tspan font-style="italic">p</tspan></text>
<text transform="translate(1238.00,1668.00) rotate(-90)" font-size="80.00" text-anchor="middle" fill="#1a1a1a"><tspan font-style="italic">q</tspan></text>
<text x="2116.00" y="1462.10" font-size="68.00" text-anchor="start" fill="#1a1a1a">1500</text>
<text x="2116.00" y="1655.20" font-size="68.00" text-anchor="start" fill="#1a1a1a">1000</text>
<text x="2116.00" y="1848.50" font-size="68.00" text-anchor="start" fill="#1a1a1a">500</text>
<text x="1697.00" y="1393.50" font-size="66.50" text-anchor="start" fill="#e9e9ff">(27,33)</text>
<text x="1824.50" y="1538.70" font-size="66.50" text-anchor="start" fill="#e9e9ff">(30,30)</text>
<text x="1687.00" y="1989.70" font-size="66.50" text-anchor="start" fill="#e9e9ff">(28,-32)</text>
</g>
<g fill="#000">
<rect x="26.3" y="31.7" width="9.6" height="2250"/>
<rect x="2288.4" y="31.7" width="9.8" height="2250"/>
<rect x="26.3" y="31.7" width="2271.9" height="8.2"/>
<rect x="26.3" y="2272" width="2271.9" height="9.7"/>
<rect x="1156.3" y="31.7" width="11.4" height="2250"/>
<rect x="26.3" y="1150.5" width="2271.9" height="11.5"/>
</g>
</svg>
</body></html>
